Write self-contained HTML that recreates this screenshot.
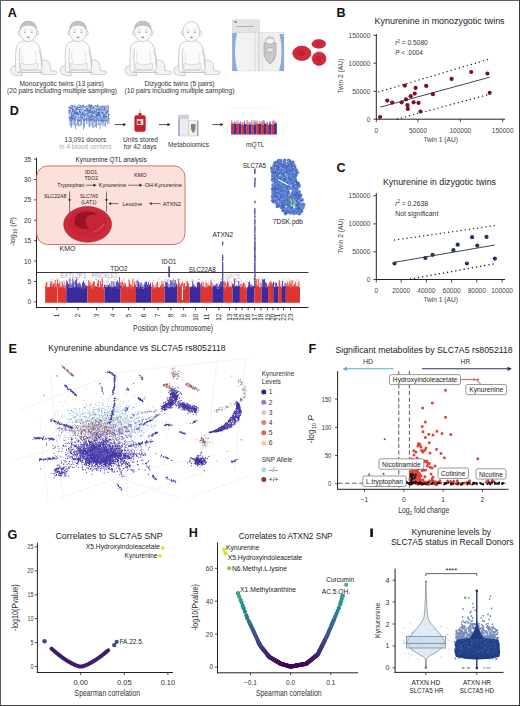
<!DOCTYPE html>
<html><head><meta charset="utf-8"><style>
html,body{margin:0;padding:0;background:#fff;}
svg{display:block;font-family:"Liberation Sans", sans-serif;}
</style></head><body>
<svg width="520" height="706" viewBox="0 0 520 706">
<rect x="0" y="0" width="520" height="706" fill="#fff"/>
<path d="M0 0.5H520" stroke="#5c5c5c" stroke-width="1"/><path d="M0.5 0V706" stroke="#5c5c5c" stroke-width="1"/><path d="M519.5 0V706" stroke="#3a3a3a" stroke-width="1"/><path d="M0 705.5H520" stroke="#444" stroke-width="1"/>
<text x="7.8" y="16.8" font-size="12.6" font-weight="bold" fill="#111">A</text>
<text x="336.6" y="17.3" font-size="12.6" font-weight="bold" fill="#111">B</text>
<text x="336.4" y="171.5" font-size="12.6" font-weight="bold" fill="#111">C</text>
<text x="9.8" y="114.8" font-size="12.6" font-weight="bold" fill="#111">D</text>
<text x="8.6" y="352.9" font-size="12.6" font-weight="bold" fill="#111">E</text>
<text x="308.5" y="353.3" font-size="12.6" font-weight="bold" fill="#111">F</text>
<text x="7.4" y="538.6" font-size="12.6" font-weight="bold" fill="#111">G</text>
<text x="188.8" y="537.0" font-size="12.6" font-weight="bold" fill="#111">H</text>
<rect x="370.3" y="528.5" width="2.6" height="8.5" fill="#111"/>
<g transform="translate(28.3,21.4)" fill="#fafafa" stroke="#b2b2b2" stroke-width="0.6" stroke-linejoin="round"><path d="M-8 44 q-6 -1 -9 2 q-2 4 1 7 q4 2 10 1 z" fill="#f2f2f2"/><path d="M13 39 q5 -2 8 2 q2 5 1 8 l6 1 q2 2 -1 3 l-14 0 q-3 -4 0 -14z" fill="#f4f4f4"/><path d="M-4.5 19.5 q-6 1 -7.5 6 q-1.5 10 -0.5 24 q1 2 3 1.5 l1 -2 h19 q1.5 1 3 -0.5 q1 -12 -2 -22 q-2 -6 -8 -7.5 z" fill="#fbfbfb"/><path d="M-8.5 27 q-1 10 0 21 M11 28 q2 9 2.5 17" fill="none"/><path d="M-6 30 q-1 8 1 12 M7 30 q2 7 0 12" fill="none" stroke="#d4d4d4"/><path d="M-7.5 42 q8 3 17 0 l0.5 5.5 q-9 2 -18 0 z" fill="#f3f3f3" stroke="#c4c4c4"/><path d="M-11 51 h26" stroke="#c8c8c8" stroke-width="1.2"/><ellipse cx="-8.7" cy="11.6" rx="1.5" ry="2.3"/><ellipse cx="8.7" cy="11.6" rx="1.5" ry="2.3"/><ellipse cx="0" cy="10.2" rx="8.5" ry="10" fill="#fbfbfb"/><path d="M-8.2 8 q0 -8 8.2 -8.2 q8.2 0.2 8.2 8.2 q-2 -4 -8.2 -4.4 q-6.2 0.4 -8.2 4.4z" fill="#c4c4c4" stroke="#a8a8a8"/><path d="M-4.6 10.8h2.4M2.2 10.8h2.4" stroke="#8a8a8a" stroke-width="0.8"/><path d="M-5 8.6q1.5 -0.8 3 0M2 8.6q1.5 -0.8 3 0" stroke="#b0b0b0" stroke-width="0.5" fill="none"/><ellipse cx="0" cy="16" rx="1.5" ry="0.8" fill="#9a9a9a" stroke="none"/></g>
<g transform="translate(78.0,21.4)" fill="#fafafa" stroke="#b2b2b2" stroke-width="0.6" stroke-linejoin="round"><path d="M-8 44 q-6 -1 -9 2 q-2 4 1 7 q4 2 10 1 z" fill="#f2f2f2"/><path d="M13 39 q5 -2 8 2 q2 5 1 8 l6 1 q2 2 -1 3 l-14 0 q-3 -4 0 -14z" fill="#f4f4f4"/><path d="M-4.5 19.5 q-6 1 -7.5 6 q-1.5 10 -0.5 24 q1 2 3 1.5 l1 -2 h19 q1.5 1 3 -0.5 q1 -12 -2 -22 q-2 -6 -8 -7.5 z" fill="#fbfbfb"/><path d="M-8.5 27 q-1 10 0 21 M11 28 q2 9 2.5 17" fill="none"/><path d="M-6 30 q-1 8 1 12 M7 30 q2 7 0 12" fill="none" stroke="#d4d4d4"/><path d="M-7.5 42 q8 3 17 0 l0.5 5.5 q-9 2 -18 0 z" fill="#f3f3f3" stroke="#c4c4c4"/><path d="M-11 51 h26" stroke="#c8c8c8" stroke-width="1.2"/><ellipse cx="-8.7" cy="11.6" rx="1.5" ry="2.3"/><ellipse cx="8.7" cy="11.6" rx="1.5" ry="2.3"/><ellipse cx="0" cy="10.2" rx="8.5" ry="10" fill="#fbfbfb"/><path d="M-8.2 8 q0 -8 8.2 -8.2 q8.2 0.2 8.2 8.2 q-2 -4 -8.2 -4.4 q-6.2 0.4 -8.2 4.4z" fill="#c4c4c4" stroke="#a8a8a8"/><path d="M-4.6 10.8h2.4M2.2 10.8h2.4" stroke="#8a8a8a" stroke-width="0.8"/><path d="M-5 8.6q1.5 -0.8 3 0M2 8.6q1.5 -0.8 3 0" stroke="#b0b0b0" stroke-width="0.5" fill="none"/><ellipse cx="0" cy="16" rx="1.5" ry="0.8" fill="#9a9a9a" stroke="none"/></g>
<g transform="translate(142.8,21.4)" fill="#fafafa" stroke="#b2b2b2" stroke-width="0.6" stroke-linejoin="round"><path d="M-8 44 q-6 -1 -9 2 q-2 4 1 7 q4 2 10 1 z" fill="#f2f2f2"/><path d="M13 39 q5 -2 8 2 q2 5 1 8 l6 1 q2 2 -1 3 l-14 0 q-3 -4 0 -14z" fill="#f4f4f4"/><path d="M-4.5 19.5 q-6 1 -7.5 6 q-1.5 10 -0.5 24 q1 2 3 1.5 l1 -2 h19 q1.5 1 3 -0.5 q1 -12 -2 -22 q-2 -6 -8 -7.5 z" fill="#fbfbfb"/><path d="M-8.5 27 q-1 10 0 21 M11 28 q2 9 2.5 17" fill="none"/><path d="M-6 30 q-1 8 1 12 M7 30 q2 7 0 12" fill="none" stroke="#d4d4d4"/><path d="M-7.5 42 q8 3 17 0 l0.5 5.5 q-9 2 -18 0 z" fill="#f3f3f3" stroke="#c4c4c4"/><path d="M-11 51 h26" stroke="#c8c8c8" stroke-width="1.2"/><ellipse cx="-8.7" cy="11.6" rx="1.5" ry="2.3"/><ellipse cx="8.7" cy="11.6" rx="1.5" ry="2.3"/><ellipse cx="0" cy="10.2" rx="8.5" ry="10" fill="#fbfbfb"/><path d="M-8.2 8 q0 -8 8.2 -8.2 q8.2 0.2 8.2 8.2 q-2 -4 -8.2 -4.4 q-6.2 0.4 -8.2 4.4z" fill="#c4c4c4" stroke="#a8a8a8"/><path d="M-4.6 10.8h2.4M2.2 10.8h2.4" stroke="#8a8a8a" stroke-width="0.8"/><path d="M-5 8.6q1.5 -0.8 3 0M2 8.6q1.5 -0.8 3 0" stroke="#b0b0b0" stroke-width="0.5" fill="none"/><ellipse cx="0" cy="16" rx="1.5" ry="0.8" fill="#9a9a9a" stroke="none"/></g>
<g transform="translate(191.4,21.4)" fill="#fafafa" stroke="#b2b2b2" stroke-width="0.6" stroke-linejoin="round"><path d="M-8 44 q-6 -1 -9 2 q-2 4 1 7 q4 2 10 1 z" fill="#f2f2f2"/><path d="M13 39 q5 -2 8 2 q2 5 1 8 l6 1 q2 2 -1 3 l-14 0 q-3 -4 0 -14z" fill="#f4f4f4"/><path d="M-4.5 19.5 q-6 1 -7.5 6 q-1.5 10 -0.5 24 q1 2 3 1.5 l1 -2 h19 q1.5 1 3 -0.5 q1 -12 -2 -22 q-2 -6 -8 -7.5 z" fill="#fbfbfb"/><path d="M-8.5 27 q-1 10 0 21 M11 28 q2 9 2.5 17" fill="none"/><path d="M-6 30 q-1 8 1 12 M7 30 q2 7 0 12" fill="none" stroke="#d4d4d4"/><path d="M-7.5 42 q8 3 17 0 l0.5 5.5 q-9 2 -18 0 z" fill="#f3f3f3" stroke="#c4c4c4"/><path d="M-11 51 h26" stroke="#c8c8c8" stroke-width="1.2"/><ellipse cx="-8.7" cy="11.6" rx="1.5" ry="2.3"/><ellipse cx="8.7" cy="11.6" rx="1.5" ry="2.3"/><ellipse cx="0" cy="10.2" rx="8.5" ry="10" fill="#fbfbfb"/><path d="M-4.6 10.8h2.4M2.2 10.8h2.4" stroke="#8a8a8a" stroke-width="0.8"/><path d="M-5 8.6q1.5 -0.8 3 0M2 8.6q1.5 -0.8 3 0" stroke="#b0b0b0" stroke-width="0.5" fill="none"/><ellipse cx="0" cy="16" rx="1.5" ry="0.8" fill="#9a9a9a" stroke="none"/></g>
<text x="19.5" y="85.6" font-size="7.3" textLength="84.2" lengthAdjust="spacingAndGlyphs" fill="#333">Monozygotic twins (13 pairs)</text>
<text x="7.0" y="93.1" font-size="7.3" textLength="110.0" lengthAdjust="spacingAndGlyphs" fill="#333">(20 pairs including multiple sampling)</text>
<text x="144.5" y="85.6" font-size="7.3" textLength="70.0" lengthAdjust="spacingAndGlyphs" fill="#333">Dizygotic twins (5 pairs)</text>
<text x="124.5" y="93.1" font-size="7.3" textLength="110.0" lengthAdjust="spacingAndGlyphs" fill="#333">(10 pairs including multiple sampling)</text>
<g>
<rect x="232.2" y="19.8" width="27.4" height="13" fill="#e4e4e4" stroke="#cfcfcf" stroke-width="0.4"/>
<rect x="234" y="21.2" width="3" height="1.8" fill="#9a9a9a"/>
<rect x="236.5" y="26.2" width="17" height="0.8" fill="#a0a0a0"/>
<rect x="232.2" y="32.8" width="27.4" height="38.2" fill="#f2f2f2" stroke="#cfcfcf" stroke-width="0.4"/>
<path d="M232.2 33 H237 Q234.8 42 235 52 Q235.3 63 237.5 71 H232.2Z" fill="#8fa9da"/>
<path d="M255 33 V71" stroke="#d4d4d4" stroke-width="0.8"/>
<rect x="257.6" y="33" width="2" height="38" fill="#dcdcdc"/>
<rect x="259.6" y="32.3" width="24.4" height="38.7" fill="#f0f0f0" stroke="#cfcfcf" stroke-width="0.4"/>
<path d="M284 34 H279.5 Q281.8 44 281.6 53 Q281.4 63 279 71 H284Z" fill="#8fa9da"/>
<path d="M262.2 33 v38" stroke="#d2d2d2" stroke-width="0.6"/>
<path d="M264 43 q6 -2.5 12 0 v11 q-1 7 -6 10 q-5 -3 -6 -10z" fill="#c9c9c9" stroke="#8a8a8a" stroke-width="0.5"/>
<ellipse cx="270" cy="40.5" rx="4.2" ry="3.6" fill="#f2f2f2" stroke="#8a8a8a" stroke-width="0.5"/>
<path d="M267 39 q3 -2 6 0" stroke="#888" stroke-width="0.5" fill="none"/>
<rect x="266.8" y="48" width="6.4" height="4" rx="0.8" fill="#e8e8e8" stroke="#888" stroke-width="0.4"/>
</g>
<ellipse cx="301.8" cy="53.3" rx="9.1" ry="7.2" fill="#d42a3e" stroke="#a81a2a" stroke-width="0.6"/>
<ellipse cx="301.3" cy="53.3" rx="4.095" ry="2.8800000000000003" fill="#b01c30" opacity="0.6"/>
<ellipse cx="318.8" cy="43.9" rx="6.9" ry="4.3" fill="#d42a3e" stroke="#a81a2a" stroke-width="0.6"/>
<ellipse cx="318.3" cy="43.9" rx="3.1050000000000004" ry="1.72" fill="#b01c30" opacity="0.6"/>
<ellipse cx="319.1" cy="58.7" rx="6.9" ry="6.7" fill="#d42a3e" stroke="#a81a2a" stroke-width="0.6"/>
<ellipse cx="318.6" cy="58.7" rx="3.1050000000000004" ry="2.68" fill="#b01c30" opacity="0.6"/>
<text x="374.6" y="24.0" font-size="9.2" textLength="130.0" lengthAdjust="spacingAndGlyphs" fill="#222">Kynurenine in monozygotic twins</text>
<line x1="376.3" y1="34.0" x2="376.3" y2="119.7" stroke="#222" stroke-width="1"/>
<line x1="375.8" y1="119.2" x2="505.0" y2="119.2" stroke="#222" stroke-width="1"/>
<line x1="373.3" y1="35.3" x2="376.3" y2="35.3" stroke="#222" stroke-width="0.8"/>
<text x="370.3" y="37.8" font-size="7.1" textLength="21.8" lengthAdjust="spacingAndGlyphs" text-anchor="end" fill="#444">150000</text>
<line x1="373.3" y1="63.2" x2="376.3" y2="63.2" stroke="#222" stroke-width="0.8"/>
<text x="370.3" y="65.7" font-size="7.1" textLength="21.8" lengthAdjust="spacingAndGlyphs" text-anchor="end" fill="#444">100000</text>
<line x1="373.3" y1="91.3" x2="376.3" y2="91.3" stroke="#222" stroke-width="0.8"/>
<text x="370.3" y="93.8" font-size="7.1" textLength="18.1" lengthAdjust="spacingAndGlyphs" text-anchor="end" fill="#444">50000</text>
<line x1="373.3" y1="119.2" x2="376.3" y2="119.2" stroke="#222" stroke-width="0.8"/>
<text x="370.3" y="121.7" font-size="7.1" textLength="3.6" lengthAdjust="spacingAndGlyphs" text-anchor="end" fill="#444">0</text>
<line x1="376.3" y1="119.2" x2="376.3" y2="122.2" stroke="#222" stroke-width="0.8"/>
<text x="376.3" y="132.5" font-size="7.1" textLength="3.6" lengthAdjust="spacingAndGlyphs" text-anchor="middle" fill="#444">0</text>
<line x1="418.0" y1="119.2" x2="418.0" y2="122.2" stroke="#222" stroke-width="0.8"/>
<text x="418.0" y="132.5" font-size="7.1" textLength="18.1" lengthAdjust="spacingAndGlyphs" text-anchor="middle" fill="#444">50000</text>
<line x1="460.3" y1="119.2" x2="460.3" y2="122.2" stroke="#222" stroke-width="0.8"/>
<text x="460.3" y="132.5" font-size="7.1" textLength="21.8" lengthAdjust="spacingAndGlyphs" text-anchor="middle" fill="#444">100000</text>
<line x1="502.7" y1="119.2" x2="502.7" y2="122.2" stroke="#222" stroke-width="0.8"/>
<text x="502.7" y="132.5" font-size="7.1" textLength="21.8" lengthAdjust="spacingAndGlyphs" text-anchor="middle" fill="#444">150000</text>
<text x="423.4" y="141.5" font-size="7.8" textLength="34.6" lengthAdjust="spacingAndGlyphs" fill="#444">Twin 1 (AU)</text>
<text transform="translate(343.2,93.6) rotate(-90)" font-size="7.8" textLength="35" lengthAdjust="spacingAndGlyphs" fill="#444">Twin 2 (AU)</text>
<line x1="378.7" y1="91.9" x2="489.7" y2="59.0" stroke="#222" stroke-width="1.35" stroke-dasharray="0.1 4.1" stroke-linecap="round"/>
<line x1="397.4" y1="119.0" x2="489.7" y2="94.2" stroke="#222" stroke-width="1.35" stroke-dasharray="0.1 4.1" stroke-linecap="round"/>
<line x1="380.1" y1="107.2" x2="489.7" y2="77.2" stroke="#333" stroke-width="0.9"/>
<circle cx="380.1" cy="117" r="2.1" fill="#7a1020"/>
<circle cx="387.3" cy="100.6" r="2.1" fill="#7a1020"/>
<circle cx="392.2" cy="102.6" r="2.1" fill="#7a1020"/>
<circle cx="401.7" cy="102.3" r="2.1" fill="#7a1020"/>
<circle cx="404.9" cy="85.6" r="2.1" fill="#7a1020"/>
<circle cx="406" cy="99.4" r="2.1" fill="#7a1020"/>
<circle cx="407.5" cy="105.2" r="2.1" fill="#7a1020"/>
<circle cx="407.8" cy="108.9" r="2.1" fill="#7a1020"/>
<circle cx="410.7" cy="96.2" r="2.1" fill="#7a1020"/>
<circle cx="413.6" cy="102.3" r="2.1" fill="#7a1020"/>
<circle cx="414.7" cy="93.6" r="2.1" fill="#7a1020"/>
<circle cx="415.6" cy="87.9" r="2.1" fill="#7a1020"/>
<circle cx="418.5" cy="102.9" r="2.1" fill="#7a1020"/>
<circle cx="420.5" cy="111.5" r="2.1" fill="#7a1020"/>
<circle cx="426.2" cy="85.9" r="2.1" fill="#7a1020"/>
<circle cx="432.9" cy="94.2" r="2.1" fill="#7a1020"/>
<circle cx="451.6" cy="78.9" r="2.1" fill="#7a1020"/>
<circle cx="471.2" cy="72" r="2.1" fill="#7a1020"/>
<circle cx="487.4" cy="73.5" r="2.1" fill="#7a1020"/>
<circle cx="489.7" cy="92.8" r="2.1" fill="#7a1020"/>
<text x="395.3" y="45.2" font-size="7.1" textLength="32.5" lengthAdjust="spacingAndGlyphs" fill="#333"><tspan font-style="italic">r</tspan><tspan font-size="4.5" dy="-2.5">2</tspan><tspan dy="2.5"> = 0.5080</tspan></text>
<text x="395.3" y="55.3" font-size="7.1" textLength="27.5" lengthAdjust="spacingAndGlyphs" fill="#333"><tspan font-style="italic">P</tspan> &lt; .0004</text>
<text x="383.0" y="184.6" font-size="9.2" textLength="113.0" lengthAdjust="spacingAndGlyphs" fill="#222">Kynurenine in dizygotic twins</text>
<line x1="376.3" y1="193.2" x2="376.3" y2="280.0" stroke="#222" stroke-width="1"/>
<line x1="375.8" y1="279.5" x2="505.0" y2="279.5" stroke="#222" stroke-width="1"/>
<line x1="373.3" y1="195.7" x2="376.3" y2="195.7" stroke="#222" stroke-width="0.8"/>
<text x="370.3" y="198.2" font-size="7.1" textLength="21.8" lengthAdjust="spacingAndGlyphs" text-anchor="end" fill="#444">150000</text>
<line x1="373.3" y1="223.9" x2="376.3" y2="223.9" stroke="#222" stroke-width="0.8"/>
<text x="370.3" y="226.4" font-size="7.1" textLength="21.8" lengthAdjust="spacingAndGlyphs" text-anchor="end" fill="#444">100000</text>
<line x1="373.3" y1="251.9" x2="376.3" y2="251.9" stroke="#222" stroke-width="0.8"/>
<text x="370.3" y="254.4" font-size="7.1" textLength="18.1" lengthAdjust="spacingAndGlyphs" text-anchor="end" fill="#444">50000</text>
<line x1="373.3" y1="279.5" x2="376.3" y2="279.5" stroke="#222" stroke-width="0.8"/>
<text x="370.3" y="282.0" font-size="7.1" textLength="3.6" lengthAdjust="spacingAndGlyphs" text-anchor="end" fill="#444">0</text>
<line x1="376.3" y1="279.5" x2="376.3" y2="282.5" stroke="#222" stroke-width="0.8"/>
<text x="376.3" y="292.8" font-size="7.1" textLength="3.6" lengthAdjust="spacingAndGlyphs" text-anchor="middle" fill="#444">0</text>
<line x1="401.2" y1="279.5" x2="401.2" y2="282.5" stroke="#222" stroke-width="0.8"/>
<text x="401.2" y="292.8" font-size="7.1" textLength="18.1" lengthAdjust="spacingAndGlyphs" text-anchor="middle" fill="#444">20000</text>
<line x1="426.4" y1="279.5" x2="426.4" y2="282.5" stroke="#222" stroke-width="0.8"/>
<text x="426.4" y="292.8" font-size="7.1" textLength="18.1" lengthAdjust="spacingAndGlyphs" text-anchor="middle" fill="#444">40000</text>
<line x1="451.6" y1="279.5" x2="451.6" y2="282.5" stroke="#222" stroke-width="0.8"/>
<text x="451.6" y="292.8" font-size="7.1" textLength="18.1" lengthAdjust="spacingAndGlyphs" text-anchor="middle" fill="#444">60000</text>
<line x1="476.8" y1="279.5" x2="476.8" y2="282.5" stroke="#222" stroke-width="0.8"/>
<text x="476.8" y="292.8" font-size="7.1" textLength="18.1" lengthAdjust="spacingAndGlyphs" text-anchor="middle" fill="#444">80000</text>
<line x1="502.1" y1="279.5" x2="502.1" y2="282.5" stroke="#222" stroke-width="0.8"/>
<text x="502.1" y="292.8" font-size="7.1" textLength="21.8" lengthAdjust="spacingAndGlyphs" text-anchor="middle" fill="#444">100000</text>
<text x="423.4" y="301.8" font-size="7.8" textLength="34.6" lengthAdjust="spacingAndGlyphs" fill="#444">Twin 1 (AU)</text>
<text transform="translate(343.2,253.4) rotate(-90)" font-size="7.8" textLength="35" lengthAdjust="spacingAndGlyphs" fill="#444">Twin 2 (AU)</text>
<line x1="394.5" y1="240.1" x2="496.0" y2="225.4" stroke="#222" stroke-width="1.35" stroke-dasharray="0.1 4.1" stroke-linecap="round"/>
<line x1="410.4" y1="279.0" x2="496.0" y2="263.5" stroke="#222" stroke-width="1.35" stroke-dasharray="0.1 4.1" stroke-linecap="round"/>
<line x1="394.5" y1="262.3" x2="494.9" y2="245.0" stroke="#333" stroke-width="0.9"/>
<circle cx="394.5" cy="263.5" r="2.1" fill="#1d3a5e"/>
<circle cx="425.4" cy="258" r="2.1" fill="#1d3a5e"/>
<circle cx="432.6" cy="254.8" r="2.1" fill="#1d3a5e"/>
<circle cx="453.4" cy="250.2" r="2.1" fill="#1d3a5e"/>
<circle cx="457.7" cy="244.7" r="2.1" fill="#1d3a5e"/>
<circle cx="466.9" cy="263.5" r="2.1" fill="#1d3a5e"/>
<circle cx="472.1" cy="237.2" r="2.1" fill="#1d3a5e"/>
<circle cx="477.3" cy="245.6" r="2.1" fill="#1d3a5e"/>
<circle cx="486.5" cy="236.9" r="2.1" fill="#1d3a5e"/>
<circle cx="494.9" cy="258.6" r="2.1" fill="#1d3a5e"/>
<text x="395.3" y="205.8" font-size="7.1" textLength="32.7" lengthAdjust="spacingAndGlyphs" fill="#333"><tspan font-style="italic">r</tspan><tspan font-size="4.5" dy="-2.5">2</tspan><tspan dy="2.5"> = 0.2638</tspan></text>
<text x="395.3" y="215.9" font-size="7.1" textLength="43.0" lengthAdjust="spacingAndGlyphs" fill="#333">Not significant</text>
<path d="M69.5 106 L108.5 105.5 L108.8 119 L69.2 118.5Z" fill="#8ca6da"/>
<path d="M82.0 107.4h0M95.0 106.2h0M90.4 110.9h0M71.3 113.1h0M70.5 111.9h0M71.8 106.5h0M86.0 118.2h0M74.0 108.6h0M94.1 120.2h0M92.1 111.3h0M108.1 105.7h0M103.3 109.6h0M74.8 106.9h0M81.3 118.1h0M76.2 114.3h0M94.6 111.0h0M90.9 106.0h0M71.4 108.3h0M96.2 111.8h0M81.6 114.4h0M87.1 109.8h0M100.8 116.2h0M78.8 114.2h0M90.0 119.0h0M98.2 109.6h0M108.2 106.9h0M85.7 117.1h0M75.1 112.8h0M70.6 115.7h0M99.6 114.2h0M104.0 110.0h0M96.8 114.5h0M92.2 112.3h0M102.6 120.1h0M88.0 115.6h0M71.4 116.2h0M94.9 120.9h0M101.9 109.6h0M84.4 115.7h0M69.9 112.4h0M75.7 106.9h0M71.4 117.3h0M74.2 109.0h0M84.6 118.9h0M72.2 112.2h0M91.0 119.1h0M101.8 118.8h0M80.1 111.6h0M83.4 119.1h0M107.3 107.4h0M76.0 108.7h0M78.3 112.8h0M92.6 109.2h0M69.2 111.7h0M83.8 114.1h0M107.1 116.0h0M89.6 114.9h0M96.0 105.9h0M105.0 117.5h0M104.0 117.8h0M84.7 111.4h0M73.1 115.1h0M71.5 106.1h0M77.4 107.6h0M82.6 105.8h0M69.0 107.4h0M73.1 110.8h0M70.0 119.0h0M93.6 107.4h0M79.1 110.6h0M83.6 107.0h0M103.0 120.9h0M87.6 112.7h0M72.4 106.6h0M82.7 109.2h0M102.2 107.6h0M69.9 120.2h0M90.1 107.3h0M90.7 105.4h0M90.1 120.7h0M103.5 116.1h0M79.4 110.9h0M75.7 117.4h0M90.3 117.5h0M82.2 108.6h0M101.5 120.8h0M103.1 117.9h0M101.7 116.8h0M78.1 113.3h0M83.2 105.5h0M70.1 109.5h0M79.4 116.1h0M107.3 112.2h0M106.5 120.8h0M107.2 110.8h0M77.8 108.6h0M76.9 108.3h0M94.0 119.4h0M102.6 112.7h0M95.1 117.8h0M72.4 115.6h0M105.4 117.5h0M99.0 112.6h0M76.1 117.6h0M82.3 117.8h0M107.9 111.3h0M85.1 120.1h0M98.0 107.7h0M74.1 107.4h0M105.2 117.9h0M74.8 118.2h0M108.2 115.5h0M83.0 113.8h0M74.2 105.2h0M107.8 115.4h0M90.1 119.9h0M86.4 118.9h0M102.0 108.4h0M79.1 109.7h0M78.6 114.4h0M79.4 111.7h0M74.2 119.6h0M83.2 112.3h0M92.3 119.5h0M85.8 119.7h0M89.1 113.5h0M89.9 105.3h0M86.6 107.9h0M69.2 117.8h0M75.9 112.6h0M98.0 113.9h0M82.0 113.3h0M91.2 117.5h0M73.2 114.0h0M78.9 109.4h0M99.9 113.1h0M91.5 117.2h0M105.5 112.1h0M93.5 113.1h0M89.5 116.1h0M87.1 113.5h0M88.1 120.1h0M97.0 119.0h0M106.7 109.2h0M91.4 120.1h0M102.6 107.2h0M73.9 112.1h0M71.9 108.9h0M71.9 115.7h0M100.4 119.4h0M75.2 116.5h0M95.4 107.3h0M104.3 120.5h0M77.8 120.2h0M84.9 112.8h0M108.6 118.3h0M75.5 111.9h0M89.6 110.4h0M76.8 110.1h0M97.9 105.3h0M91.2 112.0h0M69.7 110.3h0M94.0 113.2h0M71.6 120.8h0M100.5 120.5h0M73.2 109.2h0M70.6 117.5h0M79.8 107.1h0M85.9 119.6h0M101.8 109.1h0M75.0 119.7h0M91.8 116.2h0M72.6 105.9h0M96.5 111.8h0M71.9 120.0h0M94.4 117.8h0M72.3 118.7h0M71.7 118.8h0M87.2 110.4h0M91.1 119.8h0M79.7 107.1h0M90.1 108.8h0M73.4 107.6h0M71.0 108.2h0M81.5 109.9h0M99.4 109.6h0M89.0 107.8h0M82.9 105.3h0M79.0 105.2h0M98.3 113.8h0M76.6 112.6h0M106.4 106.7h0M101.8 111.9h0M88.8 118.4h0M84.7 113.1h0M96.5 120.7h0M82.7 118.3h0M97.3 115.2h0M85.2 110.6h0M71.2 107.1h0M71.8 116.9h0M79.2 107.6h0M72.4 118.5h0M103.8 115.7h0M80.3 108.9h0M80.7 112.4h0M75.3 112.1h0M79.5 120.4h0M107.9 113.8h0M78.8 120.5h0M81.4 110.7h0M69.0 111.1h0M88.0 113.0h0M77.0 113.1h0M69.2 109.2h0M72.6 111.4h0M70.7 105.4h0M81.2 108.7h0M92.4 113.5h0M99.0 115.5h0M97.6 119.1h0M84.6 110.2h0M108.4 107.4h0M98.0 115.3h0M70.8 118.4h0M104.7 115.0h0M98.4 118.0h0M74.6 113.4h0M89.2 118.4h0M101.2 118.2h0M92.4 119.3h0M96.3 116.1h0M78.2 105.5h0M74.3 110.8h0M73.2 118.4h0M91.3 115.0h0M94.0 115.9h0M88.6 105.1h0M100.9 117.0h0M89.1 113.6h0M95.4 106.1h0M98.5 109.0h0M72.0 109.2h0M98.2 108.3h0M98.6 120.6h0M88.8 111.1h0M88.2 115.9h0M99.7 114.9h0M94.7 106.2h0M74.9 109.1h0M98.7 109.9h0M91.7 105.2h0M71.4 109.3h0M95.9 116.1h0M96.0 109.7h0M89.7 112.4h0M87.7 106.9h0M104.7 108.2h0M108.1 120.0h0M69.7 112.3h0M101.8 120.5h0M87.0 109.3h0M77.4 120.1h0M77.4 114.3h0M74.7 113.4h0M107.1 107.1h0M101.8 113.1h0M104.5 116.3h0M78.3 119.4h0M88.4 105.4h0M69.1 112.9h0M87.0 109.8h0M74.6 110.5h0M81.6 118.4h0M69.1 117.0h0M102.6 106.9h0M106.1 116.4h0M105.1 109.6h0M83.9 111.3h0M109.0 114.4h0M83.4 111.8h0M80.0 105.8h0M73.1 118.4h0M80.4 120.0h0M79.0 109.3h0M89.4 108.0h0M83.9 120.3h0M104.4 118.0h0M94.2 119.6h0M106.6 113.8h0M97.8 105.8h0M98.3 112.2h0M99.1 115.3h0M80.4 105.8h0M106.1 107.0h0M87.9 110.5h0M80.9 116.8h0M108.1 109.2h0M95.2 109.8h0M91.3 111.3h0" stroke="#4e6fbf" stroke-width="1.5" stroke-linecap="round"/>
<path d="M75.7 107.3h0M77.3 118.1h0M88.9 108.2h0M105.3 119.4h0M87.0 107.0h0M76.7 106.3h0M82.7 106.3h0M78.6 108.7h0M91.8 117.9h0M99.0 111.0h0M85.6 112.6h0M84.1 109.9h0M71.5 109.0h0M107.7 106.8h0M89.1 114.1h0M103.5 108.1h0M79.8 108.6h0M85.0 111.5h0M107.2 117.3h0M103.9 105.3h0M70.3 115.3h0M104.8 111.9h0M92.5 105.0h0M84.7 118.4h0M102.0 117.4h0M107.9 108.6h0M73.4 107.2h0M89.9 114.9h0M106.7 115.5h0M94.9 116.1h0M87.3 113.0h0M70.6 116.3h0M78.3 118.3h0M94.8 109.4h0M74.1 108.7h0M94.5 115.1h0M73.5 106.0h0M90.0 113.5h0M84.5 108.2h0M93.0 105.2h0M81.1 111.7h0M107.4 114.3h0M104.4 111.9h0M78.4 108.6h0M107.4 115.2h0M81.3 105.3h0M88.9 114.8h0M85.8 108.7h0M95.7 118.4h0M78.1 105.5h0M82.5 111.1h0M96.3 107.9h0M100.9 115.7h0M89.2 108.0h0M107.8 109.5h0M101.8 108.3h0M77.9 116.0h0M80.8 118.8h0M88.8 107.7h0M77.9 111.0h0M95.6 118.8h0M74.9 110.7h0M77.5 119.1h0M74.7 105.8h0M71.4 110.7h0M104.9 117.8h0M98.3 119.5h0M106.3 109.8h0M76.4 118.6h0M98.9 105.5h0M95.6 110.5h0M84.0 109.8h0M75.8 105.0h0M80.2 110.1h0M107.2 106.8h0M107.6 108.0h0M83.3 116.9h0M101.9 111.3h0M71.0 111.9h0M83.9 118.3h0M76.7 110.3h0M104.9 105.4h0M85.4 116.8h0M99.7 105.6h0M70.4 105.9h0M105.8 108.7h0M98.9 118.0h0M82.6 108.9h0M107.3 113.9h0M79.5 115.4h0M81.7 109.0h0M69.2 116.0h0M105.7 114.2h0M106.7 105.4h0M78.4 111.9h0M107.3 118.8h0M84.5 108.6h0M86.2 112.2h0M106.1 107.7h0M101.1 115.7h0M101.9 116.2h0M93.3 109.8h0M81.8 110.2h0M100.3 106.1h0M76.9 115.9h0M78.9 105.9h0M70.4 113.0h0M82.0 119.2h0M104.3 119.3h0M79.6 106.2h0M72.9 112.2h0M97.4 111.5h0M78.4 111.0h0M93.8 114.8h0M98.9 117.3h0M95.6 106.8h0M102.6 109.3h0M91.7 110.4h0M98.5 107.9h0M78.9 108.6h0M75.1 117.8h0M92.1 109.7h0M84.8 119.4h0M89.3 108.4h0M101.3 114.5h0M108.6 106.5h0M88.0 116.9h0M102.6 118.3h0M70.6 109.3h0M73.8 107.7h0M107.9 113.5h0M106.2 110.4h0M103.6 111.5h0M79.4 116.3h0M106.8 106.5h0M92.8 114.0h0M77.7 110.3h0M74.7 108.0h0M79.2 113.7h0M95.1 107.9h0M69.5 109.7h0M96.1 107.7h0M81.5 107.9h0M100.8 112.9h0M71.5 106.5h0M84.8 113.0h0M94.6 106.3h0M75.5 115.1h0M85.4 109.1h0M81.3 118.8h0M81.5 113.2h0M83.3 111.0h0M103.6 119.5h0M83.6 107.9h0M98.1 108.0h0M69.2 118.1h0M86.0 116.9h0M85.2 117.8h0M87.4 107.4h0M69.6 113.0h0M94.6 118.2h0M72.6 114.0h0M83.8 112.3h0M74.8 109.1h0M89.8 118.4h0M73.4 112.1h0M101.2 119.0h0M76.9 106.8h0M106.7 119.1h0M88.3 105.8h0" stroke="#e4ebf8" stroke-width="1.1" stroke-linecap="round"/>
<path d="M70.1 118.5v7.7M71.5 118.5v9.3M73.0 118.5v6.1M74.5 118.5v6.6M75.7 118.5v10.9M77.5 118.5v6.3M78.6 118.5v7.8M80.3 118.5v7.7M81.6 118.5v6.7M83.4 118.5v11.3M84.5 118.5v8.9M86.5 118.5v5.3M88.0 118.5v5.8M89.4 118.5v8.9M90.9 118.5v7.1M92.3 118.5v9.1M93.8 118.5v9.6M95.3 118.5v8.1M96.5 118.5v9.3M98.3 118.5v6.6M100.0 118.5v10.5M101.3 118.5v6.3M102.8 118.5v5.7M104.1 118.5v8.0M105.6 118.5v8.1M107.3 118.5v5.3M108.9 118.5v5.6" stroke="#5a78c0" stroke-width="0.7"/>
<path d="M97.9 124.2h0M89.4 118.4h0M89.1 121.0h0M106.1 119.1h0M102.6 126.0h0M97.8 124.5h0M77.4 125.9h0M88.7 125.7h0M104.8 119.3h0M100.0 125.4h0M72.5 120.8h0M98.7 119.3h0M104.1 120.2h0M101.0 119.1h0M89.1 125.4h0M77.9 120.1h0M89.2 120.6h0M71.4 119.5h0M76.1 125.5h0M95.8 125.2h0M76.4 124.3h0M74.4 122.2h0M94.2 120.9h0M103.2 122.4h0M92.0 125.1h0M74.0 125.9h0M93.9 121.2h0M100.3 120.1h0M107.6 122.6h0M83.7 124.1h0M86.8 119.4h0M98.3 118.4h0M101.2 120.0h0M94.3 125.9h0M92.3 123.3h0M81.9 118.0h0M71.3 119.2h0M93.4 121.5h0M89.5 125.2h0M75.0 119.8h0M94.8 118.2h0M70.1 120.8h0M74.0 120.9h0M78.5 122.7h0M92.4 119.6h0M93.7 121.8h0M75.1 125.5h0M79.3 119.2h0M73.6 123.1h0M103.1 124.3h0M85.3 120.1h0M70.4 123.2h0M91.4 120.8h0M94.5 121.6h0M105.6 123.9h0M79.4 125.2h0M71.7 122.3h0M85.4 119.9h0M72.2 124.2h0M70.5 122.4h0M105.8 119.1h0M77.6 122.9h0M89.3 123.1h0M100.9 119.4h0M81.8 120.4h0M71.8 125.1h0M99.8 123.7h0M70.2 124.8h0M98.3 121.7h0M98.2 121.6h0" stroke="#7d97d0" stroke-width="1.0" stroke-linecap="round"/>
<line x1="114.5" y1="124.6" x2="123.7" y2="124.6" stroke="#222" stroke-width="0.8"/>
<path d="M126.2 124.6 l-3 -1.6 v3.2z" fill="#222"/>
<line x1="159.0" y1="124.6" x2="168.0" y2="124.6" stroke="#222" stroke-width="0.8"/>
<path d="M170.5 124.6 l-3 -1.6 v3.2z" fill="#222"/>
<line x1="212.4" y1="124.6" x2="221.0" y2="124.6" stroke="#222" stroke-width="0.8"/>
<path d="M223.5 124.6 l-3 -1.6 v3.2z" fill="#222"/>
<path d="M140 109 v6" stroke="#888" stroke-width="0.6"/>
<rect x="138.5" y="113" width="3" height="2.5" fill="#c22"/>
<rect x="134.4" y="115.3" width="11.3" height="16.4" rx="2" fill="#c8202a"/>
<rect x="136.8" y="119" width="6.5" height="6" fill="#f3d6d8"/>
<rect x="137.6" y="121" width="3" height="3" fill="#c8202a"/>
<rect x="178.3" y="115" width="10.5" height="21" fill="#ececec" stroke="#bbb" stroke-width="0.4"/>
<rect x="178.3" y="115" width="10.5" height="4" fill="#d0d0d0"/>
<rect x="178.3" y="119" width="1.4" height="17" fill="#8aa6d8"/>
<rect x="188.8" y="120.5" width="9.5" height="15.5" fill="#efefef" stroke="#bbb" stroke-width="0.4"/>
<rect x="197" y="121" width="1.3" height="15" fill="#8aa6d8"/>
<path d="M191 124 h4.5 v5 q-1 3 -2.2 4 q-1.3 -1 -2.3 -4z" fill="#7d8580"/>
<rect x="228" y="108" width="50" height="28" fill="none" stroke="#eee" stroke-width="0.5"/>
<rect x="231.00" y="123.7" width="2.39" height="10.8" fill="#d6302e"/><path d="M231.7 124.2V119.9M231.9 124.2V122.2M232.5 124.2V122.5" stroke="#d6302e" stroke-width="0.6" opacity="0.8"/><rect x="233.34" y="123.9" width="2.68" height="10.6" fill="#3a2f9a"/><path d="M234.8 124.4V121.2M235.2 124.4V121.5M234.2 124.4V121.9" stroke="#3a2f9a" stroke-width="0.6" opacity="0.8"/><rect x="235.96" y="123.8" width="2.83" height="10.7" fill="#d6302e"/><path d="M238.2 124.3V119.8M236.8 124.3V120.6M237.9 124.3V122.8" stroke="#d6302e" stroke-width="0.6" opacity="0.8"/><rect x="238.74" y="124.0" width="2.70" height="10.5" fill="#3a2f9a"/><path d="M240.8 124.5V120.9M239.5 124.5V122.7M240.3 124.5V122.0" stroke="#3a2f9a" stroke-width="0.6" opacity="0.8"/><rect x="241.39" y="125.0" width="2.65" height="9.5" fill="#d6302e"/><path d="M242.6 125.5V122.5M243.1 125.5V122.5M242.6 125.5V122.1" stroke="#d6302e" stroke-width="0.6" opacity="0.8"/><rect x="243.99" y="124.0" width="2.59" height="10.5" fill="#3a2f9a"/><path d="M244.7 124.5V121.8M244.4 124.5V122.7M244.6 124.5V119.9" stroke="#3a2f9a" stroke-width="0.6" opacity="0.8"/><rect x="246.53" y="124.9" width="2.31" height="9.6" fill="#d6302e"/><path d="M247.4 125.4V120.3M246.9 125.4V119.9M248.0 125.4V121.8" stroke="#d6302e" stroke-width="0.6" opacity="0.8"/><rect x="248.79" y="124.6" width="2.67" height="9.9" fill="#3a2f9a"/><path d="M249.2 125.1V121.7M249.8 125.1V122.4M250.7 125.1V122.7" stroke="#3a2f9a" stroke-width="0.6" opacity="0.8"/><rect x="251.41" y="124.8" width="2.29" height="9.7" fill="#d6302e"/><path d="M253.2 125.3V122.8M251.9 125.3V120.5M251.9 125.3V119.9" stroke="#d6302e" stroke-width="0.6" opacity="0.8"/><rect x="253.65" y="124.7" width="2.76" height="9.8" fill="#3a2f9a"/><path d="M255.3 125.2V122.4M255.3 125.2V120.7M254.2 125.2V120.1" stroke="#3a2f9a" stroke-width="0.6" opacity="0.8"/><rect x="256.36" y="123.8" width="2.70" height="10.7" fill="#d6302e"/><path d="M257.3 124.3V121.2M256.7 124.3V120.6M257.2 124.3V122.1" stroke="#d6302e" stroke-width="0.6" opacity="0.8"/><rect x="259.02" y="124.0" width="2.47" height="10.5" fill="#3a2f9a"/><path d="M261.1 124.5V121.4M260.9 124.5V121.8M259.4 124.5V121.1" stroke="#3a2f9a" stroke-width="0.6" opacity="0.8"/><rect x="261.44" y="124.7" width="2.51" height="9.8" fill="#d6302e"/><path d="M262.4 125.2V122.1M262.7 125.2V120.5M263.3 125.2V120.1" stroke="#d6302e" stroke-width="0.6" opacity="0.8"/><rect x="263.90" y="123.8" width="2.74" height="10.7" fill="#3a2f9a"/><path d="M264.2 124.3V120.4M265.8 124.3V122.9M264.2 124.3V121.4" stroke="#3a2f9a" stroke-width="0.6" opacity="0.8"/><rect x="266.59" y="124.7" width="2.54" height="9.8" fill="#d6302e"/><path d="M267.2 125.2V121.4M267.5 125.2V122.5M267.4 125.2V122.8" stroke="#d6302e" stroke-width="0.6" opacity="0.8"/><rect x="269.08" y="123.8" width="2.42" height="10.7" fill="#3a2f9a"/><path d="M270.6 124.3V121.4M269.6 124.3V121.8M269.5 124.3V122.3" stroke="#3a2f9a" stroke-width="0.6" opacity="0.8"/><rect x="271.46" y="124.7" width="2.67" height="9.8" fill="#d6302e"/><path d="M273.0 125.2V120.9M272.6 125.2V121.1M273.6 125.2V120.1" stroke="#d6302e" stroke-width="0.6" opacity="0.8"/><rect x="274.07" y="123.5" width="2.78" height="11.0" fill="#3a2f9a"/><path d="M274.8 124.0V120.6M276.3 124.0V121.4M275.2 124.0V122.6" stroke="#3a2f9a" stroke-width="0.6" opacity="0.8"/>
<text x="64.5" y="142.2" font-size="7.6" textLength="41.9" lengthAdjust="spacingAndGlyphs" fill="#333">13,091 donors</text>
<text x="59.2" y="149.3" font-size="7.6" textLength="52.5" lengthAdjust="spacingAndGlyphs" fill="#aaa">in 4 blood centers</text>
<text x="123.1" y="142.2" font-size="7.6" textLength="34.9" lengthAdjust="spacingAndGlyphs" fill="#333">Units stored</text>
<text x="123.8" y="149.3" font-size="7.6" textLength="32.7" lengthAdjust="spacingAndGlyphs" fill="#333">for 42 days</text>
<text x="168.0" y="147.0" font-size="7.6" textLength="41.0" lengthAdjust="spacingAndGlyphs" fill="#333">Metabolomics</text>
<text x="246.0" y="147.0" font-size="7.6" textLength="18.4" lengthAdjust="spacingAndGlyphs" fill="#333">mQTL</text>
<line x1="36.5" y1="157.7" x2="36.5" y2="307.9" stroke="#222" stroke-width="1"/>
<line x1="36.0" y1="307.5" x2="308.5" y2="307.5" stroke="#222" stroke-width="1"/>
<line x1="34.0" y1="301.9" x2="36.5" y2="301.9" stroke="#222" stroke-width="0.8"/>
<text x="31.2" y="304.3" font-size="6.8" textLength="3.6" lengthAdjust="spacingAndGlyphs" text-anchor="end" fill="#333">0</text>
<line x1="34.0" y1="281.5" x2="36.5" y2="281.5" stroke="#222" stroke-width="0.8"/>
<text x="31.2" y="283.9" font-size="6.8" textLength="3.6" lengthAdjust="spacingAndGlyphs" text-anchor="end" fill="#333">5</text>
<line x1="34.0" y1="261.1" x2="36.5" y2="261.1" stroke="#222" stroke-width="0.8"/>
<text x="31.2" y="263.5" font-size="6.8" textLength="7.2" lengthAdjust="spacingAndGlyphs" text-anchor="end" fill="#333">10</text>
<line x1="34.0" y1="240.7" x2="36.5" y2="240.7" stroke="#222" stroke-width="0.8"/>
<text x="31.2" y="243.1" font-size="6.8" textLength="7.2" lengthAdjust="spacingAndGlyphs" text-anchor="end" fill="#333">15</text>
<line x1="34.0" y1="220.3" x2="36.5" y2="220.3" stroke="#222" stroke-width="0.8"/>
<text x="31.2" y="222.7" font-size="6.8" textLength="7.2" lengthAdjust="spacingAndGlyphs" text-anchor="end" fill="#333">20</text>
<line x1="34.0" y1="199.9" x2="36.5" y2="199.9" stroke="#222" stroke-width="0.8"/>
<text x="31.2" y="202.3" font-size="6.8" textLength="7.2" lengthAdjust="spacingAndGlyphs" text-anchor="end" fill="#333">25</text>
<line x1="34.0" y1="179.5" x2="36.5" y2="179.5" stroke="#222" stroke-width="0.8"/>
<text x="31.2" y="181.9" font-size="6.8" textLength="7.2" lengthAdjust="spacingAndGlyphs" text-anchor="end" fill="#333">30</text>
<line x1="34.0" y1="159.1" x2="36.5" y2="159.1" stroke="#222" stroke-width="0.8"/>
<text x="31.2" y="161.5" font-size="6.8" textLength="7.2" lengthAdjust="spacingAndGlyphs" text-anchor="end" fill="#333">35</text>
<text transform="translate(15.2,246.2) rotate(-90)" font-size="7.8" textLength="29" lengthAdjust="spacingAndGlyphs" fill="#333">-log<tspan font-size="5.4" dy="1.8">10</tspan><tspan dy="-1.8"> (</tspan><tspan font-style="italic">P</tspan>)</text>
<path d="M45.2 302.7 L45.2 286.6 L46.4 287.3 L47.8 287.9 L49.1 286.9 L50.2 286.4 L51.6 287.7 L53.0 286.4 L54.2 287.9 L55.4 286.3 L56.6 288.2 L57.5 286.5 L57.5 302.7Z" fill="#de3530"/><path d="M57.5 302.7 L57.5 288.0 L59.1 287.3 L59.9 287.4 L61.2 287.8 L62.4 287.6 L63.8 287.3 L65.0 288.4 L65.9 287.7 L66.3 287.9 L66.3 302.7Z" fill="#de3530"/><path d="M66.3 302.7 L66.3 287.6 L67.6 286.9 L69.2 288.1 L70.0 288.1 L71.5 288.0 L72.5 288.1 L73.8 286.0 L74.6 288.4 L75.9 286.6 L76.8 286.4 L77.8 287.9 L78.8 286.4 L80.4 288.0 L81.3 288.2 L82.6 288.0 L83.9 288.2 L85.3 288.1 L86.3 287.7 L87.5 287.9 L87.5 302.7Z" fill="#3a2a9e"/><path d="M87.5 302.7 L87.5 287.2 L88.6 286.3 L89.9 286.5 L90.9 286.0 L91.7 287.7 L92.6 288.4 L93.4 288.2 L94.3 286.0 L95.7 286.6 L97.1 286.5 L97.9 287.9 L99.3 288.1 L100.7 286.2 L102.0 287.8 L103.2 288.3 L104.2 288.4 L104.5 286.0 L104.5 302.7Z" fill="#de3530"/><path d="M104.5 302.7 L104.5 286.1 L106.1 286.9 L107.0 287.6 L108.4 286.4 L109.7 286.9 L110.9 286.1 L111.7 288.5 L113.2 287.2 L114.5 286.7 L115.9 287.1 L117.5 287.9 L118.9 288.4 L119.9 286.1 L120.6 286.5 L120.6 302.7Z" fill="#3a2a9e"/><path d="M120.6 302.7 L120.6 286.1 L122.1 287.7 L123.1 287.2 L124.1 286.6 L125.1 286.9 L126.7 288.5 L128.2 286.2 L129.2 288.2 L130.1 287.8 L131.1 288.4 L131.9 288.0 L133.0 286.4 L133.8 288.1 L135.0 286.5 L136.0 288.3 L136.0 302.7Z" fill="#de3530"/><path d="M136.0 302.7 L136.0 287.1 L137.5 287.3 L138.6 288.4 L140.0 286.8 L141.0 286.8 L142.2 288.5 L143.6 288.3 L145.0 288.1 L145.9 287.3 L147.5 288.3 L148.5 287.1 L149.8 286.9 L151.0 286.2 L151.2 287.3 L151.2 302.7Z" fill="#3a2a9e"/><path d="M151.2 302.7 L151.2 287.9 L152.4 288.0 L153.7 288.3 L154.6 288.2 L155.5 287.9 L156.7 287.2 L158.3 287.4 L159.4 288.0 L160.9 287.5 L162.0 287.1 L163.2 287.8 L164.2 287.0 L164.6 287.0 L164.6 302.7Z" fill="#de3530"/><path d="M164.6 302.7 L164.6 287.0 L166.0 286.8 L167.4 286.0 L168.4 288.1 L169.7 287.7 L170.7 287.2 L171.9 286.7 L173.2 287.3 L174.8 287.4 L175.9 286.3 L176.9 287.9 L177.4 286.3 L177.4 302.7Z" fill="#3a2a9e"/><path d="M177.4 302.7 L177.4 286.7 L178.9 286.3 L180.0 288.1 L181.5 286.4 L182.5 287.8 L183.7 288.4 L184.6 288.4 L185.8 286.6 L187.0 286.3 L188.3 286.7 L189.7 287.5 L189.7 302.7Z" fill="#de3530"/><path d="M189.7 302.7 L189.7 286.0 L191.2 287.9 L192.2 286.1 L193.7 287.5 L194.5 286.6 L195.4 288.0 L196.4 288.3 L197.8 286.2 L199.1 287.0 L200.5 288.1 L200.8 286.2 L200.8 302.7Z" fill="#3a2a9e"/><path d="M200.8 302.7 L200.8 287.2 L201.9 286.4 L202.7 286.0 L204.3 287.9 L205.2 287.8 L206.8 287.4 L207.7 287.2 L208.8 286.5 L210.1 286.0 L211.6 287.6 L212.3 288.3 L212.3 302.7Z" fill="#de3530"/><path d="M212.3 302.7 L212.3 287.1 L213.6 286.9 L214.5 286.2 L215.6 287.2 L217.1 288.3 L218.6 288.4 L220.2 287.5 L221.7 286.2 L223.0 287.5 L223.8 287.4 L223.8 302.7Z" fill="#3a2a9e"/><path d="M223.8 302.7 L223.8 288.2 L225.1 288.3 L226.5 286.4 L227.9 286.9 L229.4 287.7 L230.8 286.3 L231.9 287.8 L232.5 287.8 L232.5 302.7Z" fill="#de3530"/><path d="M232.5 302.7 L232.5 286.4 L233.6 287.2 L234.9 287.0 L235.9 286.0 L237.2 286.8 L238.0 287.1 L239.6 286.1 L239.9 287.7 L239.9 302.7Z" fill="#3a2a9e"/><path d="M239.9 302.7 L239.9 287.1 L241.1 287.4 L242.1 286.4 L243.0 286.8 L244.0 287.8 L245.2 288.3 L246.3 288.3 L246.8 286.2 L246.8 302.7Z" fill="#de3530"/><path d="M246.8 302.7 L246.8 287.9 L248.1 287.0 L249.5 286.8 L250.3 287.0 L251.1 287.6 L252.2 287.2 L253.5 286.6 L254.3 286.0 L254.3 302.7Z" fill="#3a2a9e"/><path d="M254.3 302.7 L254.3 286.3 L255.1 287.3 L256.4 286.5 L257.9 286.9 L258.9 286.4 L260.3 288.3 L261.2 286.1 L261.5 286.6 L261.5 302.7Z" fill="#de3530"/><path d="M261.5 302.7 L261.5 286.7 L262.6 287.2 L264.1 286.4 L265.4 287.5 L266.6 287.4 L268.1 286.5 L268.1 286.9 L268.1 302.7Z" fill="#3a2a9e"/><path d="M268.1 302.7 L268.1 286.8 L269.6 286.3 L270.8 286.3 L271.9 286.4 L273.3 286.4 L273.3 287.3 L273.3 302.7Z" fill="#de3530"/><path d="M273.3 302.7 L273.3 287.0 L274.4 287.0 L275.3 288.5 L276.1 287.5 L277.7 286.6 L278.5 286.9 L278.5 302.7Z" fill="#3a2a9e"/><path d="M278.5 302.7 L278.5 286.8 L279.8 287.4 L280.8 287.5 L281.8 288.3 L282.0 287.8 L282.0 302.7Z" fill="#de3530"/><path d="M282.0 302.7 L282.0 286.3 L282.9 286.6 L283.8 286.9 L285.2 287.3 L285.8 286.2 L285.8 302.7Z" fill="#3a2a9e"/><path d="M285.8 302.7 L285.8 286.7 L286.9 286.6 L288.3 286.2 L289.6 288.1 L290.6 287.1 L292.0 287.5 L293.1 286.1 L294.3 286.9 L295.7 286.7 L296.8 287.6 L298.2 286.9 L299.3 287.4 L300.0 286.5 L300.0 302.7Z" fill="#de3530"/>
<path d="M53.8 284.9h0M53.6 283.3h0M50.8 280.8h0M52.9 279.2h0M50.4 284.4h0M54.0 283.2h0M48.3 281.7h0M50.8 283.2h0M50.2 283.6h0M56.6 279.9h0M53.3 284.3h0M50.0 282.2h0M57.2 278.8h0M51.9 279.7h0M64.7 282.0h0M60.1 282.6h0M58.6 284.8h0M60.6 284.9h0M59.9 281.3h0M59.7 281.7h0M59.1 278.5h0M63.9 280.6h0M59.7 280.8h0M61.7 281.7h0M92.2 284.9h0M101.2 283.6h0M103.0 281.1h0M88.9 282.7h0M101.1 280.0h0M100.3 285.5h0M91.5 283.1h0M99.0 282.0h0M91.0 280.4h0M100.3 284.4h0M95.3 279.2h0M101.2 284.3h0M91.5 282.8h0M102.7 285.1h0M96.4 282.1h0M97.5 279.9h0M90.8 279.9h0M99.4 281.2h0M97.1 281.5h0M96.3 279.6h0M120.9 285.8h0M124.0 279.9h0M122.2 280.4h0M133.2 278.7h0M122.1 283.7h0M123.6 278.6h0M129.8 282.8h0M128.7 283.8h0M122.2 285.0h0M131.6 278.8h0M122.5 282.2h0M128.3 280.6h0M122.5 281.5h0M122.7 282.9h0M133.9 279.6h0M129.4 284.1h0M123.1 284.7h0M135.0 281.4h0M164.1 282.2h0M157.1 283.2h0M164.5 281.1h0M158.3 284.6h0M153.5 280.9h0M164.3 284.7h0M158.1 279.3h0M163.2 283.7h0M162.2 285.9h0M163.1 281.7h0M153.3 280.7h0M158.1 282.3h0M153.7 279.9h0M159.6 283.0h0M155.9 286.0h0M159.7 278.8h0M185.5 283.7h0M180.5 284.9h0M181.7 283.2h0M179.6 279.4h0M188.6 284.0h0M186.2 278.8h0M177.9 279.7h0M179.8 280.8h0M182.1 278.8h0M181.2 283.3h0M179.6 284.8h0M184.4 283.9h0M180.5 281.8h0M185.8 281.1h0M201.7 283.7h0M202.7 281.8h0M212.0 279.2h0M201.3 281.8h0M203.0 283.9h0M200.8 284.8h0M210.6 284.4h0M205.7 280.6h0M208.4 282.4h0M205.6 281.0h0M205.8 283.5h0M210.3 285.3h0M202.7 280.7h0M228.2 285.0h0M230.8 278.8h0M225.4 284.6h0M229.7 281.4h0M227.9 279.7h0M231.2 281.5h0M231.4 283.1h0M224.5 281.0h0M225.7 285.2h0M228.9 278.8h0M241.3 284.0h0M246.5 283.0h0M240.4 284.6h0M245.9 281.1h0M240.8 279.9h0M243.6 285.1h0M244.3 285.4h0M241.4 281.0h0M256.2 281.8h0M256.0 280.0h0M259.8 283.3h0M256.4 286.0h0M255.9 282.8h0M255.4 285.0h0M260.6 280.5h0M259.7 284.7h0M271.7 283.4h0M270.9 282.6h0M271.7 285.9h0M272.6 283.9h0M270.2 280.9h0M270.3 285.8h0M280.7 284.7h0M281.6 285.0h0M278.7 281.4h0M281.4 284.6h0M291.7 282.9h0M300.0 284.6h0M298.2 279.6h0M290.5 282.4h0M285.9 285.9h0M289.7 280.5h0M290.2 280.4h0M298.0 282.7h0M293.1 281.7h0M286.5 280.8h0M298.1 284.5h0M298.0 280.4h0M288.7 278.9h0M293.4 281.3h0M292.4 282.2h0M294.1 281.2h0M297.2 280.0h0" stroke="#eea0a0" stroke-width="1.1" stroke-linecap="round" stroke-opacity="0.9"/>
<path d="M77.9 278.9h0M72.7 278.5h0M70.3 285.4h0M79.2 283.4h0M83.0 285.3h0M79.3 283.1h0M79.6 283.7h0M78.9 283.6h0M70.8 283.5h0M76.0 284.2h0M68.4 279.9h0M67.1 284.3h0M85.7 283.4h0M74.1 284.7h0M83.0 282.7h0M71.8 280.8h0M75.2 280.9h0M75.4 283.3h0M86.1 278.9h0M78.3 278.8h0M68.8 284.6h0M78.5 285.4h0M75.8 278.6h0M74.5 282.9h0M86.2 285.9h0M116.0 280.0h0M105.1 285.5h0M108.1 285.5h0M118.5 285.2h0M106.8 281.9h0M106.1 285.5h0M118.1 283.2h0M111.8 281.0h0M117.8 282.1h0M114.6 279.6h0M108.1 278.9h0M116.0 282.7h0M106.8 285.0h0M108.8 281.6h0M107.0 280.5h0M118.0 281.0h0M107.2 282.2h0M109.6 285.3h0M106.3 285.8h0M139.4 282.3h0M141.8 282.9h0M136.2 281.1h0M149.1 280.3h0M144.5 282.2h0M140.3 285.9h0M140.5 284.3h0M138.4 279.0h0M149.2 281.8h0M136.9 281.4h0M142.7 284.0h0M137.7 280.2h0M150.6 284.0h0M138.3 281.0h0M141.4 283.6h0M145.4 284.9h0M148.5 282.4h0M147.2 284.1h0M167.4 280.8h0M175.8 282.1h0M174.7 280.3h0M166.8 281.2h0M167.0 285.8h0M168.3 282.7h0M166.1 282.5h0M169.5 281.5h0M165.4 279.4h0M175.2 281.1h0M167.7 279.9h0M168.2 280.3h0M165.0 283.5h0M169.0 279.7h0M173.6 279.2h0M193.6 280.7h0M199.5 279.6h0M196.0 281.0h0M198.8 282.6h0M198.1 279.8h0M197.1 283.0h0M194.8 284.2h0M198.9 279.4h0M192.9 281.2h0M192.0 279.0h0M192.8 280.0h0M197.5 281.9h0M191.0 280.9h0M218.6 283.9h0M221.0 279.4h0M223.7 283.9h0M213.5 284.7h0M216.8 279.8h0M223.3 282.7h0M221.2 279.5h0M221.2 278.9h0M215.0 281.3h0M212.5 283.0h0M214.8 280.7h0M220.4 281.7h0M222.5 283.2h0M237.2 281.1h0M236.6 281.5h0M232.9 281.0h0M234.9 285.9h0M236.1 281.3h0M234.3 280.3h0M235.1 279.5h0M232.6 285.0h0M249.1 284.3h0M254.1 281.9h0M248.9 282.4h0M253.9 279.5h0M246.9 282.1h0M251.7 284.3h0M249.5 285.9h0M248.5 284.2h0M247.5 278.7h0M266.2 285.1h0M268.0 278.7h0M263.0 284.4h0M266.1 278.8h0M264.8 280.2h0M264.3 279.3h0M261.6 285.9h0M276.0 282.9h0M278.5 280.3h0M276.6 284.1h0M275.3 283.8h0M275.3 282.4h0M276.5 283.6h0M283.3 281.4h0M282.1 280.0h0M284.2 278.9h0M282.7 283.9h0" stroke="#a8a0dc" stroke-width="1.1" stroke-linecap="round" stroke-opacity="0.9"/>
<path d="M45.5 288V286.5M46.1 288V282.6M46.9 288V282.0M47.6 288V287.3M48.7 288V287.3M49.3 288V287.4M50.4 288V283.8M51.1 288V281.7M51.8 288V281.2M52.6 288V285.5M53.5 288V284.0M54.1 288V283.6M55.2 288V280.0M56.2 288V283.7M56.8 288V286.7M57.6 288V279.7M58.2 288V283.6M58.7 288V283.7M59.7 288V282.7M60.4 288V287.1M61.3 288V286.2M62.2 288V281.8M63.3 288V285.1M64.1 288V282.5M65.4 288V285.2M87.5 288V286.3M88.1 288V285.7M88.7 288V280.2M89.3 288V284.7M90.1 288V281.9M91.2 288V285.2M92.3 288V283.5M93.4 288V281.2M94.3 288V281.4M95.6 288V286.4M96.4 288V287.4M97.5 288V283.0M98.4 288V279.8M99.4 288V286.8M100.6 288V281.0M101.3 288V284.8M102.4 288V278.6M103.6 288V286.6M120.8 288V281.9M121.5 288V285.6M122.1 288V281.6M123.1 288V282.8M123.8 288V285.6M124.9 288V282.3M125.5 288V283.7M126.6 288V286.3M127.3 288V286.6M128.2 288V286.9M129.1 288V279.4M129.7 288V283.4M130.4 288V284.9M130.9 288V283.9M131.8 288V285.6M132.9 288V279.6M134.0 288V285.9M134.6 288V281.8M135.5 288V284.4M151.5 288V286.5M152.4 288V282.2M153.2 288V284.7M154.1 288V287.0M154.9 288V286.4M156.2 288V283.8M157.4 288V281.3M158.3 288V287.0M159.5 288V287.5M160.4 288V285.5M161.2 288V284.9M162.0 288V280.9M162.9 288V283.4M163.7 288V284.7M177.8 288V285.0M178.4 288V278.9M179.3 288V282.8M180.5 288V285.3M181.4 288V283.5M182.0 288V286.5M182.7 288V281.7M183.7 288V284.3M184.4 288V283.0M185.1 288V285.7M185.8 288V286.9M187.0 288V281.5M187.6 288V281.2M188.6 288V283.3M201.5 288V282.6M202.1 288V286.0M203.2 288V282.2M204.2 288V287.0M204.9 288V286.4M206.0 288V282.2M207.1 288V283.4M208.1 288V286.4M208.8 288V284.7M209.8 288V285.6M211.0 288V280.2M211.9 288V282.9M223.8 288V281.6M224.8 288V281.7M226.0 288V282.7M226.7 288V286.4M227.6 288V281.1M228.2 288V282.2M229.2 288V285.5M230.0 288V286.7M230.9 288V286.3M232.2 288V283.2M240.1 288V287.4M240.9 288V283.8M242.1 288V284.1M243.3 288V282.7M243.8 288V282.7M244.9 288V283.6M245.5 288V286.6M255.3 288V285.1M256.1 288V284.0M256.8 288V278.9M257.9 288V285.2M258.7 288V278.7M259.7 288V287.0M260.9 288V282.5M268.2 288V284.2M269.4 288V282.4M270.7 288V281.1M271.4 288V282.7M272.0 288V284.3M272.8 288V283.4M279.0 288V282.4M279.6 288V280.4M280.6 288V286.3M281.2 288V286.3M286.8 288V283.4M287.8 288V281.5M288.9 288V284.4M289.8 288V281.1M290.3 288V284.0M291.2 288V283.7M292.1 288V280.0M293.0 288V286.4M294.0 288V283.6M294.5 288V284.6M295.7 288V281.8M296.3 288V286.3M296.9 288V285.9M297.9 288V285.4M298.9 288V281.4" stroke="#de3530" stroke-width="0.9"/>
<path d="M66.7 288V280.4M67.5 288V281.9M68.3 288V284.0M69.0 288V284.2M69.9 288V278.5M71.1 288V284.7M72.1 288V283.4M72.9 288V278.8M73.9 288V281.2M74.9 288V287.1M75.7 288V280.3M76.6 288V278.6M77.7 288V283.2M78.8 288V284.1M79.8 288V282.4M80.6 288V284.6M81.8 288V286.4M82.6 288V282.8M83.5 288V280.8M84.6 288V283.1M85.4 288V285.1M86.5 288V285.7M104.6 288V284.6M105.8 288V287.2M107.0 288V284.9M107.8 288V287.2M108.5 288V285.2M109.8 288V283.6M110.7 288V287.3M111.9 288V281.3M112.7 288V286.9M113.9 288V281.3M115.0 288V285.2M116.3 288V281.9M117.4 288V280.9M118.1 288V285.9M118.7 288V282.7M119.3 288V282.1M120.0 288V285.4M136.0 288V287.3M137.1 288V280.7M138.3 288V281.6M138.8 288V282.7M139.9 288V284.5M141.1 288V282.6M142.0 288V287.2M142.7 288V285.2M143.3 288V287.2M144.3 288V284.0M145.2 288V281.8M145.8 288V283.6M146.5 288V281.6M147.5 288V285.0M148.4 288V282.3M149.5 288V284.6M150.5 288V283.0M164.8 288V286.4M165.8 288V281.4M166.3 288V283.1M167.3 288V282.1M168.1 288V286.9M169.0 288V283.9M169.8 288V286.8M170.8 288V280.0M171.8 288V281.3M173.0 288V279.6M174.3 288V283.0M175.2 288V280.2M176.5 288V283.5M190.6 288V287.0M191.7 288V286.4M192.7 288V281.4M193.8 288V284.3M195.0 288V286.0M195.5 288V286.2M196.2 288V287.3M197.3 288V282.6M197.8 288V283.7M198.5 288V281.9M199.5 288V282.5M200.2 288V283.9M213.3 288V285.2M214.0 288V286.8M214.5 288V285.4M215.4 288V285.3M216.2 288V283.7M217.1 288V283.6M217.7 288V286.8M218.6 288V286.6M219.3 288V284.5M220.0 288V284.6M220.7 288V281.7M221.6 288V281.5M222.4 288V283.9M232.8 288V284.3M233.5 288V284.4M234.7 288V278.6M235.7 288V286.7M236.8 288V285.1M237.6 288V286.2M238.8 288V280.9M239.5 288V285.8M247.7 288V287.4M248.3 288V285.7M249.0 288V282.0M249.6 288V281.6M250.8 288V284.5M251.8 288V285.3M252.8 288V285.8M253.5 288V286.0M262.3 288V279.1M263.5 288V279.5M264.0 288V287.3M264.5 288V279.0M265.6 288V282.1M266.6 288V283.2M273.5 288V281.8M274.7 288V286.9M275.3 288V283.1M276.3 288V283.1M277.5 288V285.9M282.4 288V280.9M283.3 288V286.2M284.4 288V285.4M285.2 288V282.5" stroke="#3a2a9e" stroke-width="0.9"/>
<rect x="181.9" y="286" width="1" height="14" fill="#fff"/><rect x="57.3" y="287" width="0.5" height="15.7" fill="#f4c0c0"/>
<line x1="36.5" y1="272.5" x2="308.5" y2="272.5" stroke="#222" stroke-width="0.9"/>
<path d="M255.1 169.2h0M254.8 170.4h0M254.7 171.5h0M254.9 170.5h0M254.9 170.3h0M255.2 172.2h0M255.0 171.0h0M254.7 173.2h0M254.6 169.3h0M255.0 171.0h0M254.9 172.9h0M254.9 178.6h0M254.8 186.3h0M254.8 183.0h0M255.0 184.1h0M254.7 184.1h0M254.9 185.5h0M255.0 179.3h0M255.0 178.9h0M254.8 178.9h0M255.0 181.7h0M254.5 183.9h0M254.9 184.2h0M255.2 179.4h0M255.1 178.4h0M255.0 185.5h0M254.9 183.2h0M255.0 180.9h0M254.8 186.2h0M254.9 180.9h0M254.9 185.2h0M254.8 186.8h0M254.9 181.4h0M254.9 183.8h0M254.9 178.8h0M255.1 182.2h0M254.9 184.1h0M254.7 179.0h0M254.9 202.4h0M254.8 202.6h0M255.1 201.2h0M254.8 211.8h0M254.9 217.3h0M254.7 209.4h0M254.6 214.2h0M254.9 213.6h0M255.0 211.1h0M254.9 217.0h0M255.0 217.3h0M254.8 208.8h0M254.6 211.8h0M254.7 217.5h0M254.9 211.7h0M254.9 212.8h0M254.9 210.2h0M255.1 216.0h0M254.9 230.7h0M255.0 221.0h0M254.6 231.5h0M254.8 228.7h0M255.1 221.0h0M254.9 232.6h0M255.0 226.4h0M255.0 226.9h0M254.9 222.6h0M254.8 238.8h0M254.8 237.3h0M255.2 229.1h0M254.9 237.5h0M255.0 221.5h0M254.7 221.5h0M254.9 228.8h0M255.0 229.6h0M255.1 226.7h0M254.9 223.3h0M255.0 221.7h0M254.9 229.5h0M255.2 237.7h0M255.3 229.3h0M254.9 235.6h0M254.7 223.8h0M254.8 234.8h0M255.0 219.6h0M255.0 227.3h0M254.8 237.7h0M254.9 220.8h0M254.8 231.5h0M254.8 235.5h0M254.9 224.2h0M254.8 231.6h0M254.9 232.0h0M254.9 233.5h0M255.0 236.0h0M254.8 228.7h0M254.9 238.7h0M254.9 227.7h0M254.8 224.1h0M254.9 234.4h0M254.9 226.2h0M254.8 221.9h0M254.9 226.0h0M255.0 239.5h0M255.2 250.6h0M254.9 250.9h0M255.0 256.5h0M254.6 254.0h0M255.0 258.6h0M255.1 257.3h0M255.1 247.7h0M255.0 243.6h0M255.1 256.4h0M254.9 243.0h0M255.1 259.9h0M254.6 256.4h0M255.0 253.0h0M254.7 249.6h0M255.0 259.2h0M254.7 246.6h0M255.1 260.8h0M254.9 242.5h0M255.2 245.5h0M254.8 258.4h0M254.9 250.1h0M255.0 245.2h0M254.6 255.1h0M254.9 255.6h0M254.7 257.5h0M255.1 255.0h0M255.2 248.9h0M254.8 241.9h0M254.7 247.5h0M254.7 253.1h0M255.0 240.1h0M254.7 250.8h0M255.0 257.9h0M254.9 249.2h0M254.8 247.4h0M254.8 244.7h0M254.7 253.6h0M255.1 246.4h0M255.0 255.4h0M255.0 249.7h0M254.8 242.7h0M254.7 255.0h0M255.2 244.1h0M255.0 246.0h0M255.0 244.9h0M254.9 259.6h0M254.7 248.7h0M254.7 251.0h0M255.1 261.7h0M254.9 244.2h0M254.9 251.6h0M254.8 240.0h0M255.1 250.0h0M255.2 257.8h0M254.9 242.2h0M255.0 252.2h0M255.0 248.3h0M254.8 260.4h0M255.1 241.7h0M254.8 253.7h0M254.5 248.0h0M255.0 254.5h0M254.8 251.5h0M254.8 254.9h0M255.0 248.0h0M254.8 261.5h0M255.2 279.8h0M255.0 276.5h0M254.7 285.2h0M255.0 281.0h0M254.9 270.5h0M254.9 265.6h0M255.2 265.8h0M254.8 277.3h0M254.9 272.2h0M254.9 281.4h0M254.8 281.8h0M254.8 269.6h0M254.7 287.4h0M254.9 278.9h0M255.0 271.9h0M254.7 287.0h0M254.8 269.2h0M254.7 266.2h0M254.7 282.6h0M254.8 271.0h0M255.0 284.8h0M255.0 266.2h0M254.9 270.1h0M254.8 263.4h0M254.9 287.1h0M255.0 287.0h0M254.9 286.5h0M255.0 267.1h0M254.8 264.8h0M255.0 268.8h0M254.8 287.1h0M255.0 268.9h0M255.0 273.7h0M255.2 283.8h0M254.7 270.2h0M254.7 266.0h0M254.9 276.5h0M254.7 279.4h0M254.9 271.4h0M254.8 285.9h0M254.8 278.4h0M254.9 268.8h0M254.9 283.5h0M254.9 276.7h0M254.7 268.9h0M255.2 268.3h0M255.1 281.6h0M255.0 279.6h0M254.7 264.9h0M255.0 270.0h0M254.7 278.5h0M254.6 280.0h0M254.9 286.4h0M254.8 281.3h0M254.8 282.9h0M255.0 271.1h0M255.0 275.8h0M255.2 275.6h0M254.7 265.5h0M254.6 270.8h0M255.0 275.1h0M255.0 284.2h0M254.8 272.5h0M254.7 276.9h0M254.9 282.5h0M255.2 283.8h0M255.0 281.6h0M255.1 275.0h0M255.2 281.3h0M254.7 283.3h0M254.7 265.4h0M254.7 280.3h0M254.8 269.2h0M254.7 263.8h0M254.7 269.1h0M254.7 267.5h0M254.9 279.6h0M255.0 287.3h0M254.9 280.2h0M254.8 263.9h0M255.0 262.1h0M254.8 278.4h0M255.0 263.5h0M255.0 273.6h0M254.6 263.0h0M254.8 283.5h0M255.0 278.4h0M255.0 270.8h0M254.8 267.7h0M255.1 282.6h0M255.0 283.0h0" stroke="#4a46a8" stroke-width="1.6" stroke-linecap="round" stroke-opacity="0.9"/>
<path d="M222.7 241.4V245.2M222.7 254.7V261M222.7 262V272M222.7 272V288" stroke="#3f3ca6" stroke-width="1.2"/>
<path d="M169.1 266.2V277.2" stroke="#2c2a80" stroke-width="1.4"/>
<path d="M119.5 277V283" stroke="#6a68c0" stroke-width="1"/>
<line x1="57.0" y1="307.4" x2="57.0" y2="310.3" stroke="#222" stroke-width="0.8"/>
<text transform="translate(59.2,313.6) rotate(-90)" font-size="6.4" text-anchor="end" fill="#333">1</text>
<line x1="78.0" y1="307.4" x2="78.0" y2="310.3" stroke="#222" stroke-width="0.8"/>
<text transform="translate(80.2,313.6) rotate(-90)" font-size="6.4" text-anchor="end" fill="#333">2</text>
<line x1="96.5" y1="307.4" x2="96.5" y2="310.3" stroke="#222" stroke-width="0.8"/>
<text transform="translate(98.7,313.6) rotate(-90)" font-size="6.4" text-anchor="end" fill="#333">3</text>
<line x1="112.8" y1="307.4" x2="112.8" y2="310.3" stroke="#222" stroke-width="0.8"/>
<text transform="translate(115.0,313.6) rotate(-90)" font-size="6.4" text-anchor="end" fill="#333">4</text>
<line x1="128.6" y1="307.4" x2="128.6" y2="310.3" stroke="#222" stroke-width="0.8"/>
<text transform="translate(130.8,313.6) rotate(-90)" font-size="6.4" text-anchor="end" fill="#333">5</text>
<line x1="144.1" y1="307.4" x2="144.1" y2="310.3" stroke="#222" stroke-width="0.8"/>
<text transform="translate(146.3,313.6) rotate(-90)" font-size="6.4" text-anchor="end" fill="#333">6</text>
<line x1="158.1" y1="307.4" x2="158.1" y2="310.3" stroke="#222" stroke-width="0.8"/>
<text transform="translate(160.3,313.6) rotate(-90)" font-size="6.4" text-anchor="end" fill="#333">7</text>
<line x1="170.9" y1="307.4" x2="170.9" y2="310.3" stroke="#222" stroke-width="0.8"/>
<text transform="translate(173.1,313.6) rotate(-90)" font-size="6.4" text-anchor="end" fill="#333">8</text>
<line x1="183.6" y1="307.4" x2="183.6" y2="310.3" stroke="#222" stroke-width="0.8"/>
<text transform="translate(185.8,313.6) rotate(-90)" font-size="6.4" text-anchor="end" fill="#333">9</text>
<line x1="195.3" y1="307.4" x2="195.3" y2="310.3" stroke="#222" stroke-width="0.8"/>
<text transform="translate(197.5,313.6) rotate(-90)" font-size="6.4" text-anchor="end" fill="#333">10</text>
<line x1="206.6" y1="307.4" x2="206.6" y2="310.3" stroke="#222" stroke-width="0.8"/>
<text transform="translate(208.8,313.6) rotate(-90)" font-size="6.4" text-anchor="end" fill="#333">11</text>
<line x1="218.8" y1="307.4" x2="218.8" y2="310.3" stroke="#222" stroke-width="0.8"/>
<text transform="translate(221.0,313.6) rotate(-90)" font-size="6.4" text-anchor="end" fill="#333">12</text>
<line x1="229.5" y1="307.4" x2="229.5" y2="310.3" stroke="#222" stroke-width="0.8"/>
<text transform="translate(231.7,313.6) rotate(-90)" font-size="6.4" text-anchor="end" fill="#333">13</text>
<line x1="235.9" y1="307.4" x2="235.9" y2="310.3" stroke="#222" stroke-width="0.8"/>
<text transform="translate(238.1,313.6) rotate(-90)" font-size="6.4" text-anchor="end" fill="#333">14</text>
<line x1="242.0" y1="307.4" x2="242.0" y2="310.3" stroke="#222" stroke-width="0.8"/>
<text transform="translate(244.2,313.6) rotate(-90)" font-size="6.4" text-anchor="end" fill="#333">15</text>
<line x1="248.2" y1="307.4" x2="248.2" y2="310.3" stroke="#222" stroke-width="0.8"/>
<text transform="translate(250.4,313.6) rotate(-90)" font-size="6.4" text-anchor="end" fill="#333">16</text>
<line x1="254.7" y1="307.4" x2="254.7" y2="310.3" stroke="#222" stroke-width="0.8"/>
<text transform="translate(256.9,313.6) rotate(-90)" font-size="6.4" text-anchor="end" fill="#333">17</text>
<line x1="260.9" y1="307.4" x2="260.9" y2="310.3" stroke="#222" stroke-width="0.8"/>
<text transform="translate(263.1,313.6) rotate(-90)" font-size="6.4" text-anchor="end" fill="#333">18</text>
<line x1="267.3" y1="307.4" x2="267.3" y2="310.3" stroke="#222" stroke-width="0.8"/>
<text transform="translate(269.5,313.6) rotate(-90)" font-size="6.4" text-anchor="end" fill="#333">19</text>
<line x1="272.9" y1="307.4" x2="272.9" y2="310.3" stroke="#222" stroke-width="0.8"/>
<text transform="translate(275.1,313.6) rotate(-90)" font-size="6.4" text-anchor="end" fill="#333">20</text>
<line x1="278.0" y1="307.4" x2="278.0" y2="310.3" stroke="#222" stroke-width="0.8"/>
<text transform="translate(280.2,313.6) rotate(-90)" font-size="6.4" text-anchor="end" fill="#333">21</text>
<line x1="283.4" y1="307.4" x2="283.4" y2="310.3" stroke="#222" stroke-width="0.8"/>
<text transform="translate(285.6,313.6) rotate(-90)" font-size="6.4" text-anchor="end" fill="#333">22</text>
<line x1="290.6" y1="307.4" x2="290.6" y2="310.3" stroke="#222" stroke-width="0.8"/>
<text transform="translate(292.8,313.6) rotate(-90)" font-size="6.4" text-anchor="end" fill="#333">23</text>
<text x="133.1" y="331.4" font-size="8.3" textLength="80.0" lengthAdjust="spacingAndGlyphs" fill="#333">Position (by chromosome)</text>
<text x="59.6" y="251.2" font-size="6.4" textLength="15.9" lengthAdjust="spacingAndGlyphs" fill="#222">KMO</text>
<path d="M67 253v1.5" stroke="#aaa" stroke-width="0.6"/>
<text x="110.2" y="271.0" font-size="6.4" textLength="17.3" lengthAdjust="spacingAndGlyphs" fill="#222">TDO2</text>
<text x="161.6" y="263.7" font-size="6.4" textLength="14.7" lengthAdjust="spacingAndGlyphs" fill="#222">IDO1</text>
<text x="188.8" y="271.5" font-size="6.4" textLength="27.0" lengthAdjust="spacingAndGlyphs" fill="#222">SLC22A8</text>
<text x="212.6" y="237.4" font-size="6.4" textLength="20.5" lengthAdjust="spacingAndGlyphs" fill="#222">ATXN2</text>
<text x="243.0" y="167.6" font-size="6.4" textLength="23.0" lengthAdjust="spacingAndGlyphs" fill="#222">SLC7A5</text>
<text x="60.3" y="278.3" font-size="6.4" textLength="26.0" lengthAdjust="spacingAndGlyphs" fill="#a9abb9">EXTL2P1</text>
<text x="91.4" y="278.3" font-size="6.4" textLength="26.0" lengthAdjust="spacingAndGlyphs" fill="#a9abb9">PRICKLE2</text>
<text x="224.6" y="278.6" font-size="6.4" textLength="15.4" lengthAdjust="spacingAndGlyphs" fill="#cbbccc">GPC5</text>
<rect x="36.6" y="165.9" width="148.4" height="78.6" rx="11" fill="#fbe1da" stroke="#c9534f" stroke-width="0.8"/>
<text x="75.5" y="162.2" font-size="6.6" textLength="71.1" lengthAdjust="spacingAndGlyphs" fill="#222">Kynurenine QTL analysis</text>
<text x="85.0" y="174.0" font-size="5.4" textLength="12.3" lengthAdjust="spacingAndGlyphs" fill="#222">IDO1</text>
<text x="84.5" y="180.2" font-size="5.4" textLength="13.5" lengthAdjust="spacingAndGlyphs" fill="#222">TDO2</text>
<text x="134.0" y="177.4" font-size="5.4" textLength="12.6" lengthAdjust="spacingAndGlyphs" fill="#222">KMO</text>
<text x="57.3" y="187.0" font-size="5.4" textLength="27.2" lengthAdjust="spacingAndGlyphs" fill="#222">Tryptophan</text>
<text x="98.8" y="187.0" font-size="5.4" textLength="27.5" lengthAdjust="spacingAndGlyphs" fill="#222">Kynurenine</text>
<text x="144.7" y="187.0" font-size="5.4" textLength="37.2" lengthAdjust="spacingAndGlyphs" fill="#222">OH-Kynurenine</text>
<text x="43.9" y="197.7" font-size="5.4" textLength="22.6" lengthAdjust="spacingAndGlyphs" fill="#222">SLC22A8</text>
<text x="80.0" y="197.7" font-size="5.4" textLength="18.0" lengthAdjust="spacingAndGlyphs" fill="#222">SLC7A5</text>
<text x="81.2" y="203.6" font-size="5.4" textLength="15.3" lengthAdjust="spacingAndGlyphs" fill="#222">(LAT1)</text>
<text x="122.5" y="205.8" font-size="5.4" textLength="19.5" lengthAdjust="spacingAndGlyphs" fill="#222">Leucine</text>
<text x="162.8" y="205.8" font-size="5.4" textLength="18.2" lengthAdjust="spacingAndGlyphs" fill="#222">ATXN2</text>
<line x1="86.0" y1="185.2" x2="94.0" y2="185.2" stroke="#222" stroke-width="0.6"/>
<path d="M96.5 185.2 l-3 -1.6 v3.2z" fill="#222"/>
<line x1="128.0" y1="185.2" x2="140.0" y2="185.2" stroke="#222" stroke-width="0.6"/>
<path d="M142.5 185.2 l-3 -1.6 v3.2z" fill="#222"/>
<path d="M69.6 191.5 V200 M106.5 191.5 V200" stroke="#222" stroke-width="0.6"/><path d="M69.6 202 l-1.4 -2.8 h2.8z M106.5 202 l-1.4 -2.8 h2.8z" fill="#222"/>
<path d="M118.5 203.6 H109.5 M160.5 203.6 H151" stroke="#222" stroke-width="0.6"/><path d="M108.3 203.6 l2.8 -1.4 v2.8z M149 203.6 l2.8 -1.4 v2.8z" fill="#222"/>
<path d="M69.6 202 V213 M106.5 202 V212" stroke="#222" stroke-width="0.6"/>
<ellipse cx="87.6" cy="224.4" rx="23.9" ry="17.8" fill="#cf2a3c" stroke="#a8182a" stroke-width="0.6"/>
<ellipse cx="87.6" cy="223.6" rx="19" ry="13.5" fill="#c42234" opacity="0.7"/>
<path d="M74.5 220 Q76 211 88 211.5 Q97 212 95.5 215 Q89 214 86 218 Q84 224 89 229 Q80 229 76 226 Q74 223.5 74.5 220Z" fill="#9a1226"/>
<path d="M93 232 Q101 230 104 224" stroke="#e8606e" stroke-width="1.2" fill="none" opacity="0.7"/>
<path d="M289.4 160.7h0M288.2 183.2h0M296.5 192.3h0M284.2 188.2h0M291.4 171.9h0M299.6 213.8h0M274.1 184.9h0M294.9 199.4h0M286.3 178.5h0M276.2 182.0h0M279.7 170.1h0M297.0 188.4h0M285.7 170.3h0M295.7 170.2h0M279.1 190.9h0M297.4 213.1h0M301.8 200.2h0M292.9 174.0h0M282.5 168.3h0M280.6 161.5h0M275.7 179.2h0M303.2 204.9h0M286.3 164.8h0M273.1 167.8h0M298.5 185.9h0M299.2 186.1h0M273.1 191.1h0M288.3 170.9h0M285.6 200.7h0M283.6 205.3h0M291.2 180.6h0M298.9 185.4h0M289.3 163.0h0M281.3 194.6h0M293.3 170.7h0M283.5 164.9h0M291.5 166.2h0M276.6 185.0h0M291.3 195.3h0M295.9 184.1h0M284.2 197.4h0M296.1 172.7h0M293.7 198.4h0M286.9 167.1h0M283.9 203.9h0M300.3 195.1h0M294.5 212.0h0M293.3 211.4h0M279.0 167.7h0M296.0 169.7h0M288.5 165.0h0M298.9 209.7h0M292.6 192.9h0M280.1 181.6h0M273.6 196.1h0M276.9 183.5h0M289.8 179.1h0M272.6 200.6h0M301.3 207.4h0M272.9 180.0h0M280.5 202.5h0M274.6 193.6h0M273.3 198.5h0M291.8 188.6h0M286.3 182.2h0M292.2 196.0h0M299.3 211.0h0M300.8 199.9h0M295.8 173.4h0M280.4 178.9h0M281.3 164.4h0M293.9 212.1h0M298.0 206.7h0M279.4 173.2h0M284.7 160.2h0M298.3 203.2h0M302.8 204.3h0M289.2 165.0h0M292.8 179.9h0M275.1 189.3h0M293.7 189.7h0M277.1 175.4h0M278.9 199.8h0M285.6 198.2h0M295.2 201.5h0M278.8 160.6h0M295.3 170.9h0M293.4 192.7h0M293.9 193.1h0M295.4 176.3h0M274.4 165.4h0M295.1 174.6h0M272.8 176.3h0M284.5 198.3h0M285.9 200.5h0M282.0 206.4h0M299.5 197.2h0M275.0 196.6h0M291.3 196.7h0M275.9 167.2h0M283.6 196.2h0M290.6 171.7h0M282.9 188.8h0M273.2 173.2h0M283.5 202.6h0M277.5 170.1h0M277.3 180.9h0M282.9 195.6h0M286.9 208.6h0M273.4 185.2h0M273.5 186.3h0M275.6 172.2h0M285.7 165.7h0M286.8 212.4h0M290.1 163.1h0M277.5 201.4h0M290.4 208.6h0M288.9 172.7h0M277.1 163.7h0M286.5 200.7h0M281.1 170.7h0M294.2 179.6h0M287.3 169.3h0M288.6 160.4h0M286.9 201.2h0M289.4 172.3h0M288.0 193.5h0M293.7 167.3h0M299.5 212.9h0M297.1 207.9h0M283.0 210.5h0M275.9 171.9h0M291.7 210.4h0M272.1 171.4h0M274.3 169.9h0M297.5 192.2h0M287.1 188.2h0M277.2 206.5h0M286.3 171.9h0M284.5 178.6h0M283.2 168.2h0M292.1 173.7h0M286.3 191.0h0M278.1 165.9h0M274.2 188.8h0M291.1 209.5h0M275.4 192.4h0M286.2 182.3h0M284.5 161.9h0M289.1 207.4h0M299.7 196.2h0M288.5 165.6h0M278.3 196.5h0M291.3 204.7h0M276.3 163.3h0M275.9 198.4h0M278.7 172.5h0M282.9 188.9h0M297.2 194.6h0M286.9 197.3h0M287.1 197.6h0M295.9 195.9h0M285.4 213.6h0M276.9 182.3h0M277.8 200.9h0M282.7 196.8h0M277.5 171.3h0M279.1 161.0h0M274.2 182.1h0M285.0 163.4h0M291.1 212.7h0M290.9 179.3h0M295.8 183.9h0M275.7 186.5h0M275.1 180.1h0M300.8 195.6h0M293.1 199.2h0M278.7 205.8h0M291.8 207.4h0M289.3 200.4h0M279.4 163.0h0M277.7 174.1h0M274.6 178.1h0M288.8 177.2h0M284.9 186.3h0M278.8 162.1h0M272.2 168.3h0M295.5 174.0h0M299.1 200.5h0M282.0 187.0h0M290.3 161.9h0M274.8 198.5h0M283.6 199.9h0M277.7 204.4h0M291.3 169.9h0M295.9 204.8h0M272.5 196.8h0M290.5 166.9h0M276.3 192.2h0M273.1 195.1h0M278.2 173.7h0M285.1 189.4h0M296.5 171.6h0M280.1 195.5h0M295.3 194.0h0M280.8 196.8h0M278.9 168.0h0M277.6 203.0h0M300.4 199.8h0M280.8 177.0h0M292.2 164.1h0M276.5 165.8h0M288.3 188.7h0M282.8 199.8h0M289.1 203.2h0M283.7 186.6h0M278.6 197.1h0M277.4 177.1h0M287.1 199.6h0M286.0 211.9h0M273.0 185.0h0M293.2 174.9h0M286.7 194.3h0M280.4 162.9h0M297.5 202.9h0M285.6 163.9h0M284.0 164.4h0M279.9 202.8h0M274.1 165.1h0M271.7 168.3h0M289.2 206.5h0M275.4 168.9h0M298.1 183.3h0M281.8 166.0h0M273.4 173.8h0M297.1 209.8h0M280.0 185.5h0M296.2 200.8h0M273.9 170.0h0M278.4 173.5h0M281.2 168.9h0M276.1 182.8h0M300.2 208.2h0M298.0 193.6h0M281.4 207.4h0M282.9 180.4h0M282.4 180.6h0M273.2 171.9h0M293.2 209.6h0M303.9 204.8h0M297.7 205.3h0M278.6 196.4h0M283.5 206.9h0M274.1 189.7h0M281.8 205.8h0M282.1 207.1h0M301.2 209.1h0M297.3 197.6h0M286.3 178.3h0M298.8 203.6h0M281.9 173.2h0M272.8 177.6h0M277.6 163.0h0M276.5 185.3h0M284.3 204.7h0M293.0 210.0h0M286.9 210.3h0M273.0 192.5h0M287.4 182.7h0M276.9 179.7h0M291.5 183.6h0M296.3 183.5h0M272.5 188.8h0M300.2 204.0h0M282.6 171.7h0M297.3 204.7h0M283.5 199.5h0M280.5 177.8h0M289.8 187.5h0M294.4 167.2h0M290.3 204.3h0M290.0 202.3h0M274.5 195.0h0M291.9 173.8h0M279.5 183.0h0M288.5 185.7h0M281.9 199.9h0M297.4 172.5h0M278.7 188.5h0M275.7 193.4h0M291.2 200.1h0M297.5 199.6h0M296.0 174.5h0M300.9 211.7h0M285.8 163.9h0M294.8 167.1h0M286.5 195.4h0M276.6 168.2h0M284.6 194.2h0M280.5 168.2h0M277.3 163.8h0M276.3 177.0h0M288.2 169.5h0M287.2 184.1h0M276.5 192.7h0M274.5 168.6h0M282.5 183.2h0M282.4 198.4h0M283.9 167.7h0M292.9 211.5h0M284.3 183.7h0M280.3 190.6h0M294.2 200.9h0M282.9 207.5h0M299.1 192.6h0M294.7 178.4h0M284.3 169.4h0M281.3 186.3h0M287.8 179.7h0M289.2 212.0h0M293.3 186.2h0M281.6 181.1h0M292.1 203.8h0M278.9 180.1h0M283.7 179.7h0M279.5 177.9h0M276.3 162.4h0M277.7 162.3h0M279.0 200.8h0M296.4 210.9h0M276.3 201.6h0M297.6 193.0h0M292.9 165.4h0M275.2 169.3h0M292.2 197.3h0M283.9 173.4h0M275.7 169.3h0M274.8 179.0h0M289.1 197.8h0M299.1 191.8h0M286.2 209.2h0M291.8 178.2h0M301.7 211.1h0M290.3 167.1h0M275.7 180.8h0M299.5 203.8h0M294.4 191.5h0M296.7 182.3h0M281.0 180.5h0M299.1 203.9h0M295.1 177.1h0M292.2 168.0h0M297.9 191.7h0M285.2 212.2h0M272.9 174.8h0M285.8 200.4h0M278.8 200.6h0M293.7 164.6h0M287.8 200.1h0M277.2 196.3h0M279.6 180.1h0M290.7 205.1h0M297.8 185.0h0M273.5 201.7h0M274.5 197.7h0M289.6 201.2h0M274.0 195.3h0M283.3 173.2h0M287.2 164.0h0M301.4 209.9h0M286.8 200.0h0M273.6 169.6h0M288.0 178.2h0M287.0 203.8h0M298.3 195.0h0M289.3 207.7h0M285.9 164.6h0M303.7 204.9h0M294.9 201.4h0M277.8 185.4h0M295.0 190.6h0M284.4 168.6h0M274.2 185.8h0M287.7 174.3h0M283.0 190.6h0M298.0 192.6h0M283.6 190.2h0M280.9 160.6h0M276.8 166.1h0M279.8 194.9h0M290.4 213.0h0M295.0 179.7h0M289.6 208.2h0M294.5 179.5h0M292.0 176.1h0M276.8 187.9h0M294.4 198.0h0M294.8 199.7h0M280.9 191.4h0M276.7 169.2h0M284.4 198.8h0M274.6 179.8h0M294.1 213.4h0M292.7 196.2h0M275.1 200.4h0M289.9 179.5h0M274.4 168.0h0M274.7 192.5h0M288.1 191.7h0M290.3 182.5h0M278.0 202.1h0M278.2 206.0h0M278.2 164.3h0M287.1 181.1h0M281.7 202.6h0M277.4 197.2h0M288.1 211.6h0M292.0 169.3h0M281.6 164.1h0M293.7 183.1h0M280.7 188.2h0M274.9 176.4h0M295.8 183.4h0M293.6 167.9h0M292.8 162.3h0M288.3 178.1h0M272.9 201.3h0M296.2 188.1h0M275.4 197.2h0M285.5 196.7h0M284.1 170.3h0M279.1 197.2h0M277.5 181.8h0M295.2 183.6h0M274.9 163.0h0M288.1 186.8h0M276.4 197.2h0M287.8 205.1h0M274.4 186.6h0M273.8 198.1h0M295.5 192.0h0M296.2 204.6h0M273.3 177.4h0M295.4 179.9h0M296.1 174.8h0M296.6 208.3h0M293.2 167.9h0M302.1 199.9h0M273.4 180.7h0M298.9 208.3h0M293.5 213.0h0M290.5 170.2h0M288.7 186.5h0M281.8 180.3h0M288.4 192.5h0M277.5 174.8h0M288.1 187.7h0M284.9 196.9h0M276.0 189.3h0M279.5 202.9h0M295.7 203.5h0M288.7 173.2h0M283.3 175.6h0M284.3 199.4h0M286.2 179.4h0M280.6 179.5h0M297.7 200.8h0M276.9 172.3h0M298.8 196.3h0M294.7 195.2h0M295.4 174.5h0M288.9 197.2h0M277.7 178.2h0M297.0 186.8h0M283.0 174.4h0M287.5 199.6h0M303.0 207.4h0M285.0 176.9h0M275.0 175.0h0M281.6 207.5h0M276.3 203.0h0M283.2 165.8h0M284.1 192.9h0M283.8 180.6h0M294.8 194.6h0M294.6 193.8h0M280.2 170.4h0M301.5 210.8h0M277.9 192.4h0M290.8 177.4h0M293.5 193.3h0M288.4 166.0h0M277.1 176.7h0M284.8 179.7h0M291.3 180.5h0M298.5 186.3h0M283.5 172.0h0M292.7 203.3h0M283.7 204.6h0M273.0 173.8h0M297.6 184.1h0M286.6 171.1h0M272.5 180.0h0M285.4 187.9h0M280.0 199.0h0M275.4 188.1h0M287.8 180.2h0M281.7 194.0h0M290.4 175.2h0M283.0 165.5h0M293.9 189.3h0M281.4 177.7h0M282.7 181.9h0M275.2 196.8h0M294.3 184.4h0M284.4 172.3h0M299.0 185.1h0M294.9 197.5h0M287.9 185.9h0M276.5 168.9h0" stroke="#5a7fd0" stroke-width="3.6" stroke-linecap="round"/>
<path d="M291.8 207.4h0M290.3 161.9h0M284.3 204.7h0M275.2 196.8h0M284.5 178.6h0M300.8 195.6h0M281.6 181.1h0M276.6 168.2h0M277.2 206.5h0M274.0 195.3h0M273.2 171.9h0M289.3 207.7h0M294.7 178.4h0M289.8 179.1h0M295.8 173.4h0M283.2 168.2h0M297.2 194.6h0M276.3 163.3h0M296.7 182.3h0M282.9 188.8h0M294.4 167.2h0M283.7 204.6h0M281.7 194.0h0M292.7 196.2h0M276.7 169.2h0M283.2 165.8h0M296.0 174.5h0M272.9 201.3h0M286.8 212.4h0M290.3 167.1h0M284.0 164.4h0M295.0 190.6h0M288.3 178.1h0M276.9 182.3h0M291.2 200.1h0M286.3 182.2h0M298.0 192.6h0M276.4 197.2h0M272.2 168.3h0M283.5 206.9h0M271.7 168.3h0M290.0 202.3h0M295.2 201.5h0M280.7 188.2h0M291.2 180.6h0M292.2 197.3h0M273.6 196.1h0M296.1 172.7h0M282.9 207.5h0M289.2 212.0h0M301.8 200.2h0M287.2 184.1h0M297.9 191.7h0M277.6 163.0h0M288.0 178.2h0M298.3 203.2h0M287.1 188.2h0M278.2 164.3h0M295.2 183.6h0M283.5 164.9h0M274.4 165.4h0M293.6 167.9h0M286.9 210.3h0M297.0 188.4h0M286.3 178.5h0M284.3 169.4h0M288.9 172.7h0M285.6 163.9h0M283.9 203.9h0M301.5 210.8h0M295.8 183.4h0M276.9 172.3h0M298.1 183.3h0M272.5 188.8h0M287.3 169.3h0M296.2 204.6h0M284.5 198.3h0M273.2 173.2h0M287.1 197.6h0M283.7 179.7h0M275.7 186.5h0M283.9 167.7h0M295.7 170.2h0M300.8 199.9h0M295.8 183.9h0M287.9 185.9h0M281.3 194.6h0M291.5 166.2h0M288.1 187.7h0M295.4 174.5h0M287.2 164.0h0M274.6 193.6h0M299.2 186.1h0M277.1 175.4h0M277.2 196.3h0M289.1 207.4h0M293.5 193.3h0M286.3 191.0h0M291.3 204.7h0M285.9 164.6h0M290.5 170.2h0M283.5 202.6h0M288.7 186.5h0M274.4 186.6h0M274.7 192.5h0M278.1 165.9h0M291.9 173.8h0M296.5 192.3h0M287.5 199.6h0M298.3 195.0h0M275.4 192.4h0M290.4 208.6h0M282.9 188.9h0M294.5 212.0h0M289.1 197.8h0M274.5 195.0h0M283.0 165.5h0M288.9 197.2h0M282.4 198.4h0M279.4 173.2h0M295.9 204.8h0M287.8 200.1h0M280.5 177.8h0M296.2 200.8h0M283.6 199.9h0M281.8 166.0h0M283.6 196.2h0M285.7 165.7h0M281.7 202.6h0M286.3 171.9h0M284.4 168.6h0M272.8 177.6h0M288.0 193.5h0M275.4 188.1h0M285.8 200.4h0M278.7 172.5h0M296.5 171.6h0M273.1 167.8h0M290.1 163.1h0M279.0 167.7h0M275.6 172.2h0M292.0 169.3h0M299.1 200.5h0M280.0 185.5h0M276.8 166.1h0M276.5 168.9h0M301.2 209.1h0M293.2 209.6h0M287.8 205.1h0M284.1 170.3h0M297.8 185.0h0M274.6 178.1h0M280.8 196.8h0M282.9 195.6h0M277.1 176.7h0M278.7 205.8h0M281.8 205.8h0M275.7 169.3h0M277.6 203.0h0M293.7 189.7h0M287.4 182.7h0M292.8 179.9h0M277.4 177.1h0M285.9 200.5h0M276.1 182.8h0M298.8 203.6h0M293.9 189.3h0M290.6 171.7h0M283.0 174.4h0M293.7 167.3h0M279.4 163.0h0M284.8 179.7h0M277.9 192.4h0M297.5 192.2h0M292.1 173.7h0M278.0 202.1h0M279.5 177.9h0M273.3 198.5h0M282.4 180.6h0M274.2 188.8h0M276.8 187.9h0M298.8 196.3h0M286.5 195.4h0M277.8 185.4h0M295.9 195.9h0M280.4 162.9h0M289.4 160.7h0M272.5 180.0h0M283.0 210.5h0M281.3 164.4h0M275.1 200.4h0M296.4 210.9h0M274.6 179.8h0M278.7 188.5h0M293.3 186.2h0M294.8 194.6h0M293.4 192.7h0M292.8 162.3h0M286.6 171.1h0M286.7 194.3h0M278.4 173.5h0M292.2 168.0h0M287.8 179.7h0M299.5 197.2h0M298.9 209.7h0M275.1 189.3h0M292.2 164.1h0M293.9 193.1h0M281.9 173.2h0M302.8 204.3h0M285.4 213.6h0M288.4 166.0h0M276.0 189.3h0M276.3 192.2h0M298.9 208.3h0M284.3 183.7h0M292.7 203.3h0M295.4 179.9h0M294.8 167.1h0M275.0 196.6h0M278.9 199.8h0M298.0 193.6h0M297.3 204.7h0M291.3 196.7h0M294.9 201.4h0M297.3 197.6h0M280.6 179.5h0M288.5 165.0h0M277.5 174.8h0M297.6 184.1h0M279.9 202.8h0M280.6 161.5h0M292.6 192.9h0M282.7 181.9h0M277.7 162.3h0M301.4 209.9h0M283.0 190.6h0M288.1 191.7h0M294.2 200.9h0M274.5 197.7h0M274.9 163.0h0M280.1 181.6h0M282.9 180.4h0M288.7 173.2h0M279.6 180.1h0M277.4 197.2h0M280.9 191.4h0M297.1 207.9h0M289.9 179.5h0M278.2 206.0h0M296.2 188.1h0M273.4 180.7h0M295.1 177.1h0M277.5 170.1h0M286.9 167.1h0M297.6 193.0h0M293.2 167.9h0M293.7 183.1h0M274.3 169.9h0M297.7 205.3h0" stroke="#3f62b6" stroke-width="1.8" stroke-linecap="round"/>
<path d="M272.8 168.0h0M301.8 208.3h0M288.5 160.7h0M282.7 199.0h0M277.8 178.4h0M273.3 164.7h0M295.9 190.5h0M293.3 209.2h0M294.6 168.1h0M302.2 207.4h0M283.9 189.8h0M289.2 162.3h0M273.1 177.5h0M290.8 172.6h0M294.7 189.7h0M273.7 182.3h0M286.8 174.2h0M276.5 183.6h0M275.7 168.9h0M277.9 200.7h0M278.3 196.1h0M276.3 169.9h0M296.6 188.0h0M276.9 202.2h0M282.9 195.8h0M289.5 199.8h0M282.4 168.3h0M288.0 198.4h0M281.5 159.9h0M276.4 191.5h0M292.8 163.1h0M274.7 169.7h0M302.7 207.8h0M301.0 203.8h0M277.5 174.0h0M290.0 175.8h0M286.3 197.6h0M282.8 199.7h0M277.4 185.9h0M284.1 169.8h0M286.5 181.4h0M277.8 164.0h0M285.0 188.3h0M285.4 163.7h0M294.2 190.8h0M280.4 162.6h0M280.6 167.3h0M293.6 179.9h0M295.4 183.6h0M287.6 177.8h0M288.9 166.8h0M297.9 193.2h0M283.4 169.2h0M295.9 174.0h0M281.5 177.1h0M299.6 200.6h0M284.3 199.4h0M288.8 187.8h0M280.0 188.3h0M287.1 180.0h0M287.9 208.1h0M288.3 197.2h0M300.0 187.0h0M281.4 199.8h0M273.4 186.6h0M280.5 184.7h0M286.7 163.7h0M288.9 172.5h0M288.4 185.5h0M282.3 172.4h0M281.6 193.5h0M279.6 202.6h0M283.3 198.0h0M295.7 177.3h0M299.3 200.7h0M273.8 184.9h0M287.1 180.0h0M274.9 184.8h0M291.4 209.7h0M280.8 182.0h0M304.5 205.2h0M278.6 180.0h0M293.1 189.3h0M279.5 196.3h0M291.3 196.7h0M280.3 168.4h0M282.1 165.0h0M300.3 199.4h0M291.1 204.7h0M286.6 194.2h0M274.6 198.6h0M279.9 177.3h0M287.2 178.7h0M283.8 203.0h0M278.8 172.7h0M296.7 210.3h0M284.8 189.8h0M275.6 168.3h0M288.9 183.8h0M295.0 183.3h0M287.6 164.7h0M293.5 203.8h0M295.9 204.0h0M283.4 163.6h0M286.3 163.8h0M277.1 171.5h0M286.7 209.4h0M275.3 167.7h0M276.1 164.3h0M295.6 183.4h0M294.3 169.8h0M292.9 196.7h0M299.3 185.8h0M290.3 166.9h0M301.3 199.6h0M275.0 193.3h0M286.5 164.6h0M294.6 183.1h0M278.8 171.7h0M293.6 167.5h0M297.9 191.5h0M285.7 197.2h0M273.3 179.9h0M295.1 212.7h0M297.9 195.2h0M278.9 201.0h0M290.6 181.5h0M276.3 198.0h0M285.4 170.2h0M286.0 200.2h0M296.8 207.4h0M279.2 179.6h0M298.3 200.6h0M295.5 179.0h0M296.8 171.5h0M276.2 197.4h0M288.0 185.2h0M295.4 201.1h0M289.1 187.8h0M272.9 198.8h0M272.7 181.1h0M273.4 193.0h0M295.7 201.7h0M289.0 207.7h0M274.3 198.8h0M280.4 203.2h0M273.5 197.4h0M273.9 195.3h0M284.7 170.9h0M289.6 208.5h0M292.0 170.8h0M282.2 188.7h0M278.5 201.8h0M282.5 180.1h0M276.4 202.2h0M284.6 195.9h0M278.4 203.4h0M281.3 179.9h0M293.5 209.7h0M278.6 182.7h0M287.1 191.1h0M288.8 179.9h0M278.0 163.8h0M303.7 204.8h0M278.5 191.6h0M272.5 167.7h0M274.0 170.7h0M272.3 174.0h0M292.3 180.7h0M300.9 210.7h0M273.1 195.7h0M295.1 201.9h0M291.3 173.1h0M279.2 161.9h0M291.5 168.4h0M283.8 168.3h0M290.9 204.5h0M293.7 192.4h0M276.7 177.5h0M301.9 205.0h0M283.9 178.2h0M293.2 179.2h0M275.6 197.6h0M297.8 173.1h0M286.4 178.4h0M283.3 192.7h0M295.5 172.1h0M293.8 173.0h0M299.9 192.4h0M276.1 187.8h0M275.0 199.3h0M293.9 163.8h0M293.0 167.3h0M289.5 162.9h0M292.2 192.8h0M272.2 180.7h0M278.4 202.1h0M276.2 162.9h0M298.0 203.5h0M276.1 181.3h0" stroke="#a4bcec" stroke-width="0.9" stroke-linecap="round"/>
<path d="M278.5 179.8 L288 184.8" stroke="#fff" stroke-width="1.1" fill="none"/>
<path d="M290.5 198 q1.5 4 1 9 M293.5 199 q1.8 4 1 8" stroke="#8ed860" stroke-width="1.3" fill="none"/>
<text x="272.7" y="224.2" font-size="6.4" textLength="30.3" lengthAdjust="spacingAndGlyphs" fill="#222">7DSK.pdb</text>
<text x="48.3" y="350.9" font-size="9.2" textLength="177.2" lengthAdjust="spacingAndGlyphs" fill="#222">Kynurenine abundance vs SLC7A5 rs8052118</text>
<g stroke="#e4e4e4" stroke-width="0.5" fill="none"><path d="M50 372 L63 497 M116 368 L128 497 M217.7 357 L204 470 M245 360 L235 470"/><path d="M20 410 L120 372 L250 358 M15 460 L50 450 M60 498 L140 470 L215 455 M130 498 L210 470 M190 498 L250 475 M40 420 L48 500 M95 470 L180 498"/></g>
<path d="M135.1 436.6h0M76.2 419.4h0M125.0 428.3h0M105.1 434.0h0M107.9 413.5h0M109.8 418.3h0M108.4 419.7h0M74.1 417.5h0M99.1 444.6h0M101.5 437.3h0M57.9 416.1h0M122.7 409.0h0M89.3 432.6h0M109.6 429.7h0M116.2 430.1h0M112.1 428.0h0M86.3 435.9h0M76.2 412.4h0M86.1 419.5h0M91.9 423.7h0M122.4 439.6h0M103.0 426.4h0M85.5 412.6h0M95.0 438.5h0M72.9 422.2h0M101.7 440.1h0M99.2 419.1h0M72.8 435.9h0M114.9 432.6h0M99.2 426.8h0M117.5 416.0h0M75.4 413.8h0M105.7 418.5h0M108.7 422.2h0M108.8 423.9h0M67.9 437.5h0M89.1 411.2h0M88.5 424.9h0M126.6 393.5h0M97.4 419.3h0M116.5 440.2h0M99.9 435.4h0M105.2 409.3h0M98.1 425.3h0M94.0 422.8h0M107.3 426.5h0M121.8 417.5h0M138.9 420.6h0M104.1 423.3h0M88.4 425.2h0M108.1 431.0h0M119.1 423.8h0M82.0 429.6h0M113.1 419.4h0M104.3 431.8h0M108.0 430.5h0M85.2 422.6h0M81.9 431.8h0M98.5 418.2h0M102.3 425.9h0M54.3 437.7h0M81.3 434.5h0M122.5 430.4h0M70.2 431.8h0M106.4 418.8h0M111.5 425.6h0M134.4 414.7h0M93.7 417.6h0M88.6 439.3h0M101.7 411.2h0M111.3 415.9h0M116.1 417.7h0M94.1 427.7h0M126.0 413.4h0M91.9 414.4h0M123.1 427.7h0M96.2 432.7h0M81.4 424.2h0M74.7 419.0h0M74.9 416.9h0M82.2 410.7h0M110.9 418.4h0M92.5 435.2h0M97.7 430.8h0M89.1 426.6h0M71.1 420.0h0M128.0 435.0h0M124.3 428.5h0M74.8 428.6h0M87.2 417.6h0M100.6 448.9h0M69.1 422.3h0M102.4 417.6h0M140.4 426.0h0M110.0 417.0h0M108.0 414.7h0M118.1 432.3h0M96.3 424.7h0M80.4 417.1h0M83.7 437.3h0M79.7 414.2h0M61.5 415.9h0M123.2 439.9h0M94.5 425.3h0M113.5 427.3h0M66.6 423.3h0M117.3 422.2h0M72.8 421.6h0M122.3 429.2h0M97.0 414.6h0M120.3 417.5h0M118.9 420.2h0M103.6 434.5h0M89.8 416.0h0M117.1 425.3h0M94.9 411.7h0M112.7 423.5h0M112.0 401.9h0M100.3 424.3h0M114.7 421.3h0M87.1 424.1h0M114.3 428.0h0M121.9 434.3h0M121.0 404.2h0M101.4 421.6h0M104.7 420.3h0M88.2 412.7h0M97.6 432.8h0M104.9 432.0h0M109.0 412.1h0M102.1 442.9h0M69.5 415.8h0M83.2 429.8h0M114.8 419.6h0M123.7 421.9h0M106.7 406.6h0M104.5 428.6h0M131.6 435.5h0M102.8 417.4h0M100.9 397.4h0M99.2 419.9h0M80.4 431.0h0M97.1 424.8h0M82.8 427.8h0M110.0 410.6h0M90.2 421.4h0M105.9 433.9h0M114.4 419.9h0M125.5 427.8h0M80.1 422.8h0M117.3 431.5h0M67.1 426.4h0M111.0 426.6h0M116.7 418.4h0M94.0 423.5h0M93.2 418.0h0M79.6 425.7h0M95.3 432.6h0M116.6 400.3h0M103.3 419.9h0M87.7 432.9h0M90.2 412.8h0M90.7 422.5h0M121.0 429.3h0M136.5 424.1h0M104.5 414.2h0M78.5 422.6h0M121.8 410.2h0M131.0 409.8h0M111.7 394.7h0M97.9 410.7h0M100.3 435.8h0M68.5 419.5h0M105.8 424.8h0M88.3 425.8h0M81.0 432.4h0M84.2 431.3h0M93.6 428.3h0M104.8 432.5h0M92.0 439.9h0M121.4 417.8h0M97.4 418.6h0M98.8 430.1h0M107.6 424.4h0M105.8 425.8h0M107.6 404.0h0M105.4 412.7h0M67.7 426.5h0M118.9 424.1h0M73.1 433.4h0M122.5 413.0h0M104.8 436.3h0M106.4 426.3h0M116.6 437.4h0M82.6 419.3h0M103.4 423.9h0M82.9 400.2h0M94.3 419.0h0M94.9 422.7h0M94.6 423.9h0M102.3 414.8h0M90.7 432.4h0M105.6 421.4h0M94.9 424.7h0M123.0 418.4h0M98.8 423.4h0M115.9 415.7h0M87.0 421.8h0M108.4 417.8h0M100.3 426.0h0M103.6 418.7h0M95.7 438.9h0M109.5 434.3h0M79.3 442.5h0M77.7 425.4h0M128.1 406.3h0M111.3 439.3h0M70.9 419.3h0M103.2 431.1h0M131.8 426.3h0M82.4 413.2h0M128.4 419.1h0M68.0 446.6h0M74.6 417.8h0M106.0 422.3h0M79.6 408.6h0M83.9 439.7h0M87.5 434.5h0M121.4 434.2h0M101.0 408.1h0M99.4 437.3h0M99.9 417.5h0M104.9 427.4h0M94.9 409.3h0M76.3 422.3h0M77.3 439.8h0M93.7 442.6h0M115.4 431.5h0M101.7 429.7h0M95.4 404.8h0M99.9 415.7h0M105.4 429.5h0M136.4 418.5h0M97.6 431.8h0M98.2 436.9h0M84.9 408.8h0M110.1 419.8h0M128.5 427.2h0M125.3 414.8h0M89.2 435.5h0M78.6 432.6h0M131.1 417.4h0M135.0 429.8h0M98.7 421.9h0M104.5 430.6h0M75.8 433.9h0M137.9 420.6h0M111.2 442.6h0M95.8 439.3h0M130.4 442.5h0M99.7 410.6h0M97.9 433.3h0M120.8 441.1h0M96.9 422.6h0M128.3 423.9h0M87.8 428.3h0M98.0 430.5h0M110.1 410.5h0M100.1 442.6h0M96.8 427.5h0M72.2 422.9h0M94.0 423.6h0M75.5 416.9h0M79.2 436.8h0M103.5 426.7h0M94.3 410.2h0M72.4 428.1h0M120.6 406.6h0M90.5 405.4h0M110.4 413.5h0M154.9 425.1h0M81.0 427.2h0M67.4 409.1h0M90.2 423.4h0M53.2 432.2h0M79.3 421.8h0M83.7 421.9h0M125.8 425.7h0M132.8 432.4h0M109.5 411.0h0M87.5 419.8h0M112.7 409.9h0M73.0 435.7h0M94.4 420.3h0M123.9 434.1h0M85.3 433.4h0M103.5 418.6h0M99.1 433.9h0M94.0 418.7h0M94.5 421.0h0M105.8 412.8h0M70.7 427.5h0M101.1 427.5h0M114.8 432.5h0M65.4 435.6h0M95.1 435.5h0M133.6 416.6h0M80.9 422.3h0M111.3 413.7h0M106.5 427.6h0M114.6 429.8h0M112.7 424.6h0M118.2 427.0h0M77.4 415.3h0M87.0 423.9h0M91.5 424.1h0M75.9 410.0h0M72.5 411.5h0M89.3 429.2h0M113.8 425.3h0M97.2 429.1h0M106.9 433.7h0M92.3 431.3h0M95.2 439.6h0M110.8 423.2h0M109.7 415.7h0M122.6 433.8h0M90.3 422.3h0M95.4 418.8h0M128.1 431.0h0M109.8 438.8h0M110.3 409.1h0M94.5 416.1h0M119.0 414.8h0M88.8 426.5h0M105.5 433.5h0M80.3 418.9h0M73.9 421.4h0M102.3 431.3h0M93.1 429.5h0M94.0 434.6h0M87.8 429.1h0M110.7 413.4h0M57.4 410.9h0M109.4 424.2h0M99.2 424.5h0M113.5 421.2h0M68.6 432.8h0M92.0 428.1h0M92.6 435.8h0M69.9 424.8h0M75.1 441.8h0M93.2 443.0h0M101.1 425.0h0M116.5 407.7h0M88.0 426.4h0M97.7 419.2h0M103.9 420.2h0M93.0 412.1h0M83.6 416.9h0M124.1 417.7h0M51.1 420.5h0M76.9 422.7h0M99.2 405.4h0M104.9 413.6h0M114.7 435.5h0M103.8 433.7h0M89.2 432.6h0M110.1 425.6h0M127.6 417.5h0M83.5 405.3h0M91.1 436.0h0M89.6 411.8h0M95.5 404.6h0M103.1 431.0h0M98.8 414.6h0M108.3 408.2h0M98.2 402.3h0M88.8 420.6h0M88.8 424.5h0M114.0 418.5h0M116.2 423.6h0M103.2 404.4h0M120.9 426.3h0M81.7 421.6h0M68.2 411.4h0M88.0 429.3h0M118.3 430.3h0M84.9 443.8h0M126.5 417.7h0M124.3 421.6h0M99.8 420.0h0M56.5 428.9h0M89.8 414.6h0M119.1 416.9h0M89.8 404.7h0M79.2 411.3h0M120.6 443.6h0M86.8 416.3h0M126.5 426.2h0M90.4 424.5h0M96.0 435.4h0M69.2 396.3h0M112.9 421.3h0M112.3 423.3h0M100.0 426.2h0M119.0 423.6h0M117.0 420.1h0M98.4 408.9h0M93.9 421.5h0M94.3 409.2h0M89.7 414.3h0M116.7 438.2h0M82.9 422.7h0M103.5 423.5h0M103.3 427.3h0M102.0 412.4h0M92.5 411.0h0M106.6 417.5h0M119.9 423.9h0M108.6 439.9h0M91.9 428.1h0M63.9 417.0h0M104.4 430.9h0M127.1 432.5h0M58.5 414.1h0M129.7 406.8h0M105.3 423.9h0M126.4 407.5h0M84.2 448.0h0M126.9 405.0h0M90.1 440.7h0M112.0 428.3h0M84.6 407.8h0M120.0 422.1h0M111.9 416.3h0M67.7 419.0h0M97.2 411.5h0M108.9 417.2h0M72.8 417.6h0M46.5 443.1h0M106.3 422.5h0M106.1 423.4h0M114.1 432.6h0M112.8 437.0h0M88.8 424.9h0M113.6 434.8h0M114.7 432.1h0M113.2 447.3h0M98.6 427.2h0M79.4 429.4h0M115.5 412.3h0M107.6 422.1h0M92.3 413.2h0M91.7 430.6h0M106.3 429.6h0M64.3 437.0h0M114.4 400.6h0M127.3 420.1h0M107.2 431.7h0M83.3 431.4h0M93.3 435.2h0M114.5 428.7h0M93.3 414.6h0M118.4 426.9h0M87.2 406.6h0M111.7 431.5h0M82.5 411.6h0M100.8 425.3h0M89.7 426.6h0M135.7 422.1h0M106.4 428.7h0M108.1 398.5h0M111.7 432.2h0M85.3 413.2h0M114.3 417.6h0M98.4 447.6h0M95.5 435.8h0M122.7 419.1h0M114.0 427.6h0M126.6 432.2h0M141.2 430.4h0M139.1 447.3h0M82.9 423.3h0M63.3 437.8h0M110.0 439.6h0M102.6 426.1h0M98.7 450.2h0M87.7 432.5h0M73.0 412.2h0M128.5 438.1h0M102.8 416.1h0M85.5 419.0h0M94.2 431.9h0M74.0 411.3h0M105.5 426.0h0M62.2 415.9h0M103.1 425.5h0M97.7 424.5h0M92.7 407.6h0M111.9 404.5h0M94.3 426.8h0M78.9 426.3h0M92.9 429.9h0M90.0 408.3h0M124.9 410.2h0M94.8 433.7h0M94.8 426.7h0M128.5 412.1h0M81.8 408.7h0M96.5 436.7h0M94.9 430.2h0M120.1 414.6h0M79.9 430.2h0M100.6 424.7h0M111.7 434.0h0M99.7 429.9h0M86.5 418.0h0M80.7 427.0h0M88.7 423.6h0M102.1 432.3h0M151.1 427.0h0M120.0 430.7h0M94.6 432.8h0M104.4 418.5h0M108.9 433.0h0M92.2 428.0h0M104.9 412.8h0M94.4 426.8h0M93.9 423.1h0M95.4 429.0h0M102.2 433.2h0M84.6 416.4h0M86.3 424.6h0M117.5 418.3h0M86.5 388.9h0M118.4 399.7h0M115.4 404.7h0M107.8 425.4h0M113.4 417.1h0M139.1 417.3h0M78.5 427.2h0M76.7 414.4h0M75.0 408.4h0M91.9 452.0h0M126.5 422.6h0M73.0 427.3h0M90.7 430.7h0M120.1 411.7h0M126.3 405.7h0M103.6 416.2h0M65.6 429.2h0M111.1 421.4h0M109.5 415.4h0M99.5 411.8h0M84.3 421.6h0M93.7 409.6h0M104.9 429.7h0M81.0 439.7h0M134.3 395.4h0M116.3 430.4h0M100.4 417.7h0M96.8 409.4h0M79.3 409.6h0M94.7 428.4h0M123.4 428.7h0M86.8 427.7h0M93.8 419.3h0M103.2 399.7h0M80.5 449.2h0M78.6 422.8h0M112.4 419.9h0M105.3 417.4h0M107.3 415.1h0M110.6 418.1h0M97.9 427.7h0M91.8 421.1h0M91.1 426.9h0M71.2 435.7h0M98.9 430.5h0M96.2 428.0h0M117.4 408.9h0M105.7 417.8h0M125.4 427.6h0M99.0 425.7h0M98.4 418.0h0M77.9 440.2h0M91.8 431.6h0M111.2 433.6h0M92.1 433.4h0M95.8 422.4h0M75.7 391.9h0M75.7 421.9h0M89.4 414.9h0M62.1 431.2h0M58.8 432.1h0M104.5 425.7h0M110.9 406.4h0M124.8 413.8h0M109.0 423.7h0M92.7 426.3h0M80.9 423.0h0M116.0 434.5h0M96.0 422.8h0M70.2 434.1h0M77.8 435.3h0M106.0 409.4h0M99.9 433.8h0M130.9 420.5h0M121.0 442.4h0M117.8 399.4h0M118.7 416.0h0M102.1 416.7h0M122.4 410.4h0M106.8 432.2h0M109.3 434.2h0M126.7 419.6h0M117.7 409.3h0M78.4 439.4h0M139.8 429.9h0M92.4 421.4h0M108.8 411.8h0M90.1 421.1h0M99.3 408.1h0M80.1 425.4h0M129.0 423.0h0M89.6 436.9h0M100.0 430.9h0M90.4 414.0h0M111.0 415.6h0M115.8 427.6h0M121.9 425.3h0M121.7 431.2h0M128.2 400.8h0M86.4 404.3h0M107.3 435.8h0M98.7 421.2h0M86.4 439.4h0M113.9 433.4h0M113.1 424.6h0M107.6 430.9h0M87.3 437.2h0M66.4 437.2h0M125.5 421.9h0M87.9 410.4h0M100.4 425.3h0M114.8 434.1h0M100.7 421.2h0M69.9 425.9h0M136.7 423.0h0M108.8 419.0h0M135.9 424.0h0M127.0 436.2h0M85.7 407.5h0M71.9 429.1h0M97.1 430.8h0M100.8 426.1h0M83.0 418.9h0M142.8 432.3h0M105.3 416.9h0M103.1 423.8h0M111.1 427.8h0M62.0 429.7h0M109.4 430.9h0M97.8 428.1h0M91.6 420.5h0M115.5 419.4h0M108.3 438.2h0M138.8 409.9h0M118.7 420.3h0M100.7 452.5h0M131.1 432.8h0M126.4 429.8h0M108.5 417.5h0M124.7 427.6h0M51.3 419.5h0M98.9 418.0h0M66.7 432.4h0M116.0 407.7h0M105.2 426.3h0M92.8 422.0h0M107.1 416.6h0M110.1 425.2h0M125.4 421.1h0M98.0 419.4h0M115.4 411.4h0M75.6 435.2h0M57.4 424.5h0M122.0 427.4h0M128.4 429.4h0M100.3 425.8h0M71.1 427.9h0M98.0 429.9h0M122.1 429.6h0M141.0 431.5h0M109.6 425.9h0M153.5 427.0h0M89.4 427.5h0M118.7 421.3h0M99.8 429.1h0M107.1 439.6h0M109.6 420.1h0M129.9 416.7h0M113.2 421.5h0M100.7 427.2h0M96.1 420.7h0M102.0 419.1h0M80.9 414.0h0M117.6 421.1h0M102.9 431.1h0M78.9 429.7h0M100.9 429.3h0M89.2 412.5h0M95.3 438.6h0M68.7 428.1h0M105.2 425.7h0M103.4 430.6h0M86.1 426.9h0M87.0 421.4h0M109.0 419.2h0M127.2 418.1h0M111.8 412.1h0M86.3 444.5h0M106.4 419.7h0M125.0 423.3h0M115.9 418.8h0M109.5 433.4h0M111.2 425.1h0M90.8 404.3h0M96.2 419.3h0M125.9 412.5h0M101.5 420.9h0M81.1 433.3h0M102.0 427.3h0M101.2 433.4h0M93.7 412.9h0M143.4 425.7h0M101.9 415.0h0M94.8 424.0h0M111.2 416.5h0M111.6 420.6h0M106.0 421.8h0M96.1 415.0h0M115.4 429.6h0M101.2 415.5h0M123.7 438.6h0M117.4 430.8h0M134.0 446.1h0M99.8 450.2h0M88.0 421.0h0M147.9 411.2h0M114.9 429.4h0M122.8 420.8h0M107.4 441.8h0M85.6 425.8h0M79.8 436.7h0M90.5 416.1h0M128.1 442.3h0M79.0 418.8h0M60.8 428.1h0M89.3 427.0h0M107.0 427.0h0M75.6 417.2h0M112.4 432.8h0M98.8 438.6h0M81.4 432.2h0M73.4 431.8h0M118.5 423.7h0M116.0 426.3h0M124.1 431.5h0M92.0 418.3h0M97.3 421.3h0M117.3 411.7h0M122.2 420.5h0M100.9 434.1h0M80.9 427.5h0M105.3 444.8h0M153.6 407.5h0M165.9 434.1h0M93.8 426.2h0M87.7 420.6h0M96.3 409.5h0M105.1 422.7h0M109.0 431.9h0M67.2 418.9h0M102.2 437.8h0M91.1 419.6h0M83.3 423.5h0M122.6 432.6h0M108.0 416.6h0M101.0 419.4h0M103.5 439.7h0M145.9 419.3h0M86.9 431.3h0M66.7 428.0h0M88.9 433.6h0M101.3 408.0h0M89.1 416.9h0M93.5 413.0h0M109.0 420.9h0M102.0 429.1h0M104.7 437.8h0M110.7 433.7h0M71.2 426.0h0M101.5 413.0h0M79.3 416.7h0M121.9 425.3h0M108.3 420.9h0M122.9 432.0h0M114.7 425.1h0M147.1 436.3h0M69.9 421.5h0M74.7 424.5h0M128.7 421.6h0M87.7 432.6h0M98.6 412.0h0M124.4 415.7h0M117.9 428.2h0M132.4 408.9h0M89.3 413.8h0M89.2 430.0h0M128.1 389.9h0M99.8 437.1h0M102.2 426.3h0M116.1 412.0h0M98.0 437.7h0M127.9 408.3h0M131.8 430.2h0M113.3 428.3h0M119.7 442.3h0M64.0 427.2h0M76.5 426.5h0M94.7 407.6h0M103.7 427.5h0M120.7 420.8h0M98.5 408.3h0M107.1 418.5h0M94.4 433.5h0M99.1 430.2h0M105.5 433.6h0M84.5 429.3h0M78.1 415.3h0M76.1 430.8h0M100.0 419.8h0M98.5 421.5h0M103.1 405.8h0M122.6 433.7h0M76.8 436.5h0M96.6 431.2h0M82.2 432.7h0M113.4 421.9h0M83.6 430.2h0M64.7 435.1h0M108.6 419.0h0M68.3 429.8h0M94.2 418.7h0M114.4 427.0h0M89.4 444.7h0M83.9 426.7h0M123.0 439.5h0M127.7 409.8h0M101.4 420.6h0M111.8 415.9h0M91.1 403.8h0M65.8 416.6h0M107.5 414.8h0M102.0 408.2h0M74.2 424.2h0M86.1 433.8h0M71.4 429.6h0M81.7 418.9h0M70.0 424.2h0M92.1 434.4h0M109.8 435.4h0M75.9 408.2h0M91.5 430.6h0M82.4 428.6h0M96.1 433.0h0M108.6 444.0h0M115.8 412.2h0M155.5 426.0h0M99.8 426.4h0M94.7 429.5h0M90.7 405.5h0M135.3 418.2h0M103.1 406.0h0M115.3 427.5h0M117.2 422.2h0M114.6 421.9h0M109.5 411.0h0M86.2 417.3h0M100.5 421.9h0M119.7 409.1h0M84.0 430.8h0M75.6 427.8h0M101.9 426.9h0M90.4 424.4h0M93.6 437.0h0M136.8 424.8h0M72.4 415.4h0M116.0 425.1h0M105.6 425.1h0M110.1 396.0h0M96.3 414.9h0M95.3 415.3h0M98.5 439.5h0M96.4 438.9h0M106.8 414.6h0M94.1 418.8h0M62.4 446.8h0M112.5 426.1h0M72.5 425.7h0M56.3 438.0h0M109.4 418.8h0M97.5 442.7h0M55.3 414.1h0M99.4 427.5h0M88.3 428.8h0M98.1 414.1h0M92.4 428.6h0M117.5 429.0h0M62.8 430.9h0M98.5 427.9h0M97.4 436.8h0M123.4 414.4h0M89.0 434.6h0M105.5 415.2h0M113.8 433.2h0M110.0 414.0h0M90.3 433.2h0M104.9 410.7h0M99.9 417.1h0M95.2 420.4h0M100.3 428.2h0M107.2 422.3h0M99.4 410.1h0M102.4 404.0h0M77.9 421.3h0M119.5 431.4h0M77.5 429.8h0M151.2 424.8h0M125.9 418.9h0M98.1 437.0h0M105.8 432.1h0M110.1 425.7h0M56.8 424.6h0M95.8 413.6h0M123.8 432.0h0M112.6 426.5h0M111.2 419.9h0M67.9 410.8h0M109.4 433.6h0M112.1 414.4h0M118.7 407.5h0M94.6 419.3h0M75.9 416.7h0M116.2 425.7h0M110.1 417.3h0M102.5 402.6h0M66.1 424.5h0M119.6 429.6h0M80.4 434.1h0M101.6 431.7h0M85.8 404.6h0M106.9 423.9h0M67.4 426.1h0M117.1 425.9h0M84.7 435.6h0M137.9 431.9h0M109.7 427.9h0M96.3 433.2h0M122.1 431.7h0M91.7 420.7h0M89.5 436.8h0M99.8 426.5h0M92.1 423.2h0M97.7 409.3h0M80.0 412.1h0M108.1 428.9h0M92.4 426.1h0M77.1 420.4h0M104.2 423.8h0M89.1 421.3h0M99.0 440.9h0M95.7 402.8h0M97.2 436.1h0M103.1 440.5h0M114.4 423.7h0M107.5 422.5h0M89.5 406.2h0M104.8 440.1h0M102.2 421.6h0M73.4 434.9h0M87.3 425.8h0M90.6 437.8h0M113.1 430.1h0M104.3 422.7h0M129.2 426.0h0M116.0 418.7h0M99.7 419.4h0M103.2 426.2h0M77.7 434.5h0M109.8 430.7h0M105.5 421.1h0M90.4 425.1h0M109.5 422.4h0M83.2 427.7h0M101.1 408.1h0M132.7 417.9h0M113.7 421.9h0M117.2 446.6h0M96.1 436.5h0M90.7 431.5h0M95.9 426.9h0M134.5 426.7h0M90.5 427.1h0M86.3 425.0h0M101.1 411.3h0M97.8 428.8h0M38.9 436.3h0M134.6 420.4h0M79.1 429.9h0M118.1 411.8h0M78.6 450.1h0M101.1 422.3h0M131.6 439.9h0M94.4 432.1h0M74.8 434.9h0M94.8 424.9h0M77.4 413.8h0M92.9 429.6h0M119.6 429.3h0M110.9 431.7h0M112.3 441.9h0M104.6 423.9h0M104.8 417.6h0M96.9 405.0h0M128.2 446.2h0M76.0 421.3h0M110.3 398.1h0M91.8 415.1h0M84.5 400.0h0M88.8 418.1h0M100.3 419.7h0M112.9 436.6h0M112.7 429.1h0M120.8 431.3h0M92.1 415.4h0M106.8 431.6h0M105.8 418.5h0M103.0 420.0h0M124.4 419.6h0M105.3 413.4h0M98.1 409.5h0M94.7 433.2h0M98.0 428.3h0M100.5 422.4h0M80.6 440.0h0M116.3 410.7h0M90.1 427.9h0M69.1 419.4h0M65.0 437.2h0M82.4 428.1h0M102.1 424.7h0M137.4 426.8h0M137.6 427.6h0M80.8 425.9h0M107.5 427.5h0M96.1 419.3h0M96.7 420.1h0M87.0 424.0h0M82.6 423.0h0M62.7 424.2h0M75.1 435.7h0M107.6 410.5h0M98.1 414.0h0M169.4 413.2h0M69.0 444.7h0M93.0 424.3h0M90.4 415.2h0M60.0 402.4h0M74.3 429.0h0M87.6 413.1h0M122.4 413.4h0M125.6 440.2h0M124.2 401.4h0M79.0 421.6h0M109.0 429.7h0M73.3 416.3h0M105.3 435.5h0M84.0 421.7h0M98.9 424.9h0M129.6 443.4h0M103.8 415.4h0M96.3 421.2h0M121.7 427.9h0M89.0 437.5h0M98.0 430.9h0M79.4 425.5h0M64.8 401.4h0M97.7 434.1h0M122.4 438.5h0M71.2 412.9h0M85.5 416.7h0M100.7 420.3h0M94.1 414.8h0M112.5 430.9h0M112.5 436.8h0M124.7 420.1h0M75.9 408.2h0M115.5 424.0h0M84.1 413.9h0M101.9 433.7h0M95.9 438.5h0M98.4 426.6h0M89.4 416.8h0M122.7 430.7h0M97.9 410.4h0M82.2 416.6h0M95.2 427.7h0M133.6 414.4h0M105.0 414.5h0M69.9 431.2h0M118.9 419.5h0M71.4 444.1h0M115.5 434.6h0M94.3 425.3h0M100.1 434.2h0M105.4 423.6h0M80.5 422.4h0M112.9 434.8h0M94.8 424.3h0M116.4 412.5h0M95.1 417.0h0M129.8 419.0h0M134.6 419.2h0M98.7 432.9h0M76.2 410.6h0M104.2 415.2h0M106.8 424.7h0M80.4 414.8h0M114.2 410.3h0M131.4 426.2h0M105.0 415.0h0M138.5 418.1h0M80.9 420.6h0M72.9 425.3h0M116.4 432.0h0M100.7 427.4h0M88.7 420.5h0M68.9 430.1h0M91.5 423.5h0M100.6 425.5h0M97.5 424.5h0M107.8 433.4h0M79.9 422.8h0M73.7 413.4h0M74.3 426.4h0M133.1 429.8h0M99.0 424.0h0M107.5 433.4h0M75.3 428.6h0M136.1 453.9h0M113.9 428.9h0M105.7 437.5h0M111.5 435.9h0M113.7 417.8h0M134.8 432.2h0M100.2 436.7h0M79.7 436.3h0M105.6 435.5h0M122.1 433.6h0M96.5 417.3h0M68.3 422.6h0M91.0 436.2h0M123.3 410.4h0M83.3 430.7h0M119.8 426.0h0M98.2 423.7h0M121.5 416.9h0M115.9 433.2h0M129.1 405.1h0M84.4 431.2h0M114.3 440.4h0M96.2 393.8h0M115.6 430.3h0M97.2 417.2h0M100.3 424.9h0M95.7 435.2h0M73.6 427.2h0M128.0 425.9h0M122.5 430.0h0M106.8 441.5h0M123.6 402.7h0M112.5 420.7h0M78.6 440.1h0M120.1 430.2h0M102.3 428.8h0M86.7 431.7h0M119.1 412.3h0M87.4 426.1h0M90.1 419.2h0M95.6 431.2h0M93.8 426.9h0M67.9 405.1h0M74.3 432.5h0M99.9 403.0h0M128.6 423.0h0M106.1 432.4h0M95.7 430.7h0M91.2 423.3h0M92.2 432.8h0M63.0 405.7h0M77.4 413.0h0M76.0 412.3h0M93.5 426.1h0M88.8 427.9h0M92.5 407.7h0M142.3 428.1h0M116.9 422.4h0M66.9 427.1h0M103.2 441.4h0M129.4 436.0h0M154.2 416.1h0M92.4 424.8h0M123.0 426.4h0M111.6 436.7h0M106.4 420.0h0M66.9 427.7h0M75.2 435.8h0M112.0 421.8h0M98.6 418.2h0M108.8 400.8h0M95.7 424.0h0M104.2 408.7h0M105.9 420.1h0M122.9 433.4h0M106.5 426.4h0M91.1 438.6h0M121.6 416.8h0M93.0 422.8h0M101.8 439.1h0M111.1 424.3h0M113.8 400.7h0M80.1 415.6h0M140.7 439.1h0M126.5 428.5h0M98.7 409.4h0M137.9 427.7h0M98.7 408.8h0M77.6 430.4h0M102.2 418.8h0M86.3 423.4h0M102.4 434.0h0M101.4 413.7h0M97.0 433.2h0M98.2 425.3h0M111.9 415.6h0M127.5 443.7h0M73.1 437.3h0M91.7 425.3h0M124.6 428.5h0M57.4 411.5h0M103.3 408.4h0M103.0 434.6h0M63.3 431.8h0M83.5 445.2h0M101.3 429.4h0M136.0 404.0h0M127.2 422.8h0M130.9 436.2h0M130.9 413.7h0M96.6 418.5h0M98.1 429.0h0M84.8 440.7h0M90.0 415.5h0M127.5 416.2h0M109.0 430.7h0M103.0 411.4h0M85.2 443.3h0M123.5 438.3h0M87.2 429.7h0M85.7 427.3h0M86.7 417.9h0M92.5 416.0h0M130.1 406.8h0M90.5 437.3h0M119.6 416.3h0M125.5 414.3h0M112.2 431.3h0M136.5 421.7h0M88.8 425.1h0M116.6 406.3h0M139.7 432.2h0M87.8 430.5h0M74.1 434.6h0M118.0 410.4h0M81.8 420.4h0M97.5 420.9h0M83.1 413.3h0M117.8 433.8h0M124.0 423.8h0M143.3 432.1h0M152.2 426.5h0M118.0 418.5h0M122.7 428.8h0M129.4 421.5h0M118.8 428.9h0M147.2 425.8h0M119.5 429.9h0M107.6 420.0h0M134.2 416.2h0M135.1 431.9h0M114.9 429.0h0M134.2 421.1h0M95.7 425.7h0M127.1 430.7h0M142.5 416.7h0M93.6 421.7h0M144.8 441.5h0M120.8 425.9h0M134.3 445.1h0M116.8 443.7h0M130.9 434.8h0M142.0 425.9h0M132.8 431.4h0M133.9 432.1h0M160.8 392.2h0M132.1 432.3h0M124.0 423.7h0M142.6 411.3h0M124.9 438.1h0M138.1 418.4h0M129.2 432.9h0M134.9 431.7h0M144.7 422.5h0M145.3 429.4h0M130.4 417.2h0M133.9 416.6h0M146.3 425.3h0M112.3 424.6h0M152.0 426.0h0M142.6 433.2h0M135.2 426.5h0M109.3 426.7h0M138.3 424.2h0M138.0 421.9h0M131.2 421.6h0M110.4 421.1h0M95.7 420.3h0M130.5 437.9h0M127.3 422.2h0M123.3 420.9h0M129.2 425.7h0M112.1 428.4h0M126.8 432.4h0M120.0 438.7h0M156.0 425.0h0M141.1 436.5h0M162.2 414.7h0M132.6 412.7h0M131.7 427.1h0M116.2 417.3h0M125.8 426.9h0M154.9 426.1h0M122.4 427.3h0M115.5 427.6h0M135.8 423.9h0M144.4 438.9h0M128.0 424.5h0M125.4 427.2h0M149.5 418.7h0M150.4 442.5h0M135.7 412.3h0M120.4 421.9h0M140.8 424.4h0M127.7 431.6h0M147.1 413.6h0M146.3 425.1h0M116.0 417.5h0M119.4 421.4h0M138.4 429.3h0M134.5 431.6h0M126.0 414.1h0M110.4 423.4h0M139.2 430.7h0M121.5 437.5h0M139.0 429.8h0M127.2 425.7h0M137.5 431.9h0M123.9 422.9h0M137.0 422.8h0M150.5 412.8h0M140.9 417.5h0M127.2 415.3h0M143.2 435.4h0M132.1 417.0h0M119.2 431.1h0M146.0 420.0h0M86.7 432.7h0M140.0 426.8h0M142.2 422.6h0M143.4 417.6h0M119.1 427.5h0M131.8 420.5h0M125.6 418.2h0M138.2 417.3h0M141.5 431.4h0M114.3 396.0h0M121.9 424.2h0M127.5 415.5h0M136.3 429.1h0M137.9 411.3h0M135.0 423.6h0M125.1 418.4h0M98.8 419.9h0M131.4 432.3h0M131.5 429.5h0M126.0 427.6h0M130.0 434.6h0M112.6 423.8h0M136.4 417.4h0M166.2 421.9h0M140.6 436.6h0M142.1 421.6h0M147.9 427.8h0M155.1 412.5h0M145.4 429.5h0M151.1 416.5h0M121.4 426.8h0M122.5 428.4h0M121.6 430.8h0M136.2 421.8h0M103.8 419.4h0M140.4 427.4h0M123.2 439.2h0M124.9 430.5h0M127.7 420.7h0M140.1 425.9h0M122.0 434.7h0M133.6 421.5h0M151.2 425.3h0M128.2 427.2h0M117.7 426.7h0M122.3 412.5h0M121.2 425.1h0M121.7 418.1h0M135.6 412.7h0M121.0 433.1h0M120.2 419.7h0M125.1 417.9h0M106.3 438.9h0M130.8 424.8h0M123.3 442.0h0M121.6 434.2h0M118.7 425.3h0M118.6 404.6h0M126.4 426.7h0M120.7 419.1h0M140.9 434.4h0M134.2 420.6h0M123.7 420.0h0M127.7 433.2h0M115.7 401.3h0M138.9 428.8h0M105.4 415.6h0M137.0 426.1h0M152.3 429.5h0M122.4 437.0h0M135.0 426.1h0M109.8 419.4h0M146.8 430.8h0M155.1 431.8h0M114.7 424.8h0M123.4 426.0h0M142.0 428.5h0M130.7 427.6h0M153.6 419.6h0M116.1 417.5h0M139.7 431.3h0M126.1 427.6h0M119.2 429.6h0M126.2 428.8h0M149.9 426.5h0M135.2 427.9h0M113.9 404.9h0M118.6 435.8h0M149.1 438.0h0M115.9 425.4h0M122.8 414.6h0M126.9 423.5h0M109.7 440.0h0M126.7 422.9h0M119.1 427.8h0M131.4 422.8h0M111.3 446.4h0M127.3 429.8h0M148.7 429.0h0M147.5 437.3h0M140.0 411.8h0M142.2 420.7h0M116.9 415.7h0M127.5 417.5h0M124.2 425.8h0M144.3 432.6h0M153.3 440.9h0M168.5 429.1h0M103.8 418.8h0M131.2 426.4h0M136.3 427.1h0M118.6 417.6h0M155.6 421.2h0M115.8 428.3h0M132.2 418.6h0M152.5 417.7h0M127.5 415.6h0M137.5 438.8h0M146.6 421.5h0M141.4 424.2h0M138.1 432.4h0M138.2 420.2h0M98.4 437.6h0M109.1 445.6h0M137.1 434.7h0M127.2 420.7h0M145.2 450.3h0M113.4 439.4h0M119.2 434.0h0M118.7 416.9h0M127.2 415.6h0M154.2 428.1h0M126.6 437.5h0M118.6 421.2h0M122.0 434.4h0M142.0 425.5h0M149.5 420.9h0M121.9 413.4h0M109.9 413.5h0M131.9 445.3h0M115.0 437.3h0M102.4 421.2h0M161.8 422.4h0M107.8 417.6h0M118.5 427.1h0M113.2 426.3h0M108.5 413.3h0M127.2 429.8h0M148.4 405.0h0M153.1 406.0h0M130.2 417.6h0M153.3 411.2h0M138.9 415.9h0M138.2 413.1h0M156.5 411.0h0M148.1 411.2h0M132.9 414.4h0M155.3 410.0h0M142.7 413.5h0M142.8 412.7h0M155.3 409.8h0M145.5 412.7h0M133.5 414.7h0M138.0 413.9h0M154.1 412.3h0M147.8 411.9h0M144.2 412.5h0M142.4 411.9h0M153.6 411.3h0M156.8 410.4h0M144.2 411.8h0M139.5 412.8h0M133.1 415.3h0M157.1 409.2h0M149.1 410.9h0M130.9 416.2h0M134.8 414.9h0M143.9 413.5h0M136.6 415.0h0M150.9 411.5h0M141.2 412.8h0M177.3 376.0h0M178.6 376.1h0M175.6 373.6h0M177.9 373.2h0M174.0 374.9h0M172.9 376.3h0M182.6 379.9h0M172.7 378.1h0M171.2 368.3h0M177.6 375.6h0M173.1 375.7h0M173.5 375.0h0M175.7 375.6h0M174.3 375.4h0M176.5 372.6h0M176.3 374.3h0M175.5 374.3h0M170.2 373.7h0M176.2 378.1h0M174.0 373.7h0M172.5 375.4h0M173.1 372.6h0M173.0 368.6h0M175.4 376.2h0M177.8 378.3h0M170.0 388.9h0M167.2 385.0h0M166.2 386.7h0M171.0 387.9h0M170.3 386.5h0M166.5 385.5h0M172.5 389.8h0M164.3 384.6h0M170.6 388.7h0M165.1 384.7h0M168.5 386.9h0M172.1 387.8h0M169.4 387.6h0M170.7 387.6h0M171.8 389.3h0M168.8 387.6h0M170.1 386.6h0M164.9 385.7h0M193.4 386.8h0M191.5 385.6h0M194.3 387.5h0M188.7 386.2h0M191.6 386.6h0M192.9 389.1h0M187.1 386.1h0M186.6 384.0h0M188.4 384.9h0M190.2 384.9h0M188.3 385.2h0M194.6 389.6h0M186.7 383.8h0M195.0 388.3h0M194.5 387.5h0M189.5 386.2h0M191.8 387.5h0M197.3 388.3h0M193.1 385.8h0M193.7 387.8h0M194.0 386.9h0M187.3 385.0h0M239.4 379.6h0M228.1 407.3h0M245.0 389.6h0M225.9 406.7h0M220.1 409.7h0M228.5 406.6h0M215.2 411.3h0M242.0 383.6h0M226.3 407.4h0M243.5 396.5h0M237.7 403.6h0M217.8 411.2h0M240.4 400.8h0M242.2 382.7h0M214.8 411.5h0M245.6 397.0h0M245.0 394.9h0M229.4 407.0h0M239.2 401.1h0M243.3 390.5h0M217.0 409.3h0M244.3 392.9h0M245.4 393.8h0M242.2 401.1h0M245.8 392.6h0M241.6 400.6h0M223.5 406.9h0M243.1 400.1h0M238.4 381.4h0M244.5 388.4h0M241.6 384.5h0M241.2 382.1h0M240.9 383.2h0M217.8 412.3h0M245.2 396.9h0M245.2 396.5h0M231.5 404.2h0M240.9 384.4h0M241.0 398.2h0M237.1 403.4h0M245.7 389.6h0M246.0 389.8h0M222.3 409.7h0M219.4 407.4h0M225.2 409.5h0M242.1 388.3h0M211.8 412.2h0M221.7 409.7h0M233.4 403.3h0M246.8 390.6h0M234.9 404.9h0M214.9 411.4h0M217.4 409.6h0M217.9 410.1h0M230.1 406.7h0M225.0 408.3h0M218.1 409.9h0M242.6 399.2h0M214.3 410.0h0M245.9 395.0h0M242.2 384.2h0M244.8 388.5h0M243.8 387.7h0M219.6 409.0h0M239.6 379.8h0M243.8 397.4h0M231.8 405.2h0M223.6 406.8h0M238.2 381.9h0M241.1 399.8h0M204.8 442.2h0M205.1 442.0h0M201.6 437.0h0M204.4 441.7h0M201.3 447.3h0M207.6 437.9h0M204.5 443.9h0M203.0 441.0h0M203.0 442.1h0M206.9 447.0h0M203.0 438.7h0M205.1 443.9h0M201.3 432.7h0M203.0 437.6h0M207.6 444.5h0M203.7 439.4h0M203.3 439.0h0M211.0 438.7h0M200.3 442.4h0M204.0 440.0h0M201.9 440.9h0M213.0 442.4h0M203.1 442.4h0M204.4 444.2h0M206.7 439.8h0M206.7 443.0h0M213.4 443.2h0M200.6 439.6h0M203.4 438.1h0M205.9 434.9h0M201.6 438.5h0M207.9 441.7h0M205.1 441.6h0M200.4 442.5h0M202.7 438.2h0M205.5 438.5h0M203.3 438.6h0M202.5 439.1h0M201.0 440.4h0M206.8 446.6h0M201.9 441.2h0M202.6 442.0h0M206.0 437.6h0M204.6 445.2h0M206.6 437.8h0" stroke="#aacde2" stroke-width="1.1" stroke-linecap="round"/>
<path d="M86.1 427.8h0M94.9 434.0h0M92.1 442.4h0M59.9 435.0h0M119.7 441.3h0M93.5 427.2h0M113.2 430.4h0M139.6 429.5h0M100.2 443.9h0M98.2 434.1h0M84.9 434.7h0M119.6 432.2h0M81.9 450.6h0M89.2 431.1h0M98.7 445.1h0M88.0 438.2h0M142.0 430.7h0M109.7 459.8h0M75.0 417.3h0M110.0 447.9h0M98.9 436.5h0M111.4 427.3h0M100.3 437.3h0M91.5 459.0h0M89.6 444.6h0M114.6 450.0h0M107.4 442.0h0M113.6 430.6h0M125.8 427.4h0M121.0 422.8h0M84.2 439.5h0M115.7 425.1h0M110.2 428.4h0M106.1 442.1h0M97.9 447.1h0M104.0 428.0h0M91.9 436.0h0M81.5 430.7h0M107.8 440.2h0M118.4 429.5h0M97.8 439.3h0M125.7 435.3h0M100.6 432.1h0M113.8 418.1h0M90.9 438.0h0M120.7 451.3h0M90.8 431.6h0M82.8 435.2h0M74.3 447.0h0M80.5 438.2h0M127.2 441.5h0M90.6 423.8h0M95.5 442.9h0M102.9 431.4h0M92.0 439.3h0M90.7 428.8h0M100.2 443.9h0M131.8 435.0h0M107.3 433.3h0M129.9 435.1h0M90.4 431.8h0M106.8 432.7h0M130.3 437.1h0M104.0 432.6h0M97.5 427.8h0M100.8 437.7h0M113.3 439.4h0M94.6 444.0h0M84.3 430.2h0M76.9 438.7h0M85.6 441.5h0M109.1 427.8h0M98.0 432.0h0M98.8 430.8h0M106.3 449.2h0M106.0 432.0h0M106.2 445.1h0M99.5 429.6h0M113.1 439.3h0M107.5 430.9h0M128.4 445.2h0M96.8 432.4h0M108.5 450.0h0M114.9 434.7h0M87.5 420.8h0M122.0 439.0h0M113.1 426.3h0M118.5 431.4h0M98.5 446.8h0M104.8 434.4h0M102.9 433.8h0M92.6 434.3h0M91.8 419.6h0M89.7 447.1h0M109.7 433.2h0M119.0 439.3h0M102.0 441.9h0M86.1 443.1h0M113.8 435.8h0M97.4 440.8h0M86.8 437.4h0M135.7 432.9h0M102.9 442.0h0M127.3 428.8h0M95.2 436.6h0M84.8 442.5h0M123.5 438.4h0M115.2 447.6h0M110.4 429.9h0M68.6 442.8h0M128.4 436.0h0M122.1 424.1h0M98.3 443.6h0M112.4 438.9h0M87.9 445.5h0M108.0 429.9h0M128.4 424.6h0M102.9 435.8h0M94.0 433.0h0M85.3 425.8h0M107.3 434.2h0M104.6 428.0h0M84.3 456.2h0M89.5 448.7h0M107.8 447.5h0M116.9 444.8h0M99.4 444.4h0M77.8 419.5h0M102.0 435.2h0M116.3 439.4h0M83.3 444.8h0M116.9 430.6h0M90.1 436.5h0M116.3 439.1h0M77.0 451.1h0M127.2 427.7h0M112.6 444.3h0M98.2 433.3h0M79.3 430.9h0M88.5 440.5h0M81.1 427.0h0M111.3 434.9h0M90.6 433.7h0M114.9 410.7h0M86.0 443.1h0M88.6 431.8h0M107.6 437.2h0M83.4 443.0h0M129.6 435.5h0M84.8 439.6h0M75.8 420.9h0M78.0 430.4h0M119.5 430.6h0M92.0 445.0h0M90.3 435.0h0M101.8 420.6h0M115.0 448.4h0M103.5 445.2h0M113.1 436.7h0M95.1 436.8h0M92.2 433.7h0M113.4 424.4h0M100.1 431.0h0M85.7 451.2h0M115.8 420.0h0M108.7 454.6h0M102.6 433.1h0M83.4 429.4h0M98.2 437.0h0M125.2 440.2h0M107.4 422.4h0M71.5 445.9h0M99.8 438.9h0M85.1 444.3h0M100.3 436.0h0M118.2 431.6h0M93.0 444.0h0M131.8 444.7h0M109.4 432.8h0M121.3 429.9h0M89.6 436.6h0M104.5 422.7h0M82.9 425.1h0M97.5 433.5h0M130.2 433.3h0M128.0 435.0h0M108.1 431.4h0M58.1 421.9h0M125.1 450.3h0M82.4 423.1h0M92.4 424.4h0M76.4 440.4h0M118.1 439.5h0M116.0 446.0h0M102.9 428.2h0M102.1 438.2h0M105.5 446.0h0M99.7 441.9h0M107.3 437.1h0M93.5 434.1h0M86.6 441.6h0M95.6 441.7h0M88.8 451.0h0M95.1 432.7h0M71.5 441.4h0M141.6 435.9h0M123.1 433.8h0M108.0 444.8h0M94.8 439.2h0M86.1 431.6h0M115.7 438.1h0M107.4 430.2h0M109.1 433.9h0M100.3 443.9h0M105.0 436.5h0M107.4 423.5h0M94.7 414.5h0M101.3 435.9h0M99.9 425.3h0M104.1 430.7h0M81.0 447.2h0M116.7 439.0h0M106.0 446.8h0M105.6 452.5h0M122.1 437.5h0M122.2 436.6h0M104.7 443.5h0M96.2 425.0h0M75.2 437.7h0M91.3 423.9h0M126.2 429.2h0M121.0 424.3h0M110.7 433.0h0M85.6 441.0h0M88.6 431.9h0M126.3 437.0h0M121.7 437.0h0M88.1 432.4h0M120.5 433.8h0M94.0 440.3h0M112.5 428.9h0M127.9 428.3h0M112.9 443.5h0M125.9 441.1h0M78.8 440.8h0M78.5 431.9h0M91.7 447.5h0M104.7 429.5h0M126.7 431.4h0M102.1 442.1h0M108.4 430.4h0M83.7 445.3h0M109.8 419.4h0M146.9 445.6h0M75.4 438.6h0M138.1 429.7h0M121.2 439.5h0M89.3 443.3h0M95.7 425.8h0M68.4 439.0h0M109.3 439.6h0M78.6 459.3h0M131.9 440.2h0M71.2 437.3h0M94.8 438.1h0M105.4 435.3h0M100.9 454.3h0M119.8 446.4h0M125.8 430.2h0M94.3 425.8h0M89.0 431.8h0M119.7 433.1h0M78.4 433.4h0M114.9 438.4h0M119.6 442.9h0M101.4 436.6h0M111.8 444.0h0M109.5 431.3h0M98.4 424.9h0M120.0 442.7h0M90.6 441.6h0M103.9 433.4h0M109.1 438.9h0M126.7 444.7h0M75.8 427.7h0M96.2 434.4h0M91.3 438.2h0M128.9 431.5h0M89.5 440.9h0M114.7 433.3h0M90.0 429.5h0M56.9 441.1h0M101.6 434.5h0M70.5 442.3h0M111.2 440.3h0M91.6 422.2h0M129.3 421.3h0M115.6 426.8h0M99.5 427.6h0M100.1 438.0h0M131.3 453.4h0M132.8 453.1h0M141.7 454.0h0M136.8 454.3h0M142.0 454.7h0M141.8 453.7h0M137.7 453.6h0M134.4 452.9h0M140.0 454.5h0M129.4 452.3h0M133.1 453.7h0M141.7 453.6h0M142.9 454.7h0M143.7 455.1h0M136.8 453.2h0M134.5 453.0h0M139.4 454.3h0M144.7 454.3h0M143.4 455.2h0M145.6 454.7h0M135.1 453.9h0M130.5 453.3h0M138.3 453.9h0M142.3 453.0h0M142.2 454.5h0M132.9 454.2h0M145.1 454.9h0M140.7 454.8h0M142.6 453.6h0M139.9 454.6h0M129.5 467.0h0M133.4 470.1h0M125.8 467.1h0M127.7 466.3h0M127.5 467.9h0M131.7 470.4h0M125.0 465.2h0M128.2 465.3h0M128.3 469.3h0M127.1 466.9h0M132.0 469.1h0M133.4 471.1h0M134.2 471.6h0M121.7 463.5h0M132.7 470.6h0M120.8 463.0h0M130.9 470.1h0M132.6 471.0h0M123.4 463.0h0M126.4 467.0h0M123.2 463.4h0M134.0 470.0h0M126.7 465.6h0M132.1 469.8h0M122.2 463.7h0M120.9 461.6h0M133.7 472.3h0M127.1 466.3h0M120.6 462.7h0M129.5 467.7h0M119.0 467.9h0M117.3 466.3h0M120.5 472.0h0M122.1 477.1h0M122.3 476.2h0M121.3 472.8h0M121.1 472.0h0M119.9 471.0h0M121.7 473.2h0M120.8 472.9h0M121.5 474.1h0M118.4 465.9h0M121.5 476.2h0M118.7 468.0h0M123.3 475.5h0M119.7 468.8h0M120.4 471.1h0M118.6 467.4h0M120.3 469.3h0M124.2 476.5h0M121.4 472.2h0M124.8 476.5h0M120.9 474.3h0M121.6 472.4h0M122.0 474.3h0M64.7 475.2h0M64.5 474.7h0M66.1 472.5h0M69.2 466.8h0M69.6 468.0h0M70.3 466.8h0M67.0 471.3h0M68.0 468.3h0M64.0 477.5h0M66.7 473.0h0M64.5 473.0h0M66.5 472.3h0M68.1 470.4h0M66.1 471.7h0M64.7 475.8h0M66.4 468.6h0M65.7 474.2h0M70.8 466.7h0M67.5 469.0h0M65.1 476.0h0M69.7 468.0h0M67.3 470.2h0M68.8 467.6h0M65.2 474.1h0M68.5 467.4h0M119.7 433.6h0M136.4 429.8h0M121.3 433.4h0M113.0 435.0h0M139.5 427.6h0M138.6 428.0h0M120.6 432.3h0M137.6 428.8h0M134.3 429.7h0M121.5 434.1h0M127.4 431.5h0M138.8 428.2h0M137.2 429.0h0M129.2 430.5h0M134.5 429.7h0M112.3 434.5h0M138.7 428.4h0M131.7 429.6h0M125.5 431.8h0M128.5 431.1h0M114.9 434.4h0M110.6 435.9h0M134.7 428.1h0M128.3 431.2h0M113.2 435.1h0M126.5 431.3h0M131.8 431.2h0M119.0 432.6h0M136.7 428.6h0M121.6 432.9h0M138.7 428.9h0M137.5 429.1h0M136.8 429.3h0M122.8 432.4h0M119.7 434.1h0M120.9 433.1h0M119.0 434.8h0M125.9 431.9h0M118.0 434.2h0M125.7 431.1h0M131.8 425.0h0M135.2 422.6h0M149.1 418.1h0M141.9 419.4h0M148.0 419.0h0M119.0 428.0h0M130.4 426.3h0M146.1 419.2h0M130.1 426.2h0M124.6 427.1h0M121.0 430.0h0M131.5 424.9h0M130.1 425.8h0M139.5 421.4h0M143.5 419.5h0M129.9 424.3h0M142.5 421.6h0M149.9 417.5h0M120.8 428.0h0M130.7 424.8h0M129.0 426.8h0M128.8 425.3h0M129.9 425.0h0M142.2 420.6h0M135.8 422.7h0M142.2 420.8h0M135.0 423.6h0M125.4 426.8h0M138.9 422.4h0M140.2 421.2h0M124.4 426.9h0M123.7 426.4h0M124.7 426.9h0M146.6 419.3h0M120.7 428.4h0M64.6 429.6h0M58.7 428.8h0M69.6 430.4h0M61.9 429.2h0M65.6 429.8h0M65.0 429.0h0M59.9 427.7h0M63.0 430.1h0M66.9 430.4h0M59.2 428.1h0M69.1 430.1h0M72.2 432.2h0M73.8 431.0h0M71.3 430.9h0M62.0 428.5h0M59.0 428.8h0M61.3 428.3h0M69.1 430.1h0M62.9 428.0h0M66.5 430.1h0M59.6 428.6h0M61.4 429.4h0M75.0 431.4h0M59.7 427.4h0M70.3 430.9h0M65.7 430.3h0M72.3 430.9h0M74.4 431.8h0M73.2 430.6h0M71.4 430.4h0M68.0 372.0h0M61.6 365.4h0M68.0 370.9h0M65.2 369.1h0M63.4 367.4h0M63.0 367.1h0M64.3 367.5h0M69.9 372.8h0M64.5 368.6h0M66.5 370.6h0M63.1 367.4h0M72.6 375.0h0M70.5 374.2h0M64.3 367.5h0M72.8 375.4h0M71.1 374.4h0M71.5 374.2h0M69.1 372.5h0M66.8 370.8h0M72.0 375.1h0M71.0 374.2h0M71.3 374.1h0M67.7 370.4h0M62.0 366.2h0M72.7 374.5h0M64.3 367.7h0M71.8 374.7h0M63.8 366.7h0M63.6 367.3h0M71.7 374.9h0M67.7 370.1h0M67.7 371.7h0M64.8 368.9h0M73.3 375.0h0M64.0 368.2h0M69.8 388.4h0M74.4 393.2h0M64.6 385.0h0M76.4 395.9h0M65.6 386.9h0M74.8 395.0h0M72.1 391.4h0M66.2 385.1h0M67.7 387.9h0M73.5 393.2h0M74.7 394.7h0M65.8 386.9h0M65.1 386.9h0M74.8 394.5h0M64.8 385.6h0M139.2 375.2h0M142.8 379.0h0M142.3 378.7h0M141.8 377.6h0M139.4 375.6h0M139.7 375.7h0M141.9 379.3h0M141.6 377.0h0M141.3 377.5h0M142.5 379.2h0M142.4 378.9h0M142.7 379.0h0M145.4 411.7h0M154.9 410.9h0M132.9 414.7h0M147.2 412.1h0M155.0 410.6h0M151.7 411.4h0M151.0 411.3h0M145.2 412.5h0M137.7 414.0h0M137.7 414.1h0M134.3 414.7h0M134.2 414.4h0M148.1 411.9h0M133.4 415.6h0M133.2 415.2h0M141.5 413.0h0M132.7 414.7h0M149.3 411.3h0M153.6 411.6h0M149.3 411.5h0M101.5 388.4h0M100.6 383.4h0M102.0 390.0h0M101.0 386.3h0M102.4 388.7h0M102.6 389.5h0M102.4 388.8h0M103.6 393.5h0M99.6 383.5h0M103.3 394.2h0M101.8 391.5h0M102.4 391.5h0M101.8 388.3h0M103.0 392.6h0M102.6 390.7h0M101.4 387.4h0M101.8 388.5h0M99.3 384.2h0M102.1 387.4h0M102.7 390.8h0M154.1 416.4h0M158.6 414.9h0M156.0 415.1h0M158.2 415.9h0M156.5 416.5h0M154.2 418.2h0M154.8 417.0h0M157.3 415.3h0M153.0 418.4h0M156.3 414.9h0M159.9 414.5h0M156.1 416.1h0M154.5 417.2h0M156.7 415.8h0M159.3 414.0h0M155.8 416.3h0M158.5 414.6h0M157.0 415.0h0M153.7 418.1h0M155.9 414.6h0M155.7 417.5h0M155.7 416.7h0M156.4 415.7h0M156.1 416.1h0M157.9 415.4h0M149.1 466.3h0M65.3 442.9h0M125.1 458.5h0M180.9 377.3h0M227.3 451.5h0M216.8 461.0h0M238.3 386.2h0M231.8 376.1h0M114.8 456.2h0M145.1 396.8h0" stroke="#7e6cc6" stroke-width="1.0" stroke-linecap="round"/>
<path d="M98.3 428.3h0M58.4 435.4h0M94.5 441.4h0M73.8 444.6h0M88.2 439.1h0M107.0 448.2h0M89.2 430.1h0M81.4 433.5h0M97.3 426.1h0M91.5 432.1h0M93.0 442.0h0M73.1 438.8h0M111.1 427.7h0M99.6 423.0h0M72.3 430.6h0M107.6 431.3h0M92.0 437.2h0M112.3 433.9h0M104.9 427.9h0M78.4 444.9h0M113.5 427.1h0M84.4 430.1h0M91.1 442.7h0M65.8 427.3h0M110.5 415.1h0M96.8 430.2h0M83.7 430.3h0M96.7 440.5h0M67.6 443.6h0M97.8 436.8h0M110.0 440.5h0M97.1 446.6h0M81.0 439.1h0M120.0 421.6h0M63.9 440.1h0M95.9 426.5h0M95.5 422.8h0M123.8 438.5h0M101.6 431.6h0M101.6 434.7h0M104.7 412.3h0M94.9 432.5h0M107.0 427.0h0M88.9 437.8h0M107.2 429.8h0M85.8 430.2h0M89.7 437.8h0M89.6 421.3h0M86.0 426.7h0M119.9 431.7h0M101.7 421.6h0M117.4 434.9h0M106.9 429.3h0M105.0 439.2h0M93.1 436.1h0M108.9 442.3h0M82.5 426.3h0M103.6 432.4h0M83.7 425.1h0M125.0 427.1h0M111.5 433.1h0M123.1 431.0h0M95.7 444.6h0M80.4 423.5h0M93.2 428.2h0M95.2 436.2h0M95.7 440.6h0M103.3 434.1h0M95.1 435.4h0M92.4 418.5h0M93.8 432.3h0M85.8 432.1h0M93.0 438.4h0M85.7 421.6h0M109.0 427.6h0M99.4 434.5h0M69.4 413.7h0M102.5 428.5h0M107.6 415.6h0M89.7 431.7h0M96.2 426.2h0M101.9 434.3h0M96.4 437.5h0M99.2 431.5h0M92.8 426.3h0M97.7 421.6h0M60.1 437.3h0M85.3 430.9h0M73.6 428.6h0M84.1 430.2h0M81.4 433.1h0M103.3 440.7h0M92.2 427.2h0M69.6 427.4h0M120.2 422.3h0M94.5 424.9h0M83.4 426.7h0M102.3 439.7h0M108.2 439.1h0M92.5 423.5h0M94.3 437.8h0M101.9 429.4h0M89.6 425.1h0M96.3 430.7h0M79.9 420.2h0M114.1 424.5h0M87.7 437.7h0M81.3 432.7h0M84.1 436.4h0M82.6 414.0h0M92.9 447.3h0M95.6 420.5h0M80.2 428.3h0M83.2 422.1h0M98.7 435.9h0M88.5 424.2h0M121.8 433.6h0M107.1 412.4h0M148.1 425.1h0M96.5 424.8h0M119.6 432.7h0M78.7 427.4h0M81.5 420.2h0M113.8 420.2h0M81.9 429.2h0M107.5 423.6h0M97.4 432.9h0M98.5 424.1h0M104.7 428.4h0M103.8 441.7h0M85.0 429.8h0M106.4 446.5h0M91.9 428.1h0M84.2 426.7h0M94.0 449.1h0M77.5 435.5h0M86.6 421.3h0M107.4 415.4h0M104.6 431.3h0M65.2 428.2h0M90.0 428.1h0M95.1 429.6h0M89.5 439.0h0M81.4 431.3h0M75.7 432.0h0M93.0 429.1h0M76.6 427.1h0M87.9 427.2h0M108.3 433.4h0M93.8 433.2h0M112.3 445.5h0M59.5 430.6h0M100.2 434.7h0M71.0 419.3h0M99.9 424.6h0M78.0 435.8h0M85.5 442.1h0M88.6 423.3h0M93.3 433.3h0M103.3 425.2h0M112.3 432.4h0M94.2 425.4h0M94.0 424.8h0M111.9 420.7h0M115.9 439.1h0M94.1 427.9h0M108.7 427.0h0M93.9 441.2h0M99.4 415.7h0M72.2 426.8h0M100.3 434.6h0M80.6 436.5h0M93.8 428.6h0M105.9 432.8h0M100.4 432.2h0M88.2 434.6h0M139.9 435.7h0M113.9 433.6h0M129.3 431.3h0M81.4 434.7h0M115.7 434.6h0M117.7 419.1h0M107.1 430.4h0M86.3 428.8h0M88.8 437.3h0M127.9 443.9h0M106.6 428.0h0M98.8 438.6h0M114.0 433.3h0M107.8 431.3h0M125.1 434.7h0M95.3 431.9h0M88.7 429.6h0M70.9 428.8h0M103.4 441.0h0M97.2 425.1h0M111.6 418.9h0M88.4 430.5h0M110.7 421.0h0M111.2 428.4h0M76.3 421.8h0M97.2 435.6h0M76.3 427.2h0M98.9 422.2h0M98.8 422.5h0M95.6 422.1h0M100.0 427.1h0M85.5 435.0h0M118.0 422.5h0M104.1 441.2h0M70.3 437.6h0M100.3 420.1h0M148.4 436.0h0M84.9 424.0h0M93.3 422.7h0M91.4 434.2h0M100.1 442.4h0M117.1 417.7h0M95.2 434.6h0M84.8 416.8h0M108.2 430.1h0M95.6 414.2h0M114.5 430.7h0M98.1 429.2h0M65.8 428.0h0M103.8 441.5h0M113.2 427.3h0M96.6 421.3h0M115.2 434.8h0M104.9 431.3h0M108.2 427.4h0M122.6 429.6h0M91.1 431.8h0M91.1 428.9h0M87.9 426.7h0M86.4 436.7h0M101.6 426.6h0M84.1 426.3h0M106.1 419.0h0M77.3 425.7h0M101.2 420.9h0M97.6 428.6h0M75.7 425.6h0M84.7 407.4h0M114.2 431.1h0M80.3 433.7h0M110.6 431.0h0M104.1 432.3h0M88.4 431.3h0M112.8 432.2h0M102.9 423.4h0M80.8 437.7h0M102.5 431.2h0M121.4 424.0h0M111.0 433.2h0M93.9 430.4h0M93.3 429.4h0M100.3 420.6h0M110.5 424.9h0M90.7 426.5h0M105.5 423.9h0M115.4 426.4h0M101.7 409.8h0M104.8 420.5h0M106.6 426.8h0M119.5 429.6h0M98.6 435.7h0M109.7 419.6h0M101.1 425.5h0M131.2 428.2h0M81.2 430.4h0M80.6 429.2h0M93.0 417.7h0M95.5 428.4h0M108.6 406.6h0M119.5 429.7h0M82.0 431.5h0M126.2 427.2h0M87.1 438.4h0M97.7 436.2h0M119.9 428.8h0M93.7 412.8h0M106.0 426.5h0M97.2 432.6h0M100.9 424.0h0M120.9 416.7h0M79.3 437.3h0M106.4 434.6h0M99.7 422.9h0M106.8 434.3h0M83.7 433.3h0M83.6 438.7h0M121.5 436.5h0M126.1 436.0h0M101.3 423.9h0M85.0 436.6h0M101.0 444.6h0M92.9 425.6h0M95.6 434.5h0M104.0 436.1h0M74.3 432.7h0M102.8 435.2h0M76.0 422.3h0M116.2 431.0h0M109.6 431.6h0M82.2 431.3h0M104.8 426.4h0M76.0 430.2h0M92.4 430.7h0M105.5 427.2h0M92.0 429.2h0M113.8 436.9h0M103.4 445.9h0M85.1 430.4h0M117.3 417.9h0M105.3 430.1h0M75.2 435.3h0M106.8 432.2h0M97.1 434.4h0M57.3 428.7h0M52.8 420.3h0M64.1 424.7h0M50.6 419.9h0M54.3 420.9h0M58.7 422.1h0M71.3 427.6h0M72.7 428.2h0M61.9 423.5h0M72.2 427.7h0M66.8 425.9h0M71.6 428.8h0M70.7 427.3h0M64.6 425.3h0M55.9 422.9h0M66.8 425.7h0M68.3 425.6h0M54.6 420.4h0M69.8 428.0h0M56.9 422.0h0M71.7 427.8h0M60.1 422.6h0M66.1 425.6h0M69.4 426.4h0M64.3 425.0h0M69.2 426.7h0M36.3 438.7h0M48.7 438.6h0M45.4 438.4h0M53.6 439.1h0M43.1 439.0h0M42.3 439.0h0M42.1 438.5h0M45.9 438.4h0M34.6 438.0h0M37.6 437.7h0M51.4 439.1h0M51.8 438.8h0M36.0 438.0h0M39.7 438.8h0M37.4 438.4h0M72.1 374.6h0M63.2 366.8h0M64.9 368.8h0M68.0 370.3h0M73.1 375.6h0M66.8 370.4h0M67.1 370.5h0M64.4 368.3h0M64.2 368.4h0M72.8 375.8h0M71.6 375.2h0M70.2 372.7h0M73.5 376.1h0M68.6 372.1h0M66.8 369.8h0M71.9 374.8h0M71.5 373.6h0M69.4 372.9h0M110.0 372.5h0M110.3 372.4h0M109.1 372.3h0M109.3 372.5h0M112.9 374.2h0M105.6 372.5h0M110.0 371.6h0M111.0 372.8h0M114.7 375.5h0M114.0 375.0h0M107.2 373.0h0M109.4 372.4h0M141.1 377.5h0M142.8 379.3h0M142.0 378.3h0M142.4 379.4h0M142.2 379.1h0M141.9 379.4h0M142.5 379.6h0M140.4 375.9h0M140.1 375.8h0M141.1 377.6h0M167.1 384.9h0M167.3 384.4h0M163.0 385.3h0M167.0 384.1h0M167.3 384.4h0M163.8 385.0h0M164.6 384.7h0M166.2 384.5h0M164.0 384.6h0M166.6 384.5h0M167.2 383.7h0M169.5 383.9h0M172.5 373.4h0M173.5 376.6h0M172.9 370.0h0M178.1 373.6h0M172.3 374.9h0M174.6 368.0h0M174.3 376.1h0M174.3 372.6h0M175.4 374.2h0M175.2 371.6h0M178.7 371.0h0M176.7 374.6h0M171.7 372.9h0M178.0 373.7h0M177.8 378.6h0M174.8 376.3h0M173.6 376.9h0M177.0 374.7h0M178.1 376.5h0M179.1 371.6h0M173.9 371.0h0M174.8 374.5h0M172.6 368.3h0M176.7 379.1h0M178.8 376.2h0M173.0 373.7h0M173.4 374.3h0M173.2 372.0h0M178.2 376.0h0M174.0 378.3h0M170.2 388.3h0M171.1 388.6h0M168.8 387.8h0M166.8 384.9h0M169.4 387.1h0M169.7 385.4h0M171.8 388.6h0M169.9 386.9h0M172.9 390.0h0M171.5 390.8h0M166.8 387.3h0M165.6 387.0h0M171.0 390.9h0M171.5 388.4h0M164.7 385.3h0M166.6 385.4h0M166.9 385.8h0M170.9 390.4h0M164.3 384.3h0M172.2 390.6h0M167.7 387.3h0M166.7 386.1h0M164.0 386.2h0M163.8 385.8h0M171.8 389.5h0M171.5 389.7h0M165.2 384.2h0M167.2 387.0h0M172.3 388.5h0M169.3 387.5h0M171.0 389.3h0M166.1 384.6h0M169.0 385.6h0M164.7 384.6h0M169.9 388.8h0M186.7 385.2h0M196.7 388.7h0M195.8 387.5h0M194.0 388.4h0M188.3 386.9h0M199.2 389.9h0M189.5 384.6h0M197.5 390.9h0M189.7 386.4h0M194.8 388.7h0M187.2 385.1h0M190.8 387.5h0M193.4 388.9h0M190.1 382.9h0M191.3 385.4h0M195.2 388.1h0M191.3 386.8h0M189.8 385.6h0M187.5 383.6h0M192.1 387.1h0M193.1 387.1h0M186.3 383.4h0M189.6 386.4h0M191.6 387.2h0M191.6 387.4h0M185.6 384.8h0M192.9 387.6h0M195.5 387.0h0M194.6 388.3h0M195.0 389.1h0M191.5 386.3h0M196.8 388.9h0M186.4 384.2h0M189.9 386.0h0M187.3 385.0h0M190.3 384.9h0M194.4 388.5h0M188.2 383.2h0M190.8 385.3h0M198.5 390.3h0M197.3 389.7h0M189.8 385.7h0M186.8 383.9h0M190.3 386.9h0M192.5 388.7h0M216.6 410.2h0M243.9 389.8h0M242.5 389.3h0M222.5 409.2h0M236.4 404.4h0M222.1 410.7h0M244.0 393.2h0M240.3 379.5h0M241.0 399.3h0M244.4 397.7h0M240.9 398.8h0M241.7 399.1h0M243.6 397.7h0M230.0 403.6h0M218.9 409.5h0M236.0 402.6h0M244.9 391.1h0M240.7 381.3h0M244.2 385.9h0M240.9 384.6h0M237.3 404.0h0M216.6 412.1h0M241.9 382.1h0M243.5 390.3h0M216.5 411.0h0M241.0 399.7h0M221.2 407.7h0M238.8 382.3h0M226.2 405.9h0M227.1 406.8h0M234.5 404.3h0M245.2 387.2h0M227.0 407.2h0M236.2 404.2h0M240.5 399.2h0M240.8 400.8h0M219.0 409.6h0M235.7 402.9h0M241.4 382.6h0M219.1 409.7h0M240.5 400.6h0M226.9 407.4h0M244.0 394.0h0M240.8 399.3h0M238.7 380.4h0M203.9 445.8h0M203.1 440.9h0M203.5 441.7h0M203.9 440.7h0M202.8 442.4h0M204.5 442.2h0M201.2 438.5h0M203.3 442.2h0M204.6 443.9h0M202.9 442.6h0M200.7 440.5h0M203.9 441.8h0M205.2 441.4h0M196.7 439.7h0M202.1 443.7h0M201.8 439.0h0M203.2 439.0h0M208.6 438.5h0M200.3 440.6h0M205.2 442.3h0M201.8 440.4h0M206.0 442.4h0M204.5 441.2h0M204.9 435.5h0M201.6 437.6h0M203.0 440.9h0M204.9 443.9h0M201.5 438.4h0M202.8 439.9h0M202.3 445.4h0M202.5 439.9h0M205.6 445.6h0M209.7 442.4h0M199.8 441.0h0M203.5 439.7h0M241.0 439.6h0M241.5 440.0h0" stroke="#a4524c" stroke-width="1.0" stroke-linecap="round"/>
<path d="M90.5 451.5h0M131.2 436.7h0M96.4 459.2h0M98.7 454.5h0M92.6 450.3h0M87.6 447.4h0M97.8 459.1h0M120.3 458.9h0M82.5 446.9h0M97.8 457.9h0M97.2 458.7h0M88.8 458.1h0M114.4 451.5h0M95.7 457.9h0M117.6 457.0h0M131.9 456.1h0M102.9 466.0h0M94.2 461.0h0M86.4 445.3h0M112.6 448.2h0M95.1 460.5h0M133.1 454.4h0M103.6 448.4h0M106.0 450.1h0M98.1 447.5h0M101.3 456.1h0M133.9 458.1h0M128.7 463.0h0M90.2 449.5h0M67.0 464.4h0M83.5 451.3h0M110.1 442.8h0M110.4 451.1h0M84.5 441.8h0M113.1 456.7h0M78.9 458.7h0M108.6 452.4h0M117.3 446.0h0M96.6 468.9h0M96.2 462.1h0M120.3 450.8h0M98.2 451.9h0M119.3 443.4h0M116.6 454.8h0M86.8 460.1h0M99.2 443.1h0M72.5 459.8h0M91.2 458.3h0M100.4 436.8h0M91.8 457.3h0M99.9 448.2h0M130.7 450.8h0M106.1 464.4h0M124.6 441.5h0M90.9 449.0h0M101.3 456.5h0M103.8 459.6h0M111.2 465.4h0M118.4 463.4h0M86.5 464.6h0M98.8 463.0h0M78.5 441.0h0M115.8 448.3h0M80.6 448.0h0M102.1 456.4h0M110.1 445.1h0M83.0 453.9h0M116.1 445.3h0M83.7 447.7h0M105.1 457.8h0M90.7 450.1h0M82.2 455.7h0M118.9 457.6h0M98.5 445.6h0M92.7 453.8h0M106.2 449.0h0M89.0 447.8h0M86.9 460.2h0M92.1 447.1h0M82.4 447.2h0M109.0 444.2h0M110.5 443.3h0M92.2 462.0h0M93.9 448.1h0M87.9 452.9h0M99.9 446.3h0M112.4 463.8h0M111.0 430.8h0M94.3 443.7h0M102.4 457.8h0M55.1 455.8h0M125.8 463.1h0M94.2 448.6h0M113.6 454.1h0M105.3 452.8h0M103.1 447.5h0M109.7 463.3h0M100.1 449.7h0M89.1 450.9h0M114.0 460.2h0M92.4 452.5h0M105.4 457.2h0M78.6 449.1h0M107.9 450.6h0M98.7 452.3h0M110.0 453.5h0M69.1 450.7h0M93.5 456.4h0M104.1 441.4h0M95.2 449.3h0M110.6 459.8h0M92.9 451.0h0M122.1 470.3h0M109.9 439.6h0M71.6 443.6h0M95.9 444.3h0M107.1 460.9h0M121.5 464.7h0M100.0 460.9h0M119.1 455.0h0M93.4 460.4h0M105.2 448.8h0M118.5 457.0h0M92.2 470.1h0M135.2 442.3h0M55.1 446.6h0M105.9 463.3h0M105.9 461.5h0M95.4 453.0h0M86.8 457.9h0M96.3 451.3h0M121.4 449.7h0M83.2 450.9h0M118.9 446.2h0M70.4 452.9h0M81.5 462.8h0M96.7 450.8h0M87.1 456.7h0M110.2 460.3h0M82.2 453.2h0M113.0 456.7h0M85.3 456.1h0M116.2 468.1h0M75.4 458.9h0M66.7 449.6h0M107.8 453.2h0M98.8 458.8h0M93.3 461.0h0M114.5 464.0h0M121.1 445.8h0M107.4 459.8h0M87.3 462.4h0M91.4 451.1h0M104.7 442.8h0M107.7 472.1h0M121.3 454.6h0M123.7 455.9h0M93.3 455.3h0M133.8 456.3h0M96.6 444.1h0M83.7 446.6h0M125.0 447.8h0M87.8 461.7h0M131.2 460.5h0M97.4 451.2h0M77.3 453.0h0M88.8 455.5h0M128.5 457.0h0M101.5 456.9h0M95.0 447.5h0M119.7 465.3h0M124.5 450.2h0M73.4 452.8h0M117.9 457.3h0M96.4 446.1h0M111.2 449.4h0M77.1 451.7h0M90.3 442.1h0M85.6 454.1h0M93.4 452.4h0M80.2 454.9h0M111.9 452.2h0M105.0 458.5h0M111.5 458.1h0M111.4 450.4h0M87.0 459.5h0M112.2 454.1h0M111.3 459.0h0M94.0 444.6h0M109.5 450.2h0M90.9 457.4h0M113.6 456.0h0M119.3 453.4h0M86.7 448.8h0M91.0 458.7h0M124.0 454.4h0M90.5 468.6h0M107.9 445.5h0M87.7 449.7h0M94.1 461.2h0M100.2 461.9h0M82.3 456.9h0M97.1 457.7h0M64.5 470.2h0M94.4 447.1h0M58.8 451.5h0M119.4 469.7h0M92.0 447.6h0M100.2 449.1h0M100.8 439.8h0M106.1 463.0h0M118.2 443.8h0M105.1 458.6h0M80.5 455.8h0M87.2 452.3h0M94.2 455.9h0M79.7 449.8h0M106.3 459.6h0M100.3 434.7h0M118.0 462.8h0M81.7 453.7h0M127.5 464.4h0M98.7 448.8h0M112.8 451.1h0M80.7 451.5h0M109.4 445.4h0M104.3 451.0h0M91.3 447.7h0M102.2 449.0h0M118.1 454.1h0M100.5 448.8h0M110.7 450.2h0M77.6 450.9h0M99.1 459.6h0M91.9 448.0h0M107.4 441.9h0M68.0 455.9h0M110.1 462.5h0M131.1 454.1h0M105.3 459.5h0M108.7 453.9h0M91.7 445.8h0M68.5 448.6h0M124.4 443.3h0M95.6 455.2h0M92.1 471.0h0M114.0 450.6h0M140.1 450.6h0M105.2 456.2h0M89.3 460.7h0M111.8 453.4h0M87.8 445.0h0M61.7 432.7h0M96.7 449.2h0M61.5 463.2h0M99.1 445.4h0M94.0 454.9h0M70.0 457.9h0M97.9 459.4h0M119.3 455.4h0M99.6 447.1h0M137.0 455.9h0M97.5 455.1h0M91.2 456.8h0M95.1 437.4h0M86.6 472.6h0M110.1 454.8h0M115.3 453.7h0M106.0 449.0h0M84.6 439.9h0M109.2 459.1h0M110.0 447.2h0M89.6 445.4h0M110.8 450.5h0M96.1 438.9h0M110.0 443.3h0M86.1 453.8h0M101.6 455.8h0M87.7 449.7h0M97.8 453.6h0M65.9 469.4h0M102.0 444.3h0M82.8 458.2h0M131.3 458.4h0M126.0 445.2h0M101.1 444.6h0M131.7 457.9h0M113.2 450.0h0M96.4 458.6h0M121.0 452.4h0M106.1 469.6h0M112.9 461.3h0M74.0 454.5h0M83.9 453.6h0M114.8 452.2h0M103.5 450.4h0M64.0 446.5h0M101.2 449.9h0M71.7 447.6h0M123.2 458.1h0M90.8 449.1h0M104.3 468.7h0M77.2 462.6h0M89.7 454.8h0M86.7 448.4h0M93.6 461.5h0M80.8 445.9h0M97.2 453.4h0M95.2 454.6h0M98.1 460.3h0M132.0 441.1h0M116.1 449.9h0M141.9 460.4h0M115.3 456.9h0M110.1 447.4h0M119.0 458.5h0M116.0 444.3h0M124.3 444.5h0M94.5 449.3h0M91.6 455.7h0M126.7 463.3h0M104.3 473.0h0M73.7 452.1h0M72.3 449.5h0M115.0 447.6h0M107.8 451.0h0M82.2 450.6h0M99.4 455.8h0M95.3 463.0h0M92.2 443.5h0M141.0 455.8h0M96.4 452.3h0M82.0 437.1h0M100.5 451.8h0M91.6 459.6h0M81.9 454.7h0M93.4 463.5h0M97.6 465.9h0M141.5 449.7h0M100.2 456.2h0M94.8 454.0h0M88.4 458.0h0M100.2 456.1h0M76.3 465.9h0M119.9 449.4h0M63.2 445.1h0M88.5 441.2h0M82.2 467.7h0M119.2 453.5h0M71.6 438.9h0M83.8 450.9h0M85.4 448.1h0M104.3 464.4h0M99.6 442.2h0M84.2 454.8h0M89.8 456.8h0M104.8 454.1h0M92.5 460.1h0M97.8 441.8h0M80.7 460.2h0M93.6 446.4h0M85.9 445.0h0M90.7 462.0h0M97.9 449.1h0M128.4 450.0h0M88.7 454.8h0M97.6 448.1h0M101.7 458.3h0M76.3 444.1h0M99.4 446.1h0M121.2 452.2h0M94.6 459.0h0M101.8 454.2h0M92.1 454.7h0M106.2 460.3h0M102.6 459.6h0M98.1 458.4h0M95.4 449.0h0M88.8 460.4h0M103.5 443.5h0M106.5 452.4h0M88.9 463.4h0M96.5 438.2h0M91.4 453.7h0M93.9 452.1h0M118.8 453.6h0M135.7 444.8h0M97.0 449.9h0M120.1 457.1h0M89.1 445.7h0M98.7 437.5h0M113.6 451.7h0M73.2 449.1h0M108.1 440.4h0M127.3 459.1h0M121.3 460.5h0M113.5 466.1h0M135.7 454.3h0M94.9 458.4h0M79.0 440.3h0M93.7 453.2h0M104.7 458.6h0M94.6 449.6h0M92.2 453.6h0M90.3 458.4h0M96.2 454.2h0M99.3 456.6h0M87.8 460.7h0M100.4 463.5h0M83.1 462.2h0M97.0 462.9h0M127.6 453.6h0M109.1 460.9h0M76.4 453.9h0M111.8 460.6h0M101.1 448.4h0M87.2 455.0h0M100.6 456.2h0M91.2 456.9h0M113.7 452.6h0M110.1 464.9h0M87.9 453.0h0M113.9 453.8h0M122.2 453.2h0M132.9 449.3h0M101.1 468.4h0M78.3 467.5h0M81.5 436.6h0M86.9 468.1h0M105.1 448.6h0M80.9 457.0h0M104.5 470.7h0M97.8 449.9h0M103.3 461.6h0M85.8 453.5h0M99.4 453.8h0M97.6 462.4h0M100.0 466.4h0M104.6 451.4h0M103.8 454.4h0M98.2 443.0h0M72.1 442.4h0M93.8 462.1h0M119.6 438.3h0M80.7 460.4h0M108.0 454.4h0M124.0 468.5h0M106.7 447.5h0M101.5 457.1h0M98.1 454.2h0M127.7 456.2h0M91.0 454.0h0M112.1 445.9h0M110.1 461.0h0M61.0 456.9h0M85.6 459.9h0M111.5 450.5h0M82.5 469.8h0M83.1 444.0h0M101.9 465.3h0M97.5 445.3h0M121.6 452.4h0M117.3 451.6h0M87.2 456.1h0M76.3 459.7h0M120.1 462.5h0M106.0 441.0h0M101.2 461.6h0M74.3 458.5h0M90.2 441.6h0M107.4 457.5h0M103.8 444.5h0M95.0 466.4h0M118.2 461.4h0M64.0 460.5h0M97.2 453.0h0M95.7 447.8h0M120.7 455.0h0M90.8 461.2h0M86.0 455.4h0M88.0 448.4h0M108.9 455.0h0M86.3 457.9h0M91.4 465.2h0M93.2 428.8h0M87.9 463.1h0M93.4 450.3h0M89.6 455.7h0M96.4 449.9h0M102.5 446.1h0M101.4 455.4h0M114.4 450.3h0M116.4 455.4h0M111.7 452.2h0M109.6 454.6h0M71.1 456.7h0M78.7 446.4h0M87.6 451.3h0M107.8 446.3h0M96.5 435.6h0M133.7 455.7h0M105.4 441.6h0M102.4 449.7h0M78.7 453.1h0M113.8 453.4h0M109.0 446.4h0M119.4 453.7h0M110.3 449.4h0M91.5 454.2h0M104.0 449.6h0M102.9 460.3h0M125.3 467.1h0M105.4 459.5h0M93.5 460.6h0M108.4 463.9h0M88.6 451.8h0M124.6 450.1h0M106.6 443.9h0M93.6 462.6h0M122.3 450.5h0M83.6 456.9h0M77.0 454.4h0M127.0 467.8h0M92.5 449.5h0M103.0 444.7h0M101.2 454.4h0M71.0 449.5h0M96.0 442.2h0M106.0 453.2h0M87.2 455.1h0M114.8 449.5h0M109.3 452.6h0M82.6 445.1h0M100.5 445.6h0M80.4 449.9h0M108.0 450.4h0M68.4 463.5h0M84.2 448.4h0M109.7 455.7h0M112.1 448.4h0M95.5 455.6h0M67.8 453.0h0M136.4 455.4h0M115.3 451.6h0M102.8 439.2h0M111.3 450.0h0M125.0 450.8h0M83.4 437.6h0M84.3 447.7h0M147.7 462.2h0M99.9 442.4h0M87.8 452.9h0M108.2 472.2h0M102.8 461.9h0M90.6 432.7h0M76.5 463.5h0M65.1 466.8h0M105.8 465.1h0M97.2 447.4h0M69.8 461.3h0M99.0 457.3h0M96.3 451.1h0M110.3 449.8h0M132.4 456.0h0M125.0 453.8h0M95.2 463.2h0M90.0 455.7h0M85.8 460.1h0M88.6 448.0h0M74.4 445.4h0M90.4 441.7h0M93.4 458.8h0M120.2 455.9h0M87.1 468.0h0M127.8 449.0h0M95.8 453.4h0M102.5 453.8h0M88.4 462.3h0M112.6 459.4h0M135.4 447.7h0M96.9 454.6h0M83.6 469.6h0M85.4 461.9h0M85.4 450.2h0M93.3 453.3h0M106.2 468.9h0M105.5 446.3h0M86.1 458.5h0M94.4 458.4h0M95.8 460.9h0M62.3 448.7h0M94.6 440.1h0M89.1 447.5h0M143.4 455.5h0M109.8 456.4h0M91.1 444.6h0M101.9 447.2h0M87.2 451.8h0M79.2 451.6h0M107.8 449.4h0M108.6 448.5h0M92.0 459.9h0M85.7 461.7h0M118.0 437.5h0M111.7 461.5h0M74.4 442.0h0M89.3 442.6h0M145.2 453.7h0M91.3 453.4h0M94.6 448.0h0M117.4 450.5h0M97.9 457.6h0M86.6 464.7h0M101.2 449.5h0M93.7 452.7h0M106.2 461.6h0M61.8 451.3h0M108.5 468.9h0M65.2 458.1h0M92.8 439.2h0M98.8 452.2h0M66.6 450.5h0M98.7 455.3h0M91.3 454.4h0M113.9 449.1h0M100.5 455.5h0M90.1 453.8h0M132.6 456.2h0M87.2 444.7h0M117.2 451.2h0M124.1 454.4h0M99.5 453.4h0M72.3 439.6h0M87.1 450.7h0M84.1 457.0h0M115.0 455.9h0M96.5 433.4h0M74.4 442.0h0M117.6 446.9h0M115.6 461.8h0M89.9 445.4h0M90.9 444.2h0M74.2 455.1h0M108.8 454.5h0M74.2 467.5h0M106.9 466.9h0M118.0 456.7h0M105.4 456.1h0M111.7 466.2h0M113.9 443.3h0M125.4 442.7h0M117.3 455.3h0M141.0 447.8h0M86.0 453.6h0M130.1 458.9h0M70.1 456.6h0M123.9 460.5h0M82.9 455.7h0M95.4 451.8h0M93.4 446.9h0M89.5 441.3h0M78.1 463.9h0M79.6 452.2h0M118.6 464.3h0M121.9 452.2h0M82.6 460.6h0M78.3 441.6h0M96.1 450.0h0M91.2 451.7h0M100.2 460.6h0M98.1 442.4h0M83.4 454.2h0M115.1 446.4h0M89.1 464.0h0M79.4 448.1h0M107.5 440.8h0M101.0 443.3h0M66.5 461.6h0M46.6 443.9h0M97.8 454.2h0M139.4 453.0h0M83.0 453.0h0M101.7 458.4h0M84.2 464.6h0M123.2 454.6h0M85.9 453.5h0M99.7 446.4h0M98.9 452.6h0M105.7 455.9h0M124.7 460.6h0M95.3 468.7h0M116.8 447.7h0M71.8 453.8h0M114.2 440.9h0M149.2 447.4h0M110.5 464.5h0M90.5 452.2h0M117.8 454.3h0M82.0 456.7h0M63.8 463.8h0M104.0 446.6h0M89.9 456.0h0M75.3 454.8h0M110.9 460.1h0M80.6 457.0h0M85.4 438.9h0M88.2 455.0h0M72.5 454.8h0M85.9 454.5h0M97.9 458.3h0M95.3 456.6h0M90.9 446.2h0M97.5 452.8h0M127.5 455.7h0M104.4 452.7h0M76.7 457.7h0M99.7 456.7h0M92.2 453.3h0M87.7 457.4h0M119.4 474.8h0M71.2 452.7h0M91.2 455.7h0M142.9 463.7h0M95.5 443.2h0M81.6 444.3h0M69.2 447.7h0M104.0 445.7h0M107.9 459.1h0M120.6 447.7h0M109.3 445.3h0M96.2 453.3h0M137.4 464.4h0M108.0 456.5h0M120.5 453.6h0M119.6 456.2h0M103.3 447.0h0M104.4 450.5h0M93.4 449.3h0M112.2 460.5h0M112.8 447.8h0M131.2 451.7h0M101.4 459.6h0M93.3 453.0h0M100.5 450.0h0M102.0 456.3h0M126.7 447.2h0M80.2 459.1h0M94.8 445.3h0M71.5 451.1h0M46.6 445.7h0M108.6 457.8h0M82.9 460.1h0M95.1 450.6h0M84.5 451.3h0M121.1 456.5h0M97.3 461.2h0M111.8 458.2h0M109.2 464.9h0M123.2 468.6h0M114.5 453.5h0M85.8 462.6h0M91.0 462.4h0M103.8 458.2h0M107.5 461.2h0M82.7 454.9h0M117.0 446.5h0M115.5 435.9h0M96.9 455.6h0M83.1 452.8h0M80.3 447.8h0M88.4 459.6h0M97.2 449.8h0M102.5 454.8h0M84.3 464.5h0M102.2 450.9h0M98.9 457.9h0M100.8 470.3h0M98.7 458.5h0M131.4 444.0h0M128.9 452.9h0M96.0 461.5h0M100.5 440.0h0M63.8 445.9h0M102.3 458.5h0M99.5 449.2h0M69.1 451.8h0M98.4 459.6h0M71.1 439.8h0M59.1 448.8h0M105.7 453.8h0M86.8 457.1h0M76.3 454.0h0M74.8 452.2h0M86.2 442.3h0M94.4 468.7h0M102.2 457.3h0M102.7 449.9h0M98.3 451.7h0M77.8 441.6h0M92.0 474.5h0M70.9 452.8h0M98.6 455.6h0M52.8 445.2h0M110.3 465.2h0M115.6 460.6h0M89.3 441.7h0M90.1 469.5h0M103.3 455.0h0M88.1 454.3h0M121.5 450.7h0M87.5 451.0h0M120.9 454.0h0M119.1 456.7h0M134.0 453.5h0M83.8 454.2h0M89.2 459.5h0M92.3 458.0h0M83.6 457.9h0M82.6 456.9h0M82.4 467.2h0M114.7 442.6h0M113.4 462.4h0M117.0 459.4h0M124.6 449.2h0M61.2 468.8h0M89.7 455.7h0M103.0 440.4h0M78.3 450.5h0M140.8 457.2h0M133.7 459.2h0M110.3 445.7h0M118.0 442.7h0M96.0 448.4h0M78.7 457.8h0M106.3 459.2h0M97.5 454.7h0M94.8 445.2h0M96.8 454.0h0M101.3 448.2h0M99.5 437.6h0M97.0 454.1h0M81.5 451.1h0M109.5 461.0h0M87.3 458.9h0M115.3 458.0h0M85.6 453.4h0M80.9 460.2h0M124.2 457.0h0M118.1 460.1h0M100.1 446.0h0M118.8 456.4h0M111.3 454.0h0M80.0 456.2h0M71.9 439.6h0M90.0 455.6h0M148.5 460.9h0M116.3 453.2h0M72.5 457.7h0M111.4 448.4h0M76.5 456.3h0M99.8 459.7h0M75.4 455.0h0M128.5 455.9h0M84.6 449.7h0M82.3 466.8h0M109.7 457.2h0M121.9 463.2h0M133.6 443.1h0M88.6 426.3h0M79.6 451.3h0M79.1 460.2h0M111.9 463.0h0M117.5 445.3h0M104.2 459.8h0M85.8 448.2h0M84.6 444.6h0M110.1 448.5h0M91.2 461.5h0M79.9 459.0h0M100.1 453.6h0M106.7 463.8h0M95.6 464.3h0M89.2 460.5h0M96.1 455.8h0M108.1 451.6h0M100.5 458.2h0M98.4 451.0h0M88.3 447.9h0M71.0 450.8h0M85.6 461.3h0M54.9 447.8h0M93.8 457.1h0M96.7 450.3h0M89.9 457.8h0M94.2 441.4h0M132.9 449.2h0M117.0 461.1h0M85.3 470.1h0M117.4 459.6h0M96.0 457.9h0M72.6 467.4h0M77.9 447.8h0M107.2 455.2h0M75.2 462.2h0M110.4 455.7h0M82.9 445.3h0M97.6 463.6h0M118.3 441.0h0M113.8 442.0h0M87.8 449.3h0M88.6 450.5h0M118.2 455.8h0M97.3 467.9h0M108.9 466.5h0M98.4 456.7h0M126.4 452.0h0M67.7 458.3h0M99.2 456.0h0M124.6 453.1h0M103.3 466.7h0M145.1 470.1h0M113.0 458.5h0M90.4 449.7h0M65.4 454.7h0M79.2 449.9h0M114.5 471.9h0M103.4 449.1h0M82.2 464.9h0M87.5 457.2h0M109.5 464.0h0M106.8 447.9h0M91.7 447.7h0M94.4 447.7h0M128.7 458.6h0M98.2 460.2h0M58.1 446.5h0M67.4 458.8h0M131.5 450.3h0M110.9 442.7h0M115.0 443.8h0M109.6 436.6h0M97.9 457.0h0M82.1 455.4h0M94.4 461.1h0M92.6 435.9h0M97.4 455.0h0M103.3 457.5h0M103.3 444.7h0M110.3 447.9h0M74.8 450.0h0M96.0 450.1h0M100.2 455.2h0M81.4 452.8h0M99.6 446.8h0M99.4 459.5h0M70.6 453.0h0M65.0 440.2h0M99.5 453.0h0M117.8 461.2h0M104.8 452.4h0M72.4 449.2h0M115.5 450.7h0M111.7 455.7h0M106.6 456.5h0M93.6 457.9h0M134.5 450.9h0M97.2 449.7h0M111.1 452.4h0M83.6 450.0h0M108.0 461.4h0M88.9 459.7h0M125.4 450.7h0M93.0 444.5h0M97.4 452.4h0M83.5 442.2h0M115.0 463.3h0M136.3 447.0h0M129.2 464.1h0M77.4 459.1h0M86.6 462.9h0M95.2 465.9h0M101.7 451.0h0M106.0 440.1h0M101.0 455.1h0M108.3 449.0h0M110.6 458.2h0M90.2 451.0h0M118.9 450.4h0M101.0 463.3h0M94.3 445.9h0M93.5 458.1h0M81.6 453.0h0M116.0 459.2h0M95.3 446.0h0M98.6 468.1h0M102.9 457.3h0M95.8 451.2h0M108.9 441.9h0M89.7 442.8h0M65.6 452.8h0M88.7 457.8h0M110.9 447.1h0M102.1 453.7h0M105.9 444.6h0M86.8 454.0h0M104.3 456.8h0M90.1 447.3h0M155.9 453.5h0M125.9 453.4h0M110.1 445.7h0M112.4 448.9h0M92.1 449.0h0M115.0 463.7h0M103.6 445.4h0M80.7 460.3h0M102.2 453.9h0M102.5 449.8h0M88.2 457.7h0M96.4 443.0h0M70.5 447.9h0M103.2 446.8h0M101.9 463.2h0M89.8 449.1h0M95.7 443.1h0M101.5 457.2h0M102.8 450.6h0M101.7 467.1h0M96.8 445.0h0M108.8 466.1h0M105.4 458.8h0M104.8 444.5h0M80.3 448.7h0M113.0 451.0h0M88.1 447.9h0M85.0 464.5h0M112.7 455.5h0M78.7 459.2h0M75.0 433.3h0M66.6 454.6h0M84.1 452.9h0M104.3 455.6h0M133.2 441.7h0M90.2 444.0h0M116.0 448.9h0M115.5 445.9h0M119.3 466.3h0M104.9 456.2h0M125.0 460.0h0M134.0 454.4h0M132.8 462.6h0M105.8 444.7h0M54.2 453.5h0M91.0 447.6h0M80.1 445.9h0M86.2 453.7h0M98.0 451.0h0M99.0 455.1h0M94.1 458.5h0M96.0 452.3h0M95.9 446.3h0M119.3 465.9h0M108.8 451.9h0M78.3 458.2h0M98.7 466.6h0M102.6 448.8h0M71.7 453.6h0M81.0 461.5h0M96.3 459.1h0M90.8 457.9h0M86.5 453.0h0M72.5 463.8h0M102.0 449.5h0M99.4 451.4h0M81.2 432.8h0M106.8 450.9h0M74.2 458.3h0M102.8 459.5h0M104.9 460.8h0M76.4 456.1h0M102.7 455.1h0M78.8 457.4h0M117.5 457.2h0M119.9 468.3h0M79.9 454.6h0M121.5 450.9h0M102.6 442.3h0M117.1 471.1h0M89.5 455.3h0M96.6 449.5h0M66.1 446.0h0M90.0 444.4h0M121.8 457.7h0M136.8 456.7h0M118.0 448.7h0M85.0 458.3h0M94.1 440.4h0M71.5 464.6h0M95.6 452.6h0M106.3 449.0h0M101.1 460.7h0M73.8 464.7h0M105.8 447.3h0M90.1 450.1h0M87.7 456.2h0M122.1 451.6h0M84.6 456.2h0M95.6 460.3h0M122.6 450.4h0M113.5 446.3h0M106.8 458.4h0M90.8 442.2h0M102.6 453.6h0M109.5 455.7h0M89.5 451.4h0M64.8 462.0h0M89.0 448.3h0M108.5 454.6h0M90.1 454.8h0M118.0 458.8h0M84.0 453.4h0M124.5 458.4h0M93.4 466.9h0M112.4 446.9h0M90.8 452.4h0M103.1 468.3h0M103.3 438.2h0M116.1 462.0h0M104.8 452.9h0M119.9 436.3h0M71.0 446.1h0M97.4 455.3h0M86.9 452.0h0M86.4 440.8h0M100.9 448.9h0M101.2 452.6h0M109.7 459.0h0M106.4 443.1h0M100.0 449.4h0M138.8 457.7h0M112.0 448.4h0M133.0 456.0h0M97.1 439.1h0M74.4 458.9h0M91.5 451.8h0M72.3 461.7h0M83.5 437.8h0M95.1 454.3h0M95.3 453.7h0M122.5 464.1h0M61.1 461.1h0M99.8 459.5h0M129.5 456.5h0M116.8 456.4h0M90.7 460.8h0M110.6 458.4h0M116.6 464.9h0M129.3 441.5h0M83.5 450.9h0M94.0 452.3h0M101.2 458.4h0M99.1 457.0h0M148.6 449.2h0M98.2 454.6h0M91.5 453.2h0M102.6 458.4h0M88.5 468.7h0M96.3 457.9h0M92.5 445.2h0M121.7 451.5h0M85.4 449.7h0M106.1 452.3h0M86.5 450.8h0M63.7 464.5h0M113.2 446.1h0M66.1 443.5h0M111.6 452.2h0M77.8 453.5h0M108.1 464.1h0M95.9 466.2h0M91.8 466.5h0M103.6 454.3h0M68.5 448.7h0M83.6 439.3h0M125.1 455.8h0M95.3 455.0h0M97.4 458.6h0M102.9 448.2h0M94.3 446.4h0M116.4 448.7h0M86.5 460.4h0M83.5 458.5h0M127.1 437.4h0M113.3 449.7h0M94.5 461.5h0M105.1 442.0h0M145.9 445.0h0M109.9 460.0h0M86.9 438.5h0M102.6 439.2h0M91.7 444.5h0M104.4 456.3h0M125.6 464.3h0M85.1 452.0h0M104.1 455.0h0M77.5 458.7h0M93.8 455.8h0M89.6 463.3h0M84.9 458.8h0M79.8 454.8h0M115.8 455.9h0M146.0 443.1h0M118.4 451.1h0M112.4 461.7h0M81.4 439.2h0M65.3 460.8h0M87.3 450.6h0M106.9 434.6h0M121.5 466.1h0M113.3 460.9h0M91.9 456.3h0M97.1 449.6h0M102.0 465.8h0M87.4 460.9h0M93.3 453.0h0M96.6 448.5h0M79.9 452.2h0M83.3 449.9h0M99.8 457.6h0M106.2 448.9h0M83.8 458.4h0M89.0 445.7h0M140.7 445.6h0M75.2 442.4h0M104.8 459.1h0M103.5 444.7h0M114.1 443.2h0M75.8 451.3h0M97.7 460.3h0M123.2 457.5h0M111.7 471.0h0M114.2 453.3h0M76.2 455.9h0M98.5 449.5h0M106.3 461.3h0M105.3 449.1h0M81.9 462.5h0M81.1 457.2h0M97.3 452.7h0M95.8 449.8h0M117.8 454.3h0M102.0 463.9h0M119.4 445.6h0M100.5 455.9h0M89.3 448.4h0M107.1 453.8h0M91.5 442.3h0M75.7 454.9h0M69.9 464.0h0M94.6 450.3h0M92.0 464.0h0M118.6 445.0h0M83.6 450.7h0M75.9 458.2h0M80.5 442.2h0M98.9 445.5h0M52.9 457.7h0M101.6 444.3h0M104.8 447.6h0M95.8 453.4h0M91.8 463.7h0M69.1 449.4h0M101.9 453.5h0M78.2 462.1h0M91.7 456.5h0M103.2 458.8h0M83.6 448.7h0M104.9 450.1h0M122.6 445.8h0M85.5 452.9h0M113.6 432.9h0M111.1 453.4h0M101.7 442.1h0M92.7 458.1h0M123.1 455.4h0M125.4 458.4h0M82.1 456.7h0M109.9 452.9h0M104.5 459.2h0M108.1 444.6h0M125.2 447.0h0M87.5 443.8h0M101.4 453.5h0M92.1 443.1h0M93.4 463.1h0M87.7 455.9h0M91.4 458.3h0M91.7 447.8h0M53.2 448.4h0M103.1 460.1h0M94.3 446.7h0M104.6 457.8h0M102.5 449.2h0M127.6 467.2h0M142.9 460.0h0M120.4 452.9h0M93.1 449.3h0M81.4 449.7h0M113.7 456.0h0M89.3 458.2h0M94.7 451.0h0M106.1 444.0h0M86.8 459.0h0M91.8 454.8h0M127.3 470.3h0M91.1 461.4h0M74.1 451.4h0M82.1 455.7h0M81.0 438.4h0M113.2 471.9h0M90.1 449.1h0M87.4 458.1h0M119.9 455.8h0M93.5 462.0h0M76.7 451.2h0M103.7 457.9h0M119.4 446.8h0M87.6 437.5h0M145.7 455.2h0M96.1 459.2h0M114.6 452.8h0M119.1 448.7h0M104.9 451.3h0M105.4 460.2h0M102.7 453.5h0M97.7 460.3h0M102.0 454.5h0M97.6 450.8h0M100.6 446.9h0M84.5 449.6h0M90.0 453.0h0M134.2 462.0h0M65.8 445.7h0M82.1 444.8h0M117.0 452.5h0M97.0 440.3h0M124.1 460.3h0M91.5 459.0h0M114.8 452.1h0M98.0 446.3h0M90.2 460.8h0M125.6 450.6h0M107.5 452.5h0M112.3 454.3h0M68.9 465.8h0M107.9 461.9h0M99.7 457.2h0M85.5 451.9h0M84.3 436.6h0M107.8 450.6h0M82.6 440.4h0M122.6 443.9h0M98.9 454.2h0M96.5 458.4h0M103.2 442.8h0M126.9 458.8h0M122.0 461.6h0M106.5 450.1h0M122.3 446.8h0M81.8 455.8h0M83.2 455.5h0M90.3 446.8h0M98.3 457.6h0M95.1 449.8h0M117.8 461.7h0M113.2 457.7h0M102.0 449.7h0M97.3 453.3h0M103.9 459.4h0M105.3 464.7h0M92.0 455.6h0M124.2 463.3h0M86.3 446.0h0M124.1 455.5h0M84.5 459.2h0M102.6 445.0h0M115.0 454.3h0M87.7 450.2h0M112.2 446.3h0M87.0 465.5h0M113.9 450.0h0M83.6 448.6h0M118.3 441.0h0M100.2 439.9h0M93.0 442.8h0M90.9 448.7h0M111.0 456.4h0M111.8 448.4h0M92.6 458.0h0M110.9 463.8h0M89.5 453.5h0M141.3 452.1h0M103.6 459.8h0M112.8 451.0h0M107.1 457.3h0M118.9 455.6h0M138.7 445.8h0M76.2 451.4h0M101.6 458.2h0M77.5 454.9h0M73.5 454.9h0M80.5 453.0h0M92.3 458.2h0M67.9 456.6h0M97.8 470.0h0M101.4 444.4h0M99.5 454.5h0M137.6 461.4h0M102.1 456.1h0M85.4 448.7h0M86.6 457.7h0M105.9 463.7h0M126.0 456.4h0M100.5 451.9h0M114.6 455.9h0M94.7 451.5h0M109.7 446.1h0M113.7 450.5h0M86.1 445.3h0M107.8 454.7h0M111.9 466.1h0M118.2 448.0h0M93.8 457.5h0M82.7 444.6h0M117.3 452.8h0M100.9 451.7h0M120.4 450.7h0M85.6 453.4h0M86.1 451.6h0M101.9 453.1h0M82.2 460.1h0M87.9 446.5h0M93.1 469.8h0M122.4 461.4h0M111.0 453.7h0M93.3 454.5h0M138.9 469.4h0M118.2 465.4h0M104.3 449.1h0M84.4 446.3h0M84.3 449.9h0M92.0 448.8h0M107.7 445.4h0M109.9 455.7h0M113.1 455.9h0M112.2 454.0h0M88.5 468.1h0M113.0 450.4h0M114.3 445.7h0M117.8 453.8h0M106.3 462.3h0M102.8 461.8h0M95.2 453.2h0M146.5 440.2h0M105.6 466.8h0M114.1 457.0h0M77.3 428.4h0M89.0 452.7h0M103.5 453.5h0M101.3 458.3h0M113.3 463.0h0M95.5 440.3h0M120.7 452.8h0M96.9 459.8h0M106.2 449.8h0M113.1 453.6h0M89.1 452.4h0M90.4 451.6h0M105.0 449.5h0M148.5 474.4h0M77.4 449.3h0M108.7 460.9h0M97.2 434.8h0M81.0 452.9h0M84.6 445.1h0M95.7 458.1h0M126.7 457.0h0M105.5 453.6h0M103.5 454.8h0M110.5 439.4h0M100.2 468.8h0M85.9 442.6h0M74.5 453.4h0M138.4 465.1h0M107.3 459.1h0M127.9 457.7h0M94.8 457.0h0M93.6 458.7h0M108.4 465.1h0M80.3 444.1h0M113.2 446.4h0M109.2 462.0h0M82.9 459.7h0M114.6 449.6h0M113.0 459.6h0M109.5 454.3h0M78.9 461.8h0M96.6 454.0h0M85.7 454.5h0M96.8 458.1h0M97.0 454.0h0M95.0 460.5h0M106.2 463.5h0M88.0 454.9h0M111.6 460.2h0M110.2 450.0h0M113.6 450.9h0M108.6 456.5h0M94.2 447.5h0M94.1 450.6h0M102.6 454.2h0M102.8 455.1h0M89.6 466.4h0M99.5 457.8h0M109.5 463.4h0M120.2 453.6h0M113.3 456.4h0M103.7 461.9h0M86.2 453.3h0M97.0 463.8h0M81.6 446.9h0M90.4 460.8h0M104.8 465.0h0M93.1 452.6h0M104.8 451.4h0M103.9 454.8h0M86.7 463.4h0M114.7 455.4h0M88.7 463.6h0M80.7 460.0h0M102.3 451.8h0M92.2 461.1h0M92.5 465.0h0M105.1 463.0h0M107.7 458.3h0M124.9 457.9h0M129.1 457.4h0M102.4 451.1h0M98.2 458.6h0M85.1 453.8h0M90.6 456.0h0M90.1 461.1h0M101.8 451.9h0M96.9 454.0h0M104.1 458.4h0M103.1 458.7h0M93.2 461.3h0M92.7 457.1h0M110.7 454.7h0M93.2 454.1h0M99.7 450.6h0M108.4 463.8h0M87.6 461.1h0M111.6 455.2h0M97.8 454.0h0M105.7 461.0h0M99.0 467.6h0M102.6 451.4h0M95.2 458.8h0M91.4 451.7h0M89.0 459.3h0M95.0 457.7h0M119.5 455.0h0M97.0 470.5h0M87.2 452.6h0M101.1 454.0h0M118.2 455.3h0M97.6 444.6h0M98.0 457.6h0M96.9 457.0h0M104.0 454.2h0M109.7 456.1h0M122.6 450.0h0M92.1 450.9h0M99.6 449.3h0M93.4 449.1h0M95.5 457.8h0M132.8 452.3h0M94.5 454.9h0M94.8 458.3h0M108.6 455.9h0M99.7 456.9h0M117.3 471.4h0M112.9 454.8h0M117.5 455.9h0M101.4 461.6h0M111.5 462.7h0M100.7 454.0h0M96.4 455.7h0M99.5 463.3h0M89.7 443.5h0M100.3 450.3h0M96.3 469.3h0M107.2 449.6h0M91.9 468.1h0M118.8 460.2h0M107.2 460.4h0M127.9 450.6h0M103.7 456.6h0M93.6 454.1h0M106.7 452.4h0M92.8 445.6h0M110.8 463.1h0M97.1 454.4h0M98.0 447.0h0M91.8 456.5h0M105.0 453.1h0M93.4 459.2h0M110.6 446.7h0M96.6 458.0h0M106.8 449.1h0M109.4 453.7h0M109.5 456.9h0M101.6 452.2h0M116.2 454.3h0M101.0 452.8h0M125.3 455.4h0M92.5 451.6h0M93.5 457.4h0M85.5 453.6h0M111.0 461.2h0M100.5 451.7h0M89.7 456.9h0M105.1 451.3h0M92.6 453.8h0M100.1 461.0h0M123.0 459.1h0M114.3 469.8h0M78.1 460.8h0M110.1 449.0h0M98.2 455.1h0M106.1 457.6h0M85.2 454.6h0M88.5 465.3h0M95.5 454.3h0M121.5 451.7h0M105.6 453.3h0M95.7 464.6h0M113.6 454.7h0M104.7 447.7h0M112.8 456.3h0M110.1 456.2h0M102.8 455.4h0M109.0 451.9h0M102.2 456.1h0M93.3 458.1h0M92.1 451.9h0M103.8 459.3h0M98.0 461.5h0M80.3 457.9h0M100.2 458.1h0M96.7 456.0h0M108.6 453.3h0M90.6 459.3h0M100.1 457.0h0M90.1 462.8h0M101.6 460.7h0M102.3 455.5h0M107.6 462.6h0M114.7 457.5h0M94.7 461.6h0M112.8 461.4h0M104.5 460.0h0M96.1 452.8h0M109.9 456.9h0M75.0 462.3h0M96.3 460.7h0M100.6 461.4h0M89.6 449.2h0M99.6 451.9h0M114.8 454.9h0M86.2 448.5h0M98.2 449.0h0M113.0 457.6h0M103.1 460.5h0M96.1 459.7h0M101.3 459.8h0M100.4 462.2h0M99.4 454.6h0M110.1 451.6h0M103.5 464.5h0M91.7 456.0h0M93.9 452.9h0M107.7 452.3h0M113.7 455.5h0M103.9 461.1h0M107.5 467.2h0M97.4 464.2h0M96.0 464.4h0M104.8 451.6h0M109.9 459.4h0M104.2 461.1h0M114.4 459.5h0M98.1 448.0h0M90.8 452.1h0M108.3 452.3h0M105.0 449.8h0M115.3 461.0h0M111.0 452.6h0M85.1 463.4h0M69.3 461.6h0M108.2 455.6h0M111.3 448.9h0M103.8 450.4h0M117.5 460.4h0M86.7 457.8h0M85.3 462.9h0M110.1 459.1h0M79.6 459.9h0M103.6 453.7h0M92.7 452.1h0M100.5 451.9h0M106.1 463.2h0M111.5 450.9h0M104.6 452.8h0M120.7 458.3h0M99.4 453.4h0M99.7 452.1h0M107.0 460.9h0M100.7 451.8h0M106.8 461.7h0M96.1 462.9h0M101.1 455.1h0M100.2 460.7h0M84.6 447.6h0M102.9 460.5h0M89.7 445.4h0M99.0 457.4h0M100.3 453.6h0M103.0 447.1h0M95.3 457.1h0M101.4 458.0h0M118.5 450.6h0M97.0 457.1h0M90.6 451.8h0M102.7 454.6h0M100.5 464.2h0M93.2 463.4h0M99.4 450.8h0M98.7 454.4h0M112.9 458.1h0M85.6 461.9h0M102.2 457.8h0M97.0 449.6h0M98.3 453.5h0M104.6 453.0h0M87.1 452.9h0M109.6 462.5h0M121.7 453.8h0M100.3 448.3h0M99.1 449.9h0M86.0 457.0h0M105.3 449.9h0M97.4 454.0h0M83.8 456.9h0M99.8 461.9h0M84.7 450.6h0M97.8 455.1h0M109.8 452.4h0M97.3 462.2h0M98.1 452.0h0M111.3 452.9h0M101.5 447.0h0M94.8 459.2h0M103.3 455.9h0M90.9 456.4h0M98.3 451.8h0M95.9 454.5h0M97.8 456.0h0M108.7 449.6h0M107.6 457.6h0M108.3 458.5h0M102.9 452.7h0M111.2 454.3h0M94.4 456.9h0M88.9 458.6h0M96.9 455.6h0M109.0 461.1h0M104.2 459.2h0M104.4 454.4h0M107.0 451.4h0M96.6 455.7h0M101.9 454.4h0M106.7 461.2h0M89.4 464.4h0M104.8 456.2h0M110.3 455.4h0M100.7 448.7h0M101.4 465.2h0M88.9 449.8h0M91.8 460.1h0M101.7 458.8h0M104.5 457.0h0M108.6 461.7h0M109.5 461.6h0M106.1 458.3h0M92.5 453.8h0M95.0 450.5h0M88.6 463.5h0M104.4 452.1h0M94.7 465.7h0M97.8 465.3h0M86.2 445.3h0M115.6 458.2h0M100.5 453.2h0M105.8 458.9h0M107.1 457.7h0M101.1 461.6h0M83.9 456.2h0M95.4 458.7h0M99.1 452.9h0M100.0 455.5h0M98.4 458.7h0M106.3 452.6h0M107.0 454.6h0M109.4 452.0h0M93.2 457.6h0M119.0 453.1h0M90.7 456.2h0M99.7 447.9h0M93.1 453.6h0M109.0 464.5h0M97.6 449.8h0M95.4 454.1h0M96.3 456.5h0M110.5 450.8h0M92.1 458.1h0M106.6 453.9h0M109.7 467.9h0M79.8 455.6h0M93.7 456.6h0M107.8 459.0h0M112.1 460.9h0M114.0 450.7h0M95.2 459.9h0M99.0 459.0h0M100.8 457.5h0M83.0 453.1h0M117.1 440.2h0M112.9 451.6h0M97.8 448.7h0M119.3 452.3h0M91.3 449.8h0M121.2 455.0h0M87.4 451.5h0M93.0 453.8h0M108.3 448.5h0M107.6 454.2h0M83.0 458.1h0M103.5 450.6h0M109.1 449.1h0M114.0 462.9h0M106.5 458.9h0M101.2 448.6h0M101.4 457.8h0M91.5 453.0h0M113.1 458.0h0M102.6 460.3h0M100.8 460.6h0M99.4 455.7h0M84.1 444.6h0M103.9 455.7h0M107.9 453.2h0M119.8 452.5h0M92.6 465.6h0M102.2 453.0h0M106.4 455.5h0M92.3 460.4h0M115.8 458.7h0M99.5 450.3h0M97.8 453.1h0M90.6 452.0h0M98.5 459.0h0M115.9 456.7h0M107.4 455.4h0M93.5 456.2h0M89.2 459.2h0M78.4 461.4h0M100.4 456.9h0M111.9 456.6h0M106.4 452.1h0M96.3 468.8h0M104.4 451.5h0M111.4 453.1h0M92.3 455.5h0M94.3 456.1h0M117.7 456.7h0M94.4 458.3h0M110.9 454.4h0M108.3 450.8h0M122.1 458.6h0M109.2 462.9h0M93.0 459.5h0M107.9 457.8h0M127.5 450.8h0M93.1 452.8h0M94.8 456.6h0M88.0 454.8h0M96.5 458.7h0M90.9 454.8h0M94.0 458.8h0M87.4 449.0h0M111.7 448.8h0M116.2 458.1h0M113.7 451.7h0M112.2 454.1h0M102.3 452.1h0M109.1 457.8h0M104.0 461.1h0M89.9 464.4h0M104.8 453.9h0M97.5 462.6h0M89.4 459.1h0M114.7 457.0h0M80.5 453.5h0M111.7 460.7h0M98.5 455.2h0M89.8 449.7h0M98.0 459.9h0M122.9 457.2h0M103.8 453.3h0M96.4 464.0h0M84.5 456.9h0M95.8 455.2h0M110.8 455.7h0M83.4 451.6h0M108.2 453.1h0M102.5 461.0h0M103.6 454.4h0M108.6 457.0h0M99.5 455.9h0M98.9 452.7h0M105.0 450.3h0M108.4 448.1h0M99.3 455.9h0M111.2 453.6h0M86.6 459.0h0M113.9 463.5h0M105.8 457.6h0M90.9 452.8h0M94.4 459.5h0M108.9 453.8h0M109.6 458.0h0M100.6 462.5h0M112.4 459.5h0M102.1 454.5h0M86.3 457.0h0M102.0 442.9h0M93.7 448.5h0M100.4 457.4h0M89.9 461.7h0M116.3 455.1h0M90.8 456.3h0M104.5 460.1h0M113.0 455.6h0M94.5 457.3h0M113.0 452.5h0M110.5 463.3h0M101.3 453.2h0M111.2 443.2h0M111.0 456.7h0M112.5 456.4h0M91.0 462.2h0M89.8 456.3h0M132.8 461.5h0M81.7 450.7h0M106.7 452.8h0M98.6 460.8h0M105.9 451.7h0M90.8 452.6h0M96.5 464.7h0M106.4 456.7h0M99.9 454.7h0M102.3 456.8h0M116.6 448.3h0M121.4 464.6h0M112.5 452.1h0M89.1 455.5h0M113.6 451.1h0M88.3 455.5h0M89.1 458.0h0M104.4 456.9h0M110.7 449.2h0M128.8 462.2h0M95.1 458.7h0M112.4 451.5h0M108.6 457.7h0M117.3 457.4h0M100.3 470.9h0M77.3 463.4h0M116.6 458.5h0M98.5 445.0h0M99.3 454.9h0M103.6 460.2h0M89.2 454.8h0M91.6 451.5h0M103.6 448.5h0M81.5 449.6h0M94.8 459.5h0M104.6 455.4h0M126.6 455.3h0M105.2 455.2h0M120.4 452.8h0M104.8 458.8h0M98.2 454.1h0M89.8 450.9h0M100.8 453.0h0M110.5 457.7h0M104.7 457.5h0M95.9 456.1h0M119.6 451.1h0M100.9 453.6h0M107.1 450.2h0M87.9 458.4h0M94.8 453.3h0M107.7 455.0h0M109.4 462.8h0M102.3 455.1h0M98.8 466.4h0M114.0 454.4h0M86.0 458.2h0M126.2 453.4h0M99.4 450.8h0M104.1 457.1h0M101.4 449.4h0M92.2 451.1h0M93.6 450.6h0M111.0 456.4h0M99.2 459.8h0M86.8 459.4h0M101.3 461.4h0M103.1 461.9h0M93.5 459.7h0M98.2 459.5h0M104.3 462.3h0M93.0 458.4h0M104.2 467.1h0M100.4 444.7h0M109.7 453.2h0M123.6 462.4h0M110.7 459.5h0M104.4 461.1h0M118.1 459.9h0M94.9 445.9h0M101.1 454.2h0M78.1 458.5h0M114.2 461.3h0M117.8 465.0h0M95.1 457.1h0M86.2 458.8h0M102.5 458.8h0M96.4 469.1h0M87.0 444.0h0M97.3 464.8h0M92.0 451.3h0M106.2 457.9h0M109.7 453.8h0M108.3 461.5h0M93.0 454.7h0M82.5 448.9h0M91.8 463.6h0M94.4 455.7h0M91.5 445.8h0M99.8 457.1h0M93.7 455.8h0M81.3 454.7h0M95.1 451.6h0M91.5 449.4h0M102.8 460.2h0M93.4 450.5h0M70.5 452.1h0M124.7 456.7h0M109.5 454.2h0M110.4 453.8h0M88.8 460.1h0M97.0 457.7h0M105.2 465.7h0M107.5 452.3h0M106.9 455.9h0M102.2 452.5h0M106.6 450.7h0M88.7 454.1h0M95.0 456.6h0M88.4 440.7h0M88.4 448.2h0M97.6 449.0h0M116.7 448.2h0M99.7 457.0h0M120.3 461.1h0M106.7 457.5h0M71.1 453.7h0M89.4 447.6h0M94.0 448.7h0M78.5 460.1h0M87.0 448.8h0M99.8 458.3h0M89.2 458.2h0M89.9 457.9h0M100.4 461.6h0M86.0 450.7h0M95.9 461.6h0M84.2 451.1h0M102.0 461.9h0M104.5 450.0h0M102.7 452.9h0M114.0 452.7h0M97.1 458.9h0M72.4 456.9h0M96.5 453.5h0M96.8 460.9h0M108.2 454.2h0M94.1 453.3h0M108.8 461.3h0M97.6 459.2h0M105.3 453.7h0M88.1 462.0h0M118.1 452.3h0M98.2 453.7h0M103.3 458.7h0M98.9 453.2h0M114.1 454.5h0M110.0 457.2h0M86.6 446.6h0M100.6 462.2h0M101.0 451.9h0M117.4 453.5h0M94.8 462.5h0M91.5 459.1h0M99.6 453.8h0M92.5 457.5h0M105.5 457.1h0M95.3 454.0h0M89.1 447.6h0M92.2 446.0h0M101.4 448.7h0M106.2 443.8h0M112.1 453.3h0M105.9 455.2h0M112.1 453.4h0M118.2 457.4h0M112.3 455.5h0M100.2 459.9h0M98.6 446.1h0M106.9 461.5h0M111.3 452.9h0M96.1 454.1h0M97.7 455.7h0M95.8 457.4h0M108.9 455.7h0M107.4 449.3h0M106.0 459.1h0M95.5 450.6h0M115.6 448.7h0M106.0 460.3h0M95.4 450.9h0M112.8 460.6h0M105.7 452.5h0M95.3 454.5h0M103.4 451.6h0M99.7 457.6h0M89.0 463.9h0M117.2 461.7h0M108.7 453.3h0M85.7 465.2h0M104.2 455.3h0M98.8 461.2h0M100.2 455.1h0M94.1 455.7h0M112.6 452.7h0M106.4 448.8h0M93.7 449.3h0M113.8 460.1h0M127.2 463.9h0M87.0 461.0h0M91.9 452.6h0M109.5 460.1h0M80.1 448.7h0M88.9 456.2h0M100.9 454.7h0M97.7 450.3h0M100.9 454.6h0M104.3 452.8h0M94.5 459.2h0M97.0 456.5h0M98.1 461.4h0M83.0 451.0h0M87.3 453.5h0M90.2 443.8h0M100.2 455.7h0M110.2 447.0h0M89.5 464.7h0M105.6 445.1h0M104.7 448.4h0M104.7 448.2h0M105.1 441.7h0M106.0 443.1h0M105.8 441.8h0M106.5 438.3h0M105.1 447.3h0M104.4 447.8h0M106.7 440.5h0M106.4 436.8h0M104.5 444.6h0M105.9 447.2h0M105.9 442.0h0M105.2 448.1h0M105.7 437.8h0M105.6 438.8h0M104.0 449.7h0M105.5 445.5h0M106.1 440.4h0M104.1 450.9h0M105.3 439.9h0M105.5 441.6h0M106.0 441.3h0M104.0 447.2h0M105.2 446.0h0M106.0 439.1h0M106.4 448.8h0M106.1 450.3h0M103.7 441.4h0M108.9 458.3h0M111.2 455.4h0M107.4 457.1h0M106.8 458.7h0M108.0 457.9h0M108.9 457.6h0M106.6 459.5h0M112.4 454.7h0M111.4 454.4h0M106.9 457.8h0M110.6 455.2h0M109.9 456.1h0M110.5 456.1h0M110.3 456.4h0M111.2 454.7h0M112.3 455.7h0M105.0 460.9h0M113.8 452.5h0M107.2 458.1h0M108.8 456.2h0M110.9 456.0h0M105.6 459.1h0M112.7 453.8h0M111.7 455.8h0M108.6 456.3h0M110.1 455.0h0M108.0 457.4h0M109.1 456.7h0M108.4 457.6h0M108.2 459.3h0M94.2 457.2h0M101.2 455.2h0M97.9 458.0h0M93.3 459.1h0M98.0 458.0h0M92.6 459.1h0M95.6 458.0h0M98.3 457.4h0M96.3 457.2h0M99.5 457.1h0M94.6 458.2h0M95.9 458.4h0M95.1 457.9h0M99.9 456.6h0M100.4 456.0h0M97.2 457.8h0M98.5 456.0h0M97.4 458.9h0M94.7 459.3h0M92.9 458.9h0M93.2 460.1h0M100.1 456.6h0M98.6 457.9h0M93.8 459.1h0M93.9 458.9h0M95.0 458.5h0M97.2 458.9h0M98.7 456.3h0M94.7 459.1h0M92.0 459.6h0M90.1 461.3h0M91.3 458.5h0M92.1 455.7h0M89.0 463.1h0M89.5 461.8h0M89.6 462.4h0M89.6 464.5h0M90.0 456.6h0M91.3 459.1h0M90.0 462.0h0M90.5 461.0h0M89.9 460.4h0M91.8 454.0h0M90.2 457.0h0M89.8 456.2h0M90.1 463.8h0M91.3 456.2h0M89.1 463.8h0M90.9 454.6h0M88.7 459.5h0M89.6 455.8h0M90.5 455.4h0M89.9 456.3h0M90.4 457.8h0M90.1 453.4h0M90.6 457.6h0M88.8 463.7h0M90.8 462.0h0M90.3 454.0h0M91.2 456.2h0M113.8 453.1h0M108.1 452.9h0M111.1 453.8h0M114.4 455.2h0M109.5 453.3h0M113.7 453.7h0M110.9 454.3h0M112.4 454.1h0M108.6 452.3h0M116.2 453.9h0M105.3 452.0h0M110.5 452.0h0M106.0 452.4h0M109.6 453.4h0M112.4 455.5h0M107.2 453.1h0M111.5 452.3h0M106.3 452.9h0M106.9 452.7h0M109.5 454.2h0M112.1 454.2h0M113.6 454.6h0M115.7 454.3h0M114.1 453.0h0M114.7 453.1h0M113.0 452.7h0M109.6 453.0h0M113.0 453.1h0M107.6 452.0h0M111.7 452.9h0M88.2 451.6h0M75.2 446.4h0M71.7 445.1h0M77.3 447.1h0M84.1 450.3h0M76.9 448.5h0M80.0 447.7h0M78.8 446.9h0M73.9 446.0h0M71.9 444.9h0M71.4 443.8h0M72.1 444.3h0M76.5 446.5h0M76.2 446.3h0M85.4 451.2h0M76.1 446.4h0M77.3 447.5h0M76.3 445.6h0M82.0 450.0h0M75.6 445.5h0M80.6 448.8h0M75.4 446.3h0M86.5 452.2h0M85.6 451.1h0M78.4 448.3h0M84.2 451.5h0M69.6 443.5h0M76.0 446.9h0M87.2 452.7h0M77.9 447.8h0M98.0 452.5h0M92.6 445.3h0M93.9 446.9h0M98.0 451.2h0M93.2 443.0h0M91.7 441.4h0M94.9 448.4h0M97.5 450.8h0M91.5 441.1h0M98.7 453.2h0M98.1 453.2h0M96.1 450.3h0M98.3 455.5h0M95.3 448.8h0M93.4 445.3h0M94.2 448.7h0M97.2 449.8h0M96.0 449.4h0M93.3 445.0h0M91.9 442.5h0M98.5 454.3h0M97.6 452.9h0M97.6 449.6h0M91.8 445.5h0M93.7 446.9h0M93.1 446.2h0M92.9 444.4h0M96.7 448.8h0M94.9 448.7h0M93.3 444.8h0M126.6 456.3h0M126.8 457.1h0M105.6 453.8h0M125.0 457.2h0M127.1 457.3h0M106.2 453.7h0M128.6 457.2h0M106.1 454.0h0M112.8 455.2h0M108.0 453.2h0M123.0 455.3h0M129.2 458.1h0M127.2 456.5h0M113.6 453.5h0M129.6 456.7h0M125.0 456.1h0M111.2 453.3h0M106.6 453.9h0M129.7 458.0h0M122.8 457.0h0M129.0 458.6h0M129.4 457.4h0M119.7 454.9h0M125.8 456.6h0M123.9 456.8h0M115.7 455.1h0M126.7 456.4h0M128.5 458.6h0M108.6 452.9h0M124.4 457.4h0M90.4 452.5h0M82.7 452.2h0M79.4 452.4h0M79.1 452.0h0M87.9 451.6h0M83.5 454.6h0M79.0 452.1h0M79.4 452.1h0M87.1 452.8h0M81.9 452.4h0M89.6 452.9h0M94.8 453.0h0M89.6 454.4h0M79.3 452.5h0M82.1 451.9h0M85.6 451.9h0M86.9 452.3h0M82.7 452.4h0M95.7 453.0h0M87.0 451.2h0M83.1 451.9h0M87.8 453.0h0M90.4 451.5h0M96.6 453.7h0M85.7 452.6h0M94.2 452.2h0M79.0 452.0h0M94.6 452.9h0M82.4 452.6h0M80.0 451.5h0M91.3 452.8h0M89.2 453.3h0M81.8 451.4h0M79.5 450.8h0M79.5 452.5h0M86.4 452.6h0M83.5 452.8h0M82.1 453.0h0M79.4 452.5h0M94.3 453.6h0M85.9 453.3h0M79.1 451.8h0M79.1 451.0h0M79.9 453.2h0M93.1 452.5h0M80.6 451.0h0M81.8 452.5h0M88.7 452.9h0M79.7 450.5h0M88.2 453.6h0M86.9 453.3h0M90.3 451.8h0M83.8 451.9h0M82.8 452.6h0M87.3 452.5h0M84.2 453.1h0M94.5 454.3h0M80.0 451.3h0M85.2 451.0h0M79.3 451.6h0M103.1 442.3h0M95.6 448.2h0M102.4 442.6h0M104.1 440.8h0M100.1 445.9h0M89.3 452.7h0M96.1 448.2h0M96.0 447.6h0M100.7 446.1h0M99.2 445.1h0M92.0 450.2h0M103.4 443.5h0M89.5 452.8h0M91.9 448.1h0M99.3 445.3h0M99.0 444.8h0M89.6 451.4h0M96.6 446.4h0M98.7 445.2h0M103.4 442.5h0M99.5 445.0h0M97.9 445.1h0M101.5 442.9h0M96.8 447.1h0M102.7 443.6h0M99.5 445.7h0M93.2 447.9h0M100.6 445.1h0M100.5 444.2h0M101.0 443.1h0M80.2 459.5h0M77.4 458.8h0M94.4 461.8h0M88.4 459.7h0M94.0 461.5h0M73.2 458.6h0M92.5 461.4h0M81.8 461.5h0M75.2 459.7h0M94.7 461.1h0M97.0 461.9h0M74.5 459.1h0M73.8 459.8h0M81.3 458.8h0M78.2 458.6h0M87.5 461.6h0M85.5 460.0h0M95.2 461.4h0M79.3 458.6h0M86.5 459.5h0M77.6 459.8h0M80.5 461.0h0M88.5 461.9h0M77.4 459.1h0M95.2 461.6h0M85.9 460.5h0M77.4 458.6h0M78.7 460.5h0M73.9 459.4h0M88.6 460.3h0M93.1 448.1h0M102.2 451.4h0M86.1 443.6h0M91.2 446.5h0M100.6 453.0h0M97.1 451.2h0M101.4 453.1h0M89.6 447.0h0M87.6 445.1h0M97.5 451.2h0M92.0 448.5h0M91.9 447.4h0M86.3 445.3h0M87.9 446.1h0M93.0 448.2h0M87.4 444.7h0M102.2 453.5h0M84.8 444.1h0M87.7 444.9h0M96.5 450.8h0M90.8 446.8h0M94.1 449.2h0M97.5 449.2h0M99.5 452.8h0M91.5 445.4h0M93.1 448.3h0M102.1 455.1h0M87.3 444.4h0M84.7 444.0h0M96.3 450.3h0M104.8 452.0h0M102.1 452.2h0M103.5 451.5h0M106.1 452.0h0M105.7 451.3h0M113.0 449.2h0M100.6 452.6h0M113.6 449.9h0M114.4 448.7h0M121.0 447.4h0M102.6 451.9h0M117.1 448.8h0M98.8 453.1h0M105.4 451.4h0M103.5 453.2h0M116.2 449.1h0M103.8 453.7h0M112.2 448.5h0M120.8 447.8h0M115.3 450.6h0M106.3 450.7h0M101.4 453.7h0M118.0 448.4h0M119.2 448.1h0M106.6 452.7h0M120.1 448.4h0M116.5 449.4h0M116.6 448.8h0M111.2 450.1h0M121.7 445.7h0M109.8 469.2h0M102.7 462.4h0M112.3 470.0h0M112.2 469.4h0M99.9 460.4h0M104.8 464.2h0M98.0 458.2h0M100.5 460.1h0M112.2 470.7h0M102.2 461.3h0M101.9 461.6h0M111.7 468.5h0M112.4 468.7h0M98.1 458.7h0M103.5 462.9h0M109.6 469.2h0M103.5 462.3h0M105.3 465.9h0M109.0 467.9h0M107.0 465.9h0M108.4 468.2h0M106.0 465.4h0M101.8 463.1h0M101.8 461.4h0M98.4 459.4h0M98.5 459.0h0M111.1 469.3h0M111.3 469.1h0M104.2 464.2h0M105.0 464.2h0M105.9 458.0h0M106.0 458.9h0M109.3 458.4h0M109.9 457.4h0M106.3 459.0h0M101.9 460.1h0M106.6 458.3h0M104.2 459.1h0M104.5 458.7h0M111.2 457.0h0M104.6 458.7h0M102.5 458.1h0M108.0 457.8h0M101.9 458.0h0M111.1 457.0h0M107.8 456.3h0M106.2 459.5h0M112.3 456.5h0M103.2 458.4h0M102.0 459.6h0M106.5 458.3h0M110.4 457.3h0M104.9 457.4h0M100.9 459.2h0M103.3 458.9h0M103.5 458.7h0M106.2 458.5h0M110.7 457.4h0M103.7 458.6h0M112.5 457.4h0M104.6 460.5h0M104.7 459.5h0M104.8 463.4h0M103.0 458.6h0M103.8 459.0h0M105.1 462.2h0M104.8 459.8h0M106.3 461.7h0M105.5 461.9h0M105.8 459.2h0M105.6 461.9h0M107.3 463.5h0M105.2 458.8h0M107.5 462.5h0M104.5 458.7h0M105.3 458.5h0M105.0 459.0h0M104.1 458.8h0M107.2 463.5h0M106.3 464.4h0M106.7 460.4h0M106.0 464.0h0M103.6 456.5h0M104.9 461.8h0M104.3 456.6h0M106.7 463.0h0M105.4 463.5h0M105.6 462.3h0M106.0 464.0h0M105.9 462.6h0M121.4 455.6h0M118.3 455.0h0M126.2 456.0h0M125.4 454.7h0M126.3 455.4h0M116.4 455.6h0M130.8 457.2h0M128.9 454.7h0M120.0 454.4h0M118.8 456.8h0M114.4 454.8h0M130.8 455.0h0M114.8 455.4h0M126.2 454.8h0M114.2 453.2h0M121.0 454.2h0M129.2 455.0h0M126.9 455.7h0M121.5 455.8h0M124.7 454.6h0M112.0 454.8h0M117.9 455.1h0M128.9 453.8h0M118.3 455.3h0M115.0 454.5h0M127.9 455.6h0M126.5 455.1h0M117.8 454.0h0M127.2 455.5h0M130.5 454.3h0M112.7 452.9h0M106.3 452.9h0M113.3 453.0h0M120.6 452.7h0M101.9 453.3h0M113.6 452.8h0M108.6 452.5h0M114.7 453.3h0M110.9 453.5h0M114.1 454.2h0M113.9 454.2h0M114.2 453.6h0M120.1 452.4h0M115.5 452.9h0M120.0 455.0h0M105.0 453.5h0M117.3 454.7h0M114.3 452.6h0M119.3 452.3h0M116.1 452.3h0M104.0 454.0h0M107.7 453.0h0M108.8 452.8h0M102.5 452.4h0M112.8 453.5h0M111.3 452.8h0M107.2 453.4h0M109.9 453.1h0M116.1 453.1h0M112.7 454.0h0M130.2 465.9h0M121.1 458.8h0M122.3 458.7h0M122.0 459.8h0M128.3 465.6h0M130.6 465.3h0M120.4 456.5h0M126.1 463.6h0M121.4 459.5h0M129.2 465.4h0M127.6 463.9h0M117.4 455.9h0M120.8 459.4h0M124.0 460.9h0M126.5 461.8h0M126.0 462.3h0M122.4 458.3h0M118.6 458.0h0M118.4 457.7h0M126.0 461.8h0M123.5 461.0h0M121.0 458.2h0M121.5 460.3h0M121.7 459.6h0M124.7 461.7h0M120.1 458.2h0M129.5 466.3h0M120.0 456.8h0M119.3 458.5h0M121.8 459.0h0M100.7 454.5h0M104.1 458.9h0M96.5 453.1h0M105.4 456.8h0M96.6 451.9h0M100.6 456.7h0M105.2 458.4h0M100.0 454.8h0M95.2 453.5h0M100.3 455.6h0M98.3 453.0h0M97.1 453.6h0M96.7 454.2h0M102.4 455.5h0M104.3 457.4h0M105.9 459.0h0M104.2 456.5h0M94.3 451.9h0M101.5 455.6h0M95.9 452.5h0M96.3 453.7h0M103.1 458.1h0M101.3 457.6h0M99.0 453.9h0M99.1 454.5h0M105.1 457.5h0M96.2 452.0h0M103.5 457.5h0M106.9 458.2h0M102.2 456.3h0M110.1 459.6h0M109.9 458.5h0M110.9 459.8h0M108.5 459.7h0M110.0 460.3h0M106.0 453.9h0M109.3 458.9h0M110.1 459.8h0M109.2 458.9h0M110.4 460.2h0M108.4 457.6h0M107.7 452.2h0M108.6 460.2h0M110.5 462.9h0M109.0 458.8h0M109.5 458.9h0M108.0 455.4h0M107.8 454.8h0M107.8 461.1h0M110.1 459.3h0M108.2 453.5h0M111.4 463.7h0M109.6 462.0h0M108.6 455.9h0M107.5 455.2h0M109.4 457.8h0M108.9 458.5h0M110.6 461.7h0M109.7 462.2h0M106.8 455.4h0M93.1 457.4h0M93.8 460.4h0M95.1 460.1h0M92.3 460.8h0M96.7 459.3h0M93.6 461.7h0M92.9 459.0h0M95.7 459.1h0M98.6 457.1h0M93.1 460.9h0M96.2 460.2h0M91.3 461.9h0M96.6 459.9h0M95.2 459.7h0M98.2 458.7h0M95.7 459.1h0M98.7 457.7h0M94.1 461.1h0M94.9 460.1h0M95.8 459.6h0M92.0 461.6h0M93.7 460.6h0M98.9 457.6h0M95.0 460.2h0M96.4 460.3h0M95.8 459.6h0M95.1 460.2h0M93.4 461.0h0M92.5 462.0h0M97.5 459.6h0M95.6 447.1h0M94.3 447.9h0M100.6 444.6h0M92.6 449.4h0M94.8 447.4h0M98.5 445.6h0M94.1 447.2h0M90.4 449.3h0M93.5 448.5h0M90.2 448.9h0M96.7 447.8h0M91.2 449.4h0M86.8 451.0h0M95.6 446.2h0M94.6 448.6h0M89.1 449.4h0M96.9 447.2h0M98.1 447.5h0M100.5 445.2h0M85.8 452.0h0M93.8 449.1h0M94.3 448.8h0M94.8 448.2h0M87.4 450.9h0M96.1 448.1h0M90.8 448.7h0M92.8 450.0h0M102.7 445.7h0M93.9 448.9h0M93.4 449.5h0M92.9 454.0h0M98.3 462.8h0M97.8 461.9h0M95.0 456.2h0M92.9 453.5h0M94.6 456.6h0M95.2 457.3h0M92.3 453.1h0M91.4 451.0h0M99.0 462.3h0M98.0 461.2h0M92.5 451.7h0M92.9 450.2h0M93.1 453.9h0M95.2 454.1h0M94.7 456.7h0M96.8 458.0h0M98.9 462.9h0M93.6 455.0h0M96.3 456.4h0M95.6 455.6h0M92.4 453.2h0M93.5 453.4h0M95.9 458.3h0M95.9 457.1h0M99.1 461.2h0M93.8 455.6h0M99.6 464.4h0M94.7 457.8h0M96.8 459.6h0M99.3 452.3h0M94.2 452.9h0M101.9 453.0h0M105.6 451.3h0M100.8 452.9h0M100.0 451.3h0M93.7 453.5h0M106.2 452.2h0M103.1 452.6h0M92.2 454.0h0M99.9 453.1h0M97.7 454.1h0M95.0 454.3h0M101.2 452.2h0M98.1 452.1h0M93.3 455.2h0M103.5 452.1h0M97.8 453.7h0M92.7 455.0h0M94.1 454.5h0M98.8 453.8h0M103.2 452.8h0M102.4 451.9h0M104.8 451.1h0M102.3 452.0h0M102.9 452.3h0M101.5 451.8h0M105.6 452.3h0M105.8 452.0h0M103.6 451.9h0M61.7 472.4h0M61.8 473.6h0M64.8 473.5h0M62.0 468.8h0M61.6 475.6h0M65.3 471.8h0M57.2 465.6h0M61.1 473.3h0M58.9 475.1h0M59.9 473.2h0M58.0 464.6h0M55.0 468.5h0M53.8 470.3h0M61.4 469.3h0M63.6 472.5h0M66.4 471.3h0M55.7 469.4h0M55.8 472.8h0M64.4 473.1h0M60.2 474.7h0M53.4 473.2h0M64.2 467.5h0M60.9 467.2h0M66.1 475.5h0M55.1 470.4h0M58.4 468.1h0M65.7 476.0h0M61.5 470.7h0M55.1 469.8h0M57.0 470.5h0M56.6 468.4h0M57.3 468.0h0M59.4 472.7h0M61.8 476.1h0M61.6 470.7h0M57.4 472.4h0M56.2 472.2h0M58.9 468.7h0M56.9 469.6h0M64.7 470.2h0M59.3 468.0h0M55.2 471.0h0M63.7 468.4h0M61.3 470.8h0M56.6 469.5h0M58.3 475.0h0M60.6 475.7h0M63.1 466.8h0M63.4 469.3h0M59.2 472.7h0M57.0 471.1h0M63.6 468.6h0M59.5 471.9h0M60.9 468.5h0M54.6 473.6h0M59.5 471.6h0M61.7 471.7h0M57.1 468.4h0M58.4 468.4h0M55.7 471.5h0M59.0 473.8h0M62.1 474.1h0M59.0 471.0h0M68.7 468.2h0M60.1 472.6h0M55.8 470.3h0M61.9 474.0h0M62.2 472.8h0M63.3 472.9h0M64.0 471.1h0M59.6 472.2h0M63.1 468.1h0M58.4 469.2h0M54.8 475.8h0M62.0 473.7h0M56.8 469.7h0M59.5 475.7h0M58.5 471.8h0M62.4 471.9h0M59.3 471.4h0M56.3 474.5h0M61.4 462.8h0M57.9 468.2h0M64.1 472.7h0M62.8 468.5h0M61.6 473.8h0M62.5 468.5h0M55.9 475.7h0M56.5 475.3h0M57.7 471.6h0M59.2 466.0h0M61.8 473.5h0M61.8 470.7h0M59.2 472.7h0M61.7 470.3h0M53.9 477.9h0M60.5 473.4h0M60.1 473.7h0M60.0 467.0h0M51.0 473.3h0M58.4 471.4h0M59.7 475.7h0M59.7 466.0h0M68.8 476.1h0M62.2 469.5h0M57.2 471.7h0M57.9 468.7h0M56.4 474.5h0M60.1 473.1h0M66.2 466.8h0M35.9 438.1h0M44.2 439.7h0M43.9 436.4h0M51.5 437.8h0M51.2 438.2h0M34.8 437.7h0M38.5 438.1h0M53.4 439.0h0M46.1 439.2h0M49.2 438.3h0M43.1 437.6h0M52.3 438.8h0M36.6 438.7h0M49.7 439.0h0M42.6 439.4h0M50.0 439.2h0M54.3 439.2h0M48.2 438.3h0M37.5 437.5h0M42.0 438.2h0M38.7 438.2h0M52.6 438.7h0M51.7 438.5h0M39.5 437.6h0M50.0 439.4h0M54.0 440.0h0M48.2 438.4h0M32.9 439.2h0M40.6 437.8h0M43.1 437.2h0M52.9 439.9h0M50.5 438.2h0M41.8 438.0h0M43.5 438.2h0M35.1 438.9h0M50.4 439.0h0M46.1 438.3h0M34.0 437.4h0M39.5 438.4h0M52.9 438.9h0M38.9 438.5h0M43.0 438.0h0M53.0 439.0h0M38.0 438.7h0M37.5 438.0h0M49.3 440.2h0M40.5 438.3h0M41.7 438.1h0M39.3 438.8h0M50.4 439.0h0M39.9 438.0h0M36.9 437.6h0M37.7 437.4h0M51.9 439.4h0M53.2 439.0h0M47.7 460.7h0M52.8 457.1h0M41.6 459.5h0M53.8 457.7h0M43.5 460.0h0M41.4 459.6h0M44.0 459.8h0M45.6 458.9h0M50.9 458.5h0M46.5 459.5h0M54.8 458.0h0M46.0 459.3h0M49.7 459.0h0M43.5 459.3h0M52.7 458.7h0M57.6 457.9h0M56.3 458.4h0M52.1 459.1h0M53.6 458.5h0M43.1 459.7h0M50.5 459.4h0M46.8 459.1h0M41.2 459.6h0M55.9 458.9h0M50.8 459.5h0M54.2 458.7h0M49.5 458.7h0M40.4 459.4h0M39.4 459.7h0M50.7 458.3h0M46.1 459.5h0M49.4 457.9h0M45.4 459.1h0M52.8 458.2h0M49.7 458.5h0M39.6 460.7h0M49.0 458.6h0M40.9 459.7h0M40.0 459.1h0M39.9 459.1h0M54.6 458.5h0M40.9 458.6h0M53.0 458.2h0M48.7 458.9h0M43.3 459.6h0M43.1 459.2h0M49.0 459.3h0M44.4 459.4h0M47.9 457.9h0M43.3 459.1h0M56.3 456.5h0M48.0 457.7h0M39.6 459.0h0M49.2 458.1h0M48.2 458.8h0M68.3 427.3h0M57.3 422.8h0M62.8 424.3h0M68.1 426.7h0M71.8 427.9h0M66.1 425.2h0M64.5 425.4h0M64.8 424.8h0M59.7 423.7h0M66.3 425.0h0M65.2 426.2h0M53.9 420.9h0M55.4 421.6h0M56.0 421.5h0M59.7 423.4h0M71.2 427.2h0M58.8 423.7h0M66.7 425.4h0M68.1 425.5h0M66.7 424.9h0M51.4 420.1h0M54.7 421.6h0M60.8 424.2h0M66.6 425.2h0M51.0 419.8h0M70.2 426.7h0M63.5 425.7h0M70.6 427.7h0M58.4 422.2h0M54.2 421.5h0M65.0 426.6h0M72.0 426.8h0M61.9 424.1h0M51.4 421.1h0M54.8 420.2h0M57.5 423.4h0M71.2 428.1h0M54.3 421.1h0M52.8 418.8h0M66.3 425.3h0M53.9 421.5h0M54.4 421.0h0M60.0 424.6h0M64.0 425.7h0M68.5 426.3h0M70.4 426.3h0M55.7 422.0h0M67.6 426.5h0M71.7 426.9h0M66.2 425.2h0M63.8 425.0h0M58.0 421.0h0M59.5 424.3h0M68.2 426.5h0M54.5 420.9h0M71.6 427.8h0M50.8 421.2h0M66.8 424.5h0M65.6 426.0h0M65.2 424.8h0M136.4 445.1h0M147.0 441.2h0M134.0 446.0h0M130.2 446.5h0M129.9 446.2h0M146.6 442.5h0M129.8 446.0h0M145.6 442.2h0M141.7 443.8h0M146.2 441.9h0M131.0 445.6h0M139.6 443.9h0M132.4 445.0h0M130.1 445.4h0M140.2 443.4h0M147.4 441.7h0M133.6 445.0h0M141.6 442.9h0M145.4 443.2h0M135.8 444.3h0M150.5 442.7h0M147.7 441.7h0M138.8 442.7h0M147.4 442.0h0M133.9 444.5h0M150.8 441.6h0M139.3 443.3h0M140.4 444.6h0M129.4 446.0h0M145.1 442.3h0M139.1 444.2h0M140.1 444.2h0M151.2 439.9h0M150.7 441.2h0M139.9 444.8h0M137.7 444.3h0M133.9 444.2h0M128.7 446.6h0M152.0 441.5h0M139.3 443.1h0M141.4 443.7h0M150.9 442.2h0M148.1 443.0h0M139.1 444.1h0M152.7 441.2h0M129.8 445.7h0M130.7 445.7h0M142.7 443.7h0M139.3 444.3h0M142.3 442.4h0M139.2 443.3h0M142.4 441.8h0M141.2 442.6h0M136.3 443.9h0M138.9 443.6h0M149.2 441.6h0M129.5 445.8h0M138.5 443.4h0M150.9 442.5h0M131.8 446.4h0M73.8 392.4h0M69.5 389.7h0M73.9 392.9h0M73.3 392.0h0M71.3 390.9h0M67.2 387.0h0M70.9 390.9h0M65.3 385.7h0M66.6 386.3h0M67.6 387.7h0M76.1 395.4h0M65.2 385.3h0M75.5 393.7h0M75.6 395.3h0M72.6 391.6h0M65.3 385.5h0M67.9 389.3h0M65.1 385.4h0M72.6 392.2h0M73.8 393.3h0M71.2 389.7h0M76.0 394.3h0M74.8 394.2h0M67.5 388.2h0M72.1 391.4h0M73.1 393.0h0M71.0 391.6h0M66.0 385.8h0M68.1 389.7h0M67.8 389.1h0M75.1 394.9h0M73.1 393.3h0M66.5 386.1h0M70.7 389.6h0M66.1 386.6h0M68.5 389.3h0M66.3 386.0h0M66.2 386.6h0M67.3 388.6h0M70.5 389.9h0M113.6 389.3h0M114.9 384.1h0M115.0 384.1h0M115.3 379.2h0M113.3 390.8h0M113.7 375.6h0M107.9 372.3h0M113.8 379.0h0M115.1 377.9h0M113.5 389.6h0M109.1 371.5h0M114.7 386.0h0M112.9 390.8h0M114.3 376.7h0M112.7 394.5h0M114.7 381.7h0M112.3 373.0h0M115.0 380.2h0M114.4 384.8h0M112.7 373.8h0M114.0 388.5h0M109.7 372.3h0M115.6 375.3h0M114.6 385.5h0M114.3 385.8h0M115.0 379.0h0M114.2 378.5h0M114.5 388.8h0M113.7 390.2h0M113.9 387.8h0M114.3 385.8h0M114.7 380.9h0M113.9 381.6h0M109.9 372.2h0M114.5 387.4h0M111.9 374.5h0M115.2 377.5h0M114.3 377.8h0M107.3 371.7h0M114.0 386.7h0M112.5 391.3h0M111.7 372.5h0M114.9 382.5h0M112.5 394.3h0M116.1 376.5h0M113.8 374.5h0M114.2 389.7h0M109.8 372.7h0M112.8 394.2h0M114.6 388.5h0M113.7 393.4h0M112.6 392.5h0M109.1 372.4h0M113.0 391.8h0M113.0 374.7h0M114.4 376.0h0M114.1 389.4h0M113.4 390.2h0M113.3 392.3h0M114.8 386.2h0M114.9 379.2h0M115.1 380.6h0M111.9 373.2h0M113.2 375.2h0M112.9 390.0h0M114.8 387.4h0M110.4 373.2h0M114.5 383.5h0M114.3 380.3h0M113.0 392.5h0M111.7 411.4h0M109.7 422.4h0M111.3 418.0h0M112.2 411.3h0M113.8 407.3h0M114.4 403.9h0M114.1 398.4h0M114.6 403.1h0M112.5 414.4h0M111.6 416.7h0M111.4 417.7h0M112.4 413.2h0M114.5 400.7h0M115.7 398.4h0M114.8 405.4h0M114.3 405.1h0M112.4 410.8h0M110.7 422.4h0M113.1 415.2h0M113.6 409.7h0M114.1 405.4h0M111.6 415.0h0M108.8 422.4h0M113.4 412.0h0M114.3 404.3h0M113.7 406.3h0M113.9 406.6h0M113.1 407.4h0M109.4 422.8h0M112.4 410.4h0M111.7 416.0h0M115.0 403.4h0M109.4 422.1h0M110.5 417.7h0M114.0 405.5h0M113.8 411.2h0M114.8 398.1h0M111.8 416.1h0M111.5 418.9h0M114.9 400.0h0M113.3 414.5h0M111.7 419.5h0M109.0 422.6h0M114.5 403.0h0M111.5 419.1h0M111.9 413.3h0M112.6 411.9h0M113.7 406.9h0M111.9 413.1h0M114.0 405.4h0M109.1 423.3h0M109.3 423.7h0M109.3 422.0h0M112.1 417.3h0M114.3 400.2h0M114.3 401.1h0M111.8 417.5h0M113.0 407.9h0M114.1 403.8h0M114.2 398.5h0M114.4 403.0h0M113.0 413.6h0M113.1 412.5h0M113.9 414.5h0M114.2 405.0h0M111.1 418.6h0M111.2 415.8h0M110.1 419.5h0M114.1 408.9h0M114.1 406.4h0M138.6 398.9h0M139.4 399.6h0M138.2 397.7h0M138.2 397.5h0M140.4 399.2h0M139.5 398.2h0M138.6 397.9h0M143.0 401.4h0M142.7 400.8h0M138.1 397.5h0M142.2 400.4h0M140.4 400.0h0M138.5 397.4h0M138.4 397.9h0M140.7 400.4h0M138.9 398.3h0M140.7 399.5h0M142.4 401.4h0M138.8 398.9h0M140.4 398.4h0M139.8 398.2h0M141.5 400.6h0M141.4 400.3h0M140.3 399.4h0M142.3 401.7h0M142.3 399.6h0M140.3 399.7h0M141.8 400.5h0M140.6 399.0h0M140.8 399.8h0M127.2 409.2h0M126.9 409.0h0M127.1 409.1h0M127.2 409.7h0M126.4 408.0h0M127.5 408.7h0M126.9 409.1h0M125.9 411.7h0M127.5 409.7h0M126.4 410.4h0M127.3 409.4h0M125.0 408.9h0M128.0 407.7h0M125.8 407.6h0M125.1 410.2h0M128.3 388.8h0M127.3 390.0h0M127.6 387.9h0M128.3 389.9h0M128.1 389.7h0M128.1 389.2h0M128.8 390.1h0M126.1 389.4h0M144.1 424.1h0M147.6 421.9h0M139.3 424.6h0M151.4 420.1h0M146.2 422.6h0M141.8 423.9h0M152.5 420.1h0M151.1 420.4h0M147.3 421.4h0M143.3 424.7h0M148.1 421.1h0M152.0 420.3h0M142.9 424.0h0M145.1 422.7h0M145.0 424.3h0M144.6 423.2h0M150.5 420.6h0M145.3 423.3h0M150.2 421.8h0M140.3 423.7h0M150.5 420.0h0M149.7 420.3h0M149.0 421.2h0M146.6 422.6h0M139.8 425.1h0M146.4 463.4h0M146.0 463.4h0M149.9 469.7h0M148.5 467.7h0M146.3 463.5h0M149.0 468.5h0M149.8 470.1h0M148.9 468.4h0M146.2 464.0h0M147.0 465.8h0M148.7 467.7h0M145.5 463.6h0M146.2 463.7h0M148.7 468.0h0M146.3 464.0h0M149.3 466.1h0M145.5 463.5h0M147.1 466.9h0M155.6 479.2h0M152.4 476.7h0M155.0 478.4h0M153.2 476.2h0M154.8 479.2h0M156.6 479.5h0M153.4 477.9h0M155.7 478.2h0M156.8 479.7h0M153.2 476.2h0M152.7 475.7h0M154.5 477.0h0M153.4 477.2h0M153.6 475.5h0M152.9 475.1h0M166.7 477.3h0M171.5 481.3h0M173.1 481.4h0M172.0 480.7h0M174.7 480.5h0M167.5 477.7h0M169.4 479.8h0M171.5 479.4h0M175.2 481.3h0M171.2 480.4h0M165.9 478.2h0M175.6 482.3h0M168.1 479.1h0M174.9 481.6h0M173.2 480.4h0M167.0 476.9h0M167.8 479.2h0M166.2 477.4h0M121.2 489.5h0M117.5 484.0h0M118.9 488.2h0M118.5 486.3h0M119.2 487.8h0M119.5 487.2h0M118.5 485.4h0M120.8 487.9h0M118.0 485.0h0M121.7 490.0h0M120.7 487.5h0M118.2 485.9h0M120.4 487.6h0M121.8 489.1h0M163.0 457.0h0M165.6 456.7h0M161.3 455.1h0M167.6 458.6h0M168.5 458.5h0M166.5 457.4h0M160.6 456.7h0M171.9 460.5h0M171.6 460.4h0M168.2 458.5h0M165.6 457.1h0M167.6 457.8h0M163.3 456.4h0M161.4 455.4h0M165.8 457.3h0M166.0 457.4h0M166.8 458.0h0M164.0 457.1h0M167.4 458.1h0M167.1 458.5h0M175.8 395.7h0M170.6 393.5h0M173.9 397.7h0M175.8 403.3h0M177.9 387.4h0M175.8 398.1h0M175.5 401.2h0M173.4 394.2h0M174.9 394.9h0M174.3 391.4h0M176.6 399.0h0M174.8 394.5h0M179.5 398.2h0M175.9 396.5h0M172.4 403.0h0M173.5 394.7h0M174.8 393.2h0M170.1 394.3h0M176.0 396.5h0M172.8 400.3h0M175.2 395.6h0M172.2 397.5h0M173.3 394.9h0M172.5 396.1h0M174.3 395.9h0M173.8 397.7h0M169.2 397.5h0M172.1 396.7h0M176.1 395.4h0M177.3 396.1h0M173.7 393.1h0M174.1 392.5h0M178.9 396.1h0M180.0 393.5h0M174.6 397.7h0M175.8 395.7h0M177.0 398.8h0M173.4 396.9h0M177.4 391.9h0M174.9 390.3h0M174.4 399.5h0M177.5 396.1h0M181.5 393.9h0M172.8 396.5h0M171.3 393.3h0M173.4 394.4h0M176.9 390.2h0M176.0 396.9h0M178.5 394.6h0M176.7 395.4h0M176.0 390.8h0M172.5 397.4h0M176.2 398.3h0M171.2 396.2h0M175.1 397.1h0M173.1 396.3h0M171.6 398.4h0M173.5 397.4h0M173.0 400.7h0M173.9 398.5h0M172.6 389.9h0M175.5 399.0h0M171.7 399.1h0M174.0 395.3h0M176.0 398.2h0M176.4 401.3h0M170.8 395.1h0M171.8 403.4h0M173.8 392.9h0M175.6 402.1h0M167.1 397.2h0M169.9 400.9h0M172.1 394.1h0M173.7 400.3h0M175.9 399.6h0M176.0 394.7h0M175.3 388.1h0M180.4 392.3h0M181.5 400.3h0M170.2 397.4h0M171.9 394.1h0M173.9 395.1h0M172.4 395.4h0M175.7 396.4h0M172.7 393.5h0M176.0 398.3h0M177.1 395.4h0M172.6 386.7h0M175.1 392.7h0M175.7 391.1h0M175.5 390.9h0M176.7 396.3h0M174.5 391.8h0M174.4 389.4h0M176.9 391.9h0M172.6 393.9h0M172.8 396.3h0M178.2 394.7h0M174.1 394.8h0M173.4 391.9h0M174.6 395.2h0M172.2 392.6h0M177.3 391.9h0M173.0 391.8h0M170.5 393.7h0M168.8 392.4h0M173.6 389.2h0M170.8 397.8h0M175.6 398.2h0M174.5 398.6h0M173.4 396.2h0M171.6 401.2h0M176.5 399.4h0M177.7 392.3h0M172.7 396.9h0M174.2 392.7h0M175.7 397.2h0M174.8 402.7h0M171.5 401.3h0M171.7 399.8h0M172.1 402.6h0M172.3 394.0h0M174.7 396.7h0M176.2 392.5h0M176.5 392.0h0M174.3 399.8h0M175.1 393.9h0M173.2 396.7h0M178.3 401.7h0M170.2 391.1h0M174.1 400.2h0M171.8 397.7h0M174.4 395.8h0M175.4 396.0h0M173.4 395.5h0M174.3 395.7h0M176.7 399.6h0M171.8 399.0h0M177.8 395.2h0M177.1 392.4h0M177.0 392.2h0M171.3 390.3h0M176.4 398.0h0M172.8 392.8h0M177.6 397.2h0M175.6 395.0h0M176.9 396.6h0M176.1 395.8h0M170.7 395.0h0M178.7 391.6h0M173.6 388.8h0M175.0 394.0h0M179.0 391.5h0M181.5 394.1h0M171.9 399.7h0M176.6 397.4h0M177.4 397.7h0M173.3 393.6h0M176.7 393.2h0M172.0 393.6h0M174.0 395.6h0M170.0 393.5h0M171.3 391.8h0M177.6 395.6h0M175.3 394.1h0M175.3 400.0h0M172.3 395.5h0M173.5 394.8h0M174.4 395.8h0M174.1 396.6h0M174.7 393.7h0M173.4 394.4h0M170.5 397.2h0M174.8 400.0h0M173.8 396.3h0M177.4 399.3h0M173.2 397.0h0M171.0 394.5h0M174.7 393.1h0M172.4 393.6h0M176.0 394.8h0M171.1 396.2h0M175.2 395.6h0M176.0 393.6h0M174.2 397.2h0M175.3 398.9h0M175.9 400.6h0M176.7 399.7h0M172.4 394.7h0M172.3 394.5h0M173.9 390.6h0M176.1 394.2h0M176.9 397.9h0M172.6 399.0h0M176.9 398.3h0M179.2 398.3h0M169.8 398.4h0M174.2 389.1h0M173.7 395.2h0M176.1 394.5h0M173.0 392.3h0M175.0 396.9h0M170.2 399.8h0M170.7 396.0h0M172.5 390.8h0M172.5 393.1h0M172.0 397.3h0M175.9 398.3h0M175.1 395.9h0M171.4 392.7h0M174.5 392.9h0M174.9 395.3h0M174.1 392.6h0M174.3 396.5h0M175.9 396.0h0M174.1 394.2h0M174.4 393.0h0M169.1 390.7h0M173.4 396.8h0M174.1 395.0h0M164.7 407.3h0M162.4 407.1h0M166.0 404.3h0M166.3 405.7h0M171.7 400.7h0M165.1 406.1h0M169.6 407.6h0M170.7 401.1h0M166.6 406.1h0M167.1 408.7h0M165.9 401.5h0M169.4 408.3h0M166.3 406.5h0M169.7 403.0h0M173.6 400.2h0M171.1 404.0h0M166.4 405.8h0M171.8 403.2h0M174.5 403.5h0M164.2 406.9h0M168.3 400.9h0M166.8 407.1h0M169.8 403.0h0M168.2 403.4h0M168.9 403.5h0M164.6 410.5h0M173.8 401.1h0M174.5 400.5h0M165.8 405.9h0M167.9 403.6h0M167.9 404.8h0M167.2 404.8h0M168.7 402.6h0M166.4 405.2h0M171.5 402.5h0M163.6 405.7h0M169.1 405.6h0M164.9 409.6h0M170.8 404.1h0M165.6 405.5h0M172.8 400.1h0M172.8 402.1h0M164.8 407.2h0M167.5 407.3h0M168.5 403.9h0M164.6 404.7h0M169.1 405.0h0M174.3 401.1h0M167.8 403.5h0M164.9 413.6h0M169.0 403.7h0M171.8 401.2h0M168.8 404.2h0M168.6 407.2h0M169.8 401.7h0M162.2 411.2h0M164.4 407.4h0M173.6 404.2h0M172.6 405.1h0M169.1 404.3h0M169.4 403.7h0M163.7 407.5h0M171.8 404.5h0M172.5 401.0h0M169.0 406.4h0M172.3 400.9h0M165.3 402.8h0M168.7 401.1h0M171.4 405.9h0M163.5 403.1h0M168.3 403.8h0M171.7 405.7h0M165.2 406.2h0M172.5 399.6h0M175.4 404.9h0M166.5 406.9h0M168.7 403.4h0M161.7 406.5h0M172.9 401.4h0M163.5 409.8h0M169.4 405.1h0M169.8 405.0h0M165.4 405.5h0M170.2 404.2h0M168.1 403.8h0M161.4 408.1h0M163.9 407.7h0M165.1 406.1h0M170.3 404.1h0M171.6 401.1h0M167.2 406.3h0M170.3 400.8h0M167.2 404.4h0M165.8 407.8h0M167.6 406.7h0M168.9 406.6h0M169.8 404.1h0M165.1 407.6h0M167.3 406.1h0M170.6 402.3h0M174.1 399.7h0M165.9 403.8h0M173.0 403.8h0M170.9 403.5h0M165.3 408.0h0M171.8 405.0h0M168.5 403.8h0M172.5 403.3h0M164.9 410.1h0M165.8 402.9h0M168.3 400.1h0M163.1 405.9h0M169.1 400.7h0M168.7 407.2h0M165.4 405.1h0M164.7 406.9h0M172.7 400.1h0M169.8 401.7h0M167.2 404.9h0M169.5 399.4h0M172.7 401.0h0M166.5 405.6h0M164.6 407.4h0M172.1 407.5h0M169.3 403.7h0M166.6 406.1h0M172.3 400.9h0M171.1 404.0h0M162.9 407.4h0M171.1 406.1h0M165.6 405.8h0M164.0 406.1h0M169.6 403.9h0M173.7 402.8h0M171.4 405.5h0M171.5 401.5h0M165.3 406.4h0M166.9 405.2h0M163.1 407.5h0M169.3 405.7h0M172.9 402.1h0M164.5 409.5h0M170.3 402.7h0M164.5 405.3h0M161.1 406.3h0M170.9 405.0h0M164.9 409.0h0M170.6 407.8h0M166.0 409.9h0M168.3 402.3h0M171.9 402.1h0M171.9 402.2h0M170.6 399.3h0M163.8 402.6h0M166.1 405.4h0M172.9 402.8h0M164.7 409.1h0M165.9 409.0h0M161.1 409.0h0M169.5 405.3h0M167.0 404.8h0M171.1 404.3h0M162.8 409.5h0M166.1 404.8h0M166.2 404.6h0M169.1 403.7h0M173.7 403.9h0M167.0 403.7h0M162.8 405.9h0M169.5 401.8h0M166.2 404.8h0M170.8 406.6h0M165.2 406.6h0M161.9 408.5h0M166.4 404.9h0M167.7 406.6h0M161.8 411.1h0M164.0 404.7h0M166.7 409.0h0M166.1 405.7h0M166.2 403.6h0M167.1 407.1h0M170.4 405.9h0M165.2 408.2h0M169.9 400.4h0M168.7 402.6h0M167.7 404.4h0M166.7 406.3h0M163.7 406.5h0M168.8 407.8h0M171.3 402.5h0M171.5 402.0h0M168.7 401.3h0M173.0 404.9h0M164.8 404.8h0M164.3 405.5h0M164.9 409.4h0M170.7 400.7h0M167.7 400.6h0M171.1 404.7h0M168.1 406.7h0M166.4 403.2h0M163.8 405.8h0M174.5 400.0h0M168.1 404.7h0M172.0 402.8h0M174.9 398.3h0M166.4 407.0h0M170.8 402.4h0M171.1 403.2h0M172.9 404.1h0M171.0 401.4h0M162.5 408.1h0M163.5 407.6h0M171.5 407.9h0M163.8 407.8h0M167.6 399.1h0M167.8 403.0h0M162.4 408.7h0M164.0 408.9h0M189.9 407.5h0M193.8 409.2h0M186.1 406.1h0M184.8 410.0h0M194.7 406.8h0M180.8 406.8h0M197.3 407.6h0M195.5 412.8h0M196.2 414.7h0M183.5 404.3h0M180.2 403.7h0M196.4 406.4h0M191.1 407.8h0M186.0 405.7h0M193.6 410.0h0M185.9 406.7h0M183.3 406.9h0M193.8 408.1h0M180.1 401.7h0M190.2 406.0h0M194.3 405.6h0M195.4 406.8h0M188.3 407.0h0M194.3 408.2h0M182.3 405.0h0M188.6 406.5h0M186.5 409.8h0M188.8 406.9h0M191.2 409.7h0M183.7 404.7h0M189.2 405.3h0M196.1 411.1h0M194.4 408.8h0M183.8 405.2h0M184.0 407.1h0M183.9 406.5h0M195.5 408.7h0M187.2 405.4h0M195.9 409.7h0M189.0 411.1h0M191.0 408.0h0M189.8 407.4h0M183.7 406.8h0M191.8 410.3h0M196.7 409.2h0M186.6 407.0h0M188.5 409.2h0M178.0 402.0h0M190.4 405.5h0M192.1 408.5h0M193.1 408.4h0M192.9 406.3h0M182.4 406.1h0M187.7 408.3h0M196.2 412.8h0M182.8 403.7h0M184.9 405.2h0M186.2 407.1h0M189.2 407.1h0M180.7 403.2h0M195.2 410.6h0M193.9 407.6h0M186.8 406.2h0M187.2 408.6h0M182.3 404.9h0M192.1 408.0h0M179.3 403.0h0M181.3 404.4h0M190.7 408.8h0M177.8 403.9h0M192.5 409.0h0M180.1 407.2h0M195.3 411.2h0M178.0 402.8h0M192.7 407.2h0M186.4 403.7h0M196.0 409.0h0M178.8 404.6h0M194.9 408.2h0M184.6 404.9h0M195.2 410.4h0M192.5 405.8h0M192.2 410.8h0M185.0 407.2h0M193.0 411.6h0M188.2 410.9h0M184.3 408.0h0M191.1 409.4h0M183.8 407.3h0M185.4 404.8h0M193.1 409.8h0M188.3 404.4h0M184.0 406.8h0M185.6 406.2h0M192.0 406.7h0M195.8 412.3h0M184.6 410.1h0M186.6 407.1h0M196.3 410.4h0M195.0 412.0h0M192.5 410.7h0M189.0 409.0h0M185.9 405.7h0M186.2 409.0h0M180.0 400.6h0M176.5 405.9h0M194.8 406.1h0M187.6 404.2h0M195.0 407.9h0M176.1 405.1h0M186.4 406.0h0M192.5 407.9h0M187.2 406.9h0M181.8 404.3h0M197.9 412.0h0M179.4 406.0h0M195.9 408.6h0M180.3 403.6h0M198.3 408.1h0M188.8 409.6h0M183.7 407.2h0M193.0 409.1h0M185.1 406.0h0M194.9 411.9h0M182.9 402.9h0M181.4 404.7h0M188.0 408.9h0M188.9 410.9h0M186.7 408.0h0M183.4 406.7h0M187.4 403.5h0M183.0 406.6h0M183.9 403.9h0M198.3 410.2h0M191.2 408.9h0M185.5 407.9h0M184.7 408.6h0M195.2 409.6h0M188.3 408.9h0M184.9 403.1h0M179.0 405.8h0M178.1 405.5h0M193.6 409.9h0M186.2 406.4h0M189.9 410.5h0M193.7 414.5h0M177.9 403.1h0M179.4 404.0h0M181.8 406.5h0M188.5 406.5h0M182.9 404.3h0M187.9 413.3h0M186.0 407.2h0M186.7 405.3h0M184.6 404.4h0M195.3 408.8h0M188.7 404.7h0M189.3 409.4h0M191.0 411.3h0M181.5 404.8h0M183.1 404.4h0M190.4 408.4h0M178.7 401.4h0M189.0 410.6h0M190.6 407.3h0M187.0 408.7h0M195.4 411.8h0M184.3 406.6h0M188.8 407.8h0M194.1 409.0h0M196.7 410.3h0M178.8 401.8h0M184.9 407.8h0M182.9 402.5h0M186.5 409.1h0M189.7 407.3h0M191.1 409.5h0M192.6 407.5h0M194.3 411.1h0M185.0 406.5h0M193.4 408.3h0M180.2 404.9h0M186.1 405.1h0M192.2 412.0h0M183.4 408.3h0M192.6 408.3h0M196.6 408.6h0M178.7 408.3h0M192.6 407.8h0M181.7 403.0h0M183.9 405.5h0M194.6 412.4h0M181.1 409.1h0M196.0 409.2h0M179.2 406.7h0M181.6 406.0h0M188.3 408.7h0M193.2 408.4h0M190.4 412.5h0M191.4 408.4h0M182.5 403.4h0M184.4 405.8h0M189.0 408.3h0M187.6 403.7h0M182.5 410.1h0M195.2 408.9h0M178.6 407.0h0M186.5 409.8h0M188.0 410.5h0M191.0 408.7h0M190.0 407.3h0M190.8 406.1h0M188.5 407.6h0M194.6 410.3h0M190.7 407.5h0M187.3 408.3h0M188.6 406.0h0M180.7 405.2h0M182.3 407.2h0M188.5 404.5h0M193.3 406.1h0M186.8 408.7h0M183.9 402.8h0M180.6 406.8h0M189.3 411.9h0M191.0 410.7h0M183.4 409.2h0M184.5 405.8h0M191.2 406.8h0M191.3 408.6h0M182.9 407.9h0M185.9 404.9h0M187.8 409.7h0M182.8 405.6h0M192.0 410.7h0M190.0 404.7h0M179.8 407.7h0M176.2 404.8h0M185.4 405.3h0M182.8 408.3h0M182.3 405.0h0M184.3 408.3h0M190.0 407.8h0M187.9 407.2h0M191.1 411.6h0M182.9 404.6h0M187.6 406.5h0M185.0 406.2h0M188.3 405.9h0M184.3 404.3h0M189.8 408.2h0M195.9 411.2h0M187.0 408.2h0M188.4 407.9h0M190.8 408.3h0M184.8 408.9h0M186.1 409.7h0M179.7 405.8h0M196.6 407.0h0M194.6 409.3h0M153.0 434.8h0M154.0 433.5h0M155.5 433.8h0M155.2 432.3h0M152.4 434.1h0M153.2 434.0h0M156.6 433.4h0M149.2 435.9h0M156.9 432.0h0M152.7 435.8h0M151.2 435.5h0M155.4 433.0h0M155.8 432.9h0M154.2 433.9h0M151.8 435.3h0M157.1 432.4h0M152.2 436.2h0M154.1 434.0h0M156.0 432.7h0M156.4 432.8h0M151.7 435.8h0M156.5 432.5h0M153.5 434.3h0M151.8 435.4h0M157.7 432.8h0M165.6 425.6h0M168.7 424.9h0M165.8 424.4h0M169.2 425.3h0M169.2 424.0h0M170.2 425.1h0M164.7 425.4h0M168.5 425.1h0M171.2 425.6h0M165.1 425.0h0M167.4 424.6h0M166.7 425.0h0M167.6 424.5h0M168.7 426.0h0M168.3 424.8h0M171.3 425.6h0M164.3 425.3h0M172.2 424.8h0M166.3 424.0h0M169.1 425.1h0M182.8 433.4h0M183.7 433.0h0M185.0 434.1h0M182.0 433.3h0M183.4 432.9h0M179.6 431.8h0M179.6 432.2h0M181.5 431.8h0M180.9 431.7h0M181.4 432.1h0M183.4 433.1h0M182.7 432.8h0M184.2 433.1h0M184.5 433.0h0M180.6 432.3h0M179.7 431.8h0M179.9 432.0h0M181.5 432.2h0M185.6 433.6h0M182.7 433.7h0M194.6 422.4h0M193.1 422.4h0M194.4 421.0h0M195.1 421.9h0M193.5 421.3h0M197.1 420.5h0M194.1 421.4h0M192.7 423.1h0M194.4 421.4h0M195.6 421.1h0M196.9 420.2h0M190.4 423.5h0M235.5 413.9h0M213.4 432.0h0M215.9 431.0h0M220.2 429.5h0M211.4 432.0h0M239.4 404.2h0M235.8 422.7h0M238.3 420.7h0M224.1 426.0h0M238.9 416.8h0M238.4 414.0h0M222.0 429.4h0M235.2 417.9h0M237.5 402.7h0M236.7 416.7h0M240.1 410.6h0M216.1 431.7h0M211.9 431.9h0M236.7 407.4h0M233.7 423.3h0M238.7 417.5h0M234.1 424.8h0M238.1 407.9h0M234.4 422.8h0M228.5 424.2h0M213.5 431.7h0M226.5 423.0h0M238.8 403.3h0M229.2 421.9h0M240.4 410.1h0M231.0 425.5h0M233.9 418.5h0M227.4 423.4h0M216.8 431.4h0M235.5 413.2h0M236.1 416.5h0M239.7 408.0h0M216.4 430.6h0M210.2 432.4h0M238.7 417.6h0M238.6 404.3h0M230.5 425.6h0M228.0 428.2h0M215.4 431.9h0M237.8 404.9h0M236.7 408.5h0M234.1 417.7h0M230.2 418.7h0M210.8 432.6h0M231.7 417.2h0M230.9 419.6h0M225.2 423.6h0M222.1 429.2h0M234.0 422.3h0M240.8 410.9h0M238.3 417.6h0M226.1 425.0h0M213.9 431.2h0M220.7 430.5h0M231.2 419.8h0M238.6 403.8h0M212.9 432.0h0M240.5 415.3h0M213.8 431.5h0M219.3 427.9h0M218.8 431.2h0M226.5 424.8h0M221.4 426.1h0M211.5 432.3h0M233.8 414.3h0M211.3 432.5h0M233.6 415.2h0M226.4 427.3h0M218.8 431.4h0M234.5 421.9h0M239.0 407.0h0M238.6 405.2h0M213.3 431.2h0M212.5 431.5h0M215.8 429.7h0M219.5 430.3h0M224.7 426.3h0M230.0 420.4h0M240.6 410.3h0M239.7 412.5h0M236.1 412.5h0M216.9 431.5h0M214.0 431.4h0M225.1 429.0h0M237.2 409.5h0M219.8 427.4h0M238.3 404.5h0M222.4 429.5h0M229.3 425.7h0M227.5 428.2h0M235.8 414.4h0M232.1 419.5h0M210.7 432.2h0M227.0 425.8h0M220.0 428.8h0M238.2 418.5h0M233.3 413.8h0M232.7 424.6h0M226.1 426.1h0M236.9 413.8h0M225.4 423.9h0M240.1 407.0h0M228.2 420.9h0M211.0 432.1h0M228.8 427.2h0M218.5 429.4h0M239.0 407.2h0M213.1 431.8h0M229.0 426.5h0M219.7 430.0h0M222.9 427.8h0M215.4 431.8h0M210.0 432.8h0M223.9 426.8h0M238.1 408.4h0M239.6 406.9h0M215.3 431.9h0M224.0 429.0h0M222.9 427.0h0M223.1 429.5h0M231.1 420.4h0M216.4 430.2h0M236.0 422.0h0M224.0 428.9h0M224.8 424.5h0M220.7 430.1h0M236.6 416.6h0M210.8 432.4h0M237.6 402.5h0M235.8 421.0h0M235.8 411.3h0M235.9 412.4h0M216.9 431.3h0M239.8 406.9h0M239.1 407.0h0M239.2 413.7h0M233.0 418.1h0M237.5 421.0h0M226.3 424.3h0M216.5 431.7h0M237.8 403.4h0M218.6 431.0h0M237.5 404.0h0M215.1 430.3h0M214.0 431.3h0M232.8 421.3h0M237.4 405.4h0M235.0 411.6h0M215.3 430.9h0M234.7 413.3h0M238.8 410.8h0M239.4 407.3h0M239.4 411.1h0M221.8 426.1h0M221.8 426.0h0M216.9 431.7h0M224.6 429.2h0M240.3 411.2h0M236.6 413.1h0M228.9 420.7h0M239.6 415.9h0M237.9 419.8h0M237.8 408.7h0M228.6 420.2h0M238.9 414.3h0M233.7 413.1h0M217.0 431.4h0M223.8 428.9h0M212.5 431.6h0M239.2 408.4h0M230.1 427.8h0M238.0 405.5h0M216.0 429.9h0M236.5 409.0h0M214.9 431.9h0M235.2 420.4h0M225.1 424.0h0M227.3 423.7h0M238.0 406.5h0M217.8 429.0h0M237.7 404.0h0M228.8 424.7h0M218.5 430.1h0M234.9 424.0h0M232.5 416.3h0M240.7 409.8h0M233.0 420.1h0M212.5 431.6h0M239.3 413.2h0M236.8 402.1h0M240.1 407.9h0M221.7 431.0h0M220.4 427.2h0M238.5 404.3h0M227.4 427.6h0M214.0 430.6h0M232.1 424.8h0M237.0 404.3h0M226.7 429.3h0M240.4 411.4h0M237.7 402.9h0M238.5 407.0h0M239.2 410.8h0M210.8 431.8h0M237.7 408.6h0M239.6 409.7h0M232.6 415.1h0M232.6 420.6h0M222.8 428.5h0M227.2 425.1h0M220.3 430.7h0M237.1 415.0h0M236.7 401.3h0M225.0 428.3h0M236.5 405.9h0M218.4 431.3h0M230.1 425.8h0M238.4 404.1h0M222.7 426.5h0M234.5 412.0h0M231.3 426.0h0M229.1 420.5h0M237.6 417.6h0M241.3 412.2h0M223.8 428.2h0M238.2 403.0h0M218.1 429.4h0M236.8 415.5h0M240.2 412.6h0M234.2 417.7h0M236.9 406.6h0M225.2 427.8h0M215.9 430.0h0M218.0 429.7h0M218.4 430.4h0M238.1 411.0h0M235.0 416.1h0M227.6 425.0h0M238.1 404.3h0M221.6 430.1h0M209.6 432.2h0M213.4 430.8h0M230.6 425.0h0M214.6 431.7h0M222.7 430.2h0M233.4 416.9h0M240.4 409.3h0M236.9 408.0h0M239.1 413.9h0M213.1 432.0h0M236.5 407.8h0M210.2 432.7h0M227.1 425.7h0M213.4 431.3h0M230.6 421.6h0M241.2 411.4h0M234.9 417.6h0M238.2 419.0h0M240.3 411.1h0M220.0 430.9h0M237.8 402.9h0M213.2 431.6h0M232.5 417.6h0M225.3 427.9h0M236.7 410.7h0M230.8 420.0h0M215.3 430.8h0M238.9 403.8h0M239.3 409.2h0M214.1 431.7h0M215.5 432.0h0M235.6 415.1h0M209.7 432.1h0M235.5 419.2h0M239.9 407.3h0M219.5 427.6h0M210.9 432.1h0M233.7 416.4h0M221.5 429.7h0M221.4 427.1h0M241.0 411.5h0M228.6 420.2h0M231.5 423.0h0M217.0 431.6h0M236.1 416.6h0M222.0 428.1h0M213.4 431.9h0M236.6 404.6h0M220.8 430.7h0M238.5 409.2h0M239.0 406.7h0M239.4 411.2h0M235.2 416.5h0M224.5 427.4h0M239.6 405.4h0M238.3 404.7h0M237.6 411.8h0M216.8 431.6h0M236.0 411.9h0M228.1 425.5h0M213.0 431.5h0M236.7 412.1h0M239.5 412.0h0M238.2 402.9h0M210.6 432.4h0M230.4 427.1h0M214.4 431.8h0M238.8 406.4h0M217.2 431.2h0M238.7 416.0h0M228.7 422.0h0M214.9 430.8h0M240.8 414.4h0M227.6 426.3h0M240.1 410.3h0M239.9 412.1h0M237.6 407.9h0M227.3 423.7h0M238.3 405.2h0M233.3 418.9h0M238.4 406.3h0M235.0 423.9h0M222.0 430.6h0M239.0 409.4h0M225.7 425.4h0M239.3 416.9h0M222.5 427.6h0M216.7 429.6h0M224.2 424.8h0M220.8 428.6h0M217.9 431.5h0M228.5 424.1h0M234.4 419.8h0M211.9 432.0h0M238.6 417.9h0M239.8 407.8h0M235.5 419.3h0M209.2 432.2h0M228.5 420.7h0M221.8 426.7h0M237.0 405.2h0M237.9 416.8h0M215.3 431.4h0M238.9 417.6h0M232.3 417.9h0M241.0 411.2h0M237.4 411.2h0M214.9 430.5h0M239.9 410.8h0M217.3 430.9h0M237.6 405.4h0M210.7 431.8h0M235.6 419.7h0M239.0 407.9h0M211.4 432.2h0M211.5 432.1h0M239.1 407.3h0M234.0 418.9h0M211.5 432.1h0M233.2 425.0h0M237.1 403.5h0M232.8 417.7h0M236.9 404.0h0M229.1 426.8h0M231.2 417.9h0M211.0 432.0h0M225.7 427.6h0M220.8 429.4h0M217.9 428.5h0M211.4 432.2h0M220.7 430.4h0M234.4 419.3h0M233.9 412.7h0M237.8 403.7h0M236.1 421.1h0M235.2 417.7h0M229.3 421.2h0M228.1 426.0h0M226.4 424.8h0M218.6 429.7h0M237.5 406.9h0M228.3 422.1h0M219.8 428.1h0M234.0 416.0h0M213.4 431.6h0M239.2 404.1h0M229.6 424.0h0M212.6 431.8h0M226.9 423.0h0M233.4 419.6h0M232.3 421.1h0M237.8 420.1h0M234.4 424.3h0M214.7 431.0h0M238.6 406.7h0M210.2 432.4h0M213.4 431.8h0M221.3 430.2h0M239.7 406.7h0M241.1 410.6h0M216.6 430.3h0M240.5 411.7h0M234.6 421.8h0M237.1 406.5h0M239.6 408.0h0M216.1 431.3h0M230.3 417.7h0M221.3 427.7h0M214.9 431.3h0M211.6 431.6h0M234.8 410.7h0M209.8 432.5h0M230.6 418.4h0M238.3 404.9h0M237.0 404.6h0M217.2 430.1h0M234.0 412.2h0M219.4 429.3h0M213.2 431.7h0M223.5 426.3h0M237.0 405.8h0M229.9 423.9h0M238.3 413.5h0M222.0 430.2h0M233.3 416.0h0M235.6 415.4h0M233.3 416.9h0M213.9 430.9h0M218.2 428.4h0M235.1 411.5h0M220.5 430.9h0M214.5 431.0h0M223.6 428.6h0M236.5 405.2h0M239.3 416.2h0M239.3 405.1h0M239.1 416.0h0M227.2 423.8h0M214.8 430.7h0M226.0 422.8h0M210.0 432.7h0M236.2 410.1h0M216.6 431.9h0M223.6 426.5h0M234.8 412.7h0M218.0 430.8h0M238.8 412.2h0M215.9 429.9h0M240.0 409.0h0M217.4 430.5h0M227.1 428.7h0M239.5 409.4h0M230.5 417.4h0M234.9 419.5h0M211.7 432.4h0M238.8 411.9h0M229.6 419.5h0M216.1 430.9h0M225.3 426.1h0M234.3 413.6h0M213.9 431.9h0M237.2 417.1h0M217.9 430.3h0M234.8 419.3h0M228.6 424.8h0M239.0 407.1h0M236.0 416.3h0M225.5 428.2h0M236.8 417.4h0M236.6 406.7h0M237.3 403.9h0M228.4 420.5h0M238.3 407.4h0M234.4 412.8h0M234.1 424.7h0M230.8 418.3h0M230.4 425.6h0M229.7 426.1h0M237.5 403.6h0M237.7 406.1h0M220.9 428.6h0M227.2 423.9h0M218.9 430.1h0M214.6 431.0h0M215.4 430.9h0M239.5 415.3h0M236.6 414.5h0M240.0 408.9h0M226.5 424.1h0M216.1 430.1h0M218.2 431.6h0M216.0 430.4h0M235.5 421.3h0M237.2 404.0h0M223.6 427.6h0M218.9 429.1h0M237.1 417.7h0M231.2 424.7h0M224.1 425.1h0M233.1 416.5h0M219.4 429.0h0M227.3 428.1h0M210.8 432.4h0M225.6 427.6h0M224.8 427.1h0M214.7 431.2h0M224.9 429.3h0M238.4 416.7h0M230.0 424.6h0M232.3 422.3h0M227.1 422.9h0M234.7 418.3h0M235.8 409.0h0M223.5 427.3h0M231.5 427.0h0M238.8 413.3h0M234.3 424.4h0M213.6 431.9h0M220.1 430.8h0M232.2 416.1h0M236.9 404.0h0M230.5 421.2h0M224.0 428.1h0M237.2 415.6h0M236.7 401.7h0M214.1 431.6h0M231.2 426.0h0M237.7 407.2h0M231.5 424.0h0M231.2 423.2h0M222.0 429.9h0M238.6 410.6h0M224.2 424.6h0M237.6 406.6h0M232.9 418.1h0M211.6 432.1h0M221.2 427.8h0M216.1 431.3h0M212.8 432.0h0M215.1 430.2h0M221.8 430.3h0M235.2 420.5h0M234.0 414.0h0M238.5 415.6h0M236.4 412.4h0M234.7 412.7h0M232.8 417.8h0M235.7 417.4h0M239.3 406.7h0M239.2 408.4h0M227.2 427.1h0M218.7 431.3h0M229.9 419.9h0M227.6 428.0h0M225.9 427.4h0M223.5 429.0h0M225.6 428.4h0M218.7 431.3h0M229.2 420.7h0M211.2 432.1h0M238.2 409.0h0M219.1 427.9h0M237.7 402.6h0M211.6 432.4h0M231.9 426.4h0M230.1 422.2h0M236.6 402.7h0M216.4 430.8h0M211.2 432.2h0M236.8 404.5h0M213.4 431.3h0M228.7 421.7h0M231.0 426.2h0M236.7 401.4h0M223.1 425.7h0M219.1 430.6h0M224.9 427.4h0M211.6 432.4h0M213.8 431.9h0M237.1 405.3h0M223.7 427.3h0M226.9 423.7h0M239.7 405.4h0M236.8 404.0h0M220.4 429.2h0M213.5 432.0h0M239.1 418.6h0M227.3 429.0h0M228.5 424.3h0M237.2 418.3h0M215.1 430.5h0M225.4 423.5h0M229.6 426.1h0M221.6 427.6h0M238.7 405.3h0M220.3 431.0h0M222.8 426.3h0M237.1 411.3h0M239.7 416.1h0M238.5 413.6h0M234.4 420.6h0M236.0 421.8h0M237.7 406.2h0M232.6 418.5h0M238.4 420.3h0M218.9 428.0h0M209.8 432.7h0M236.5 412.7h0M234.6 413.1h0M230.2 427.5h0M221.7 427.5h0M211.1 431.9h0M212.4 431.7h0M239.0 412.7h0M238.9 419.8h0M211.0 432.3h0M239.5 405.6h0M216.3 431.3h0M236.8 412.8h0M229.1 427.6h0M228.5 424.4h0M228.7 427.3h0M238.3 404.9h0M228.0 422.6h0M224.1 425.4h0M241.0 413.1h0M240.7 410.8h0M216.6 431.8h0M237.8 402.8h0M226.0 428.2h0M238.8 408.2h0M216.5 429.8h0M212.0 431.9h0M231.3 422.6h0M230.4 417.8h0M238.3 407.8h0M217.2 431.1h0M232.5 420.6h0M236.2 412.4h0M209.9 432.0h0M238.3 406.0h0M233.9 416.7h0M221.9 427.6h0M240.2 415.3h0M237.8 413.4h0M197.8 460.9h0M195.9 461.1h0M197.2 462.0h0M195.6 459.4h0M202.5 463.9h0M203.6 462.3h0M197.5 462.5h0M201.1 459.9h0M200.4 461.1h0M197.8 463.4h0M206.4 462.6h0M193.7 459.8h0M199.7 462.8h0M205.0 462.0h0M192.9 458.5h0M192.9 459.8h0M196.6 459.2h0M197.5 461.7h0M204.3 459.2h0M201.0 463.6h0M200.3 461.2h0M200.7 461.9h0M199.7 461.2h0M199.2 460.6h0M202.6 456.0h0M196.9 462.1h0M202.8 462.2h0M201.4 460.9h0M196.4 462.8h0M195.7 459.7h0M200.6 458.9h0M198.5 459.4h0M198.6 455.8h0M187.4 462.7h0M199.6 461.3h0M198.5 463.7h0M196.6 459.8h0M192.2 458.2h0M199.4 458.8h0M200.4 460.7h0M196.6 461.1h0M198.5 463.0h0M202.7 458.6h0M200.0 459.5h0M205.1 458.5h0M203.5 459.3h0M195.3 462.9h0M198.9 458.7h0M198.5 462.6h0M200.1 462.3h0M197.1 461.3h0M200.4 455.8h0M202.6 465.0h0M198.1 460.9h0M198.8 458.9h0M199.9 459.5h0M198.7 458.9h0M196.9 462.8h0M199.2 460.7h0M196.5 460.0h0M199.5 462.9h0M202.5 463.1h0M198.1 457.1h0M199.7 460.6h0M197.1 465.1h0M201.0 461.2h0M200.0 455.1h0M203.4 459.0h0M191.6 463.4h0M197.5 455.4h0M199.4 459.5h0M200.4 461.2h0M198.9 458.3h0M201.3 460.5h0M189.4 461.1h0M196.1 461.2h0M196.0 460.3h0M200.1 466.3h0M199.0 456.1h0M202.6 461.7h0M202.5 458.8h0M197.9 458.0h0M199.0 461.6h0M194.3 460.3h0M197.3 461.9h0M198.5 462.2h0M196.6 458.9h0M198.8 461.2h0M200.7 459.0h0M200.4 461.8h0M195.1 461.4h0M203.2 461.7h0M196.6 461.6h0M204.9 464.1h0M196.8 463.9h0M201.7 461.4h0M203.3 458.1h0M204.6 461.9h0M197.2 458.6h0M189.8 461.7h0M198.0 463.1h0M190.1 457.7h0M190.7 462.0h0M200.1 464.2h0M198.7 460.5h0M205.4 460.7h0M200.5 461.6h0M195.8 459.3h0M194.1 459.5h0M199.0 460.1h0M193.9 458.6h0M203.6 459.8h0M201.9 465.3h0M202.6 457.7h0M194.3 458.6h0M197.6 464.0h0M196.2 458.2h0M194.0 459.3h0M207.5 458.2h0M201.5 458.1h0M207.1 458.8h0M201.5 462.7h0M198.1 457.6h0M194.4 463.5h0M197.4 462.2h0M196.9 461.6h0M206.1 462.1h0M200.4 458.3h0M201.2 460.8h0M197.9 457.3h0M205.0 459.9h0M196.9 457.4h0M197.0 459.9h0M202.2 463.6h0M203.7 462.1h0M198.3 462.0h0M203.9 461.9h0M203.4 463.9h0M195.6 464.5h0M201.6 463.5h0M204.4 470.2h0M208.9 456.5h0M198.5 464.8h0M197.4 455.7h0M194.4 463.5h0M195.4 463.4h0M200.9 451.7h0M201.8 452.8h0M197.2 462.4h0M191.3 465.6h0M203.0 461.5h0M201.6 458.1h0M198.4 463.1h0M197.0 460.1h0M197.7 459.7h0M197.7 463.2h0M197.2 460.5h0M200.4 462.8h0M198.6 461.1h0M202.0 462.1h0M205.4 463.1h0M195.8 463.0h0M199.3 462.4h0M190.1 460.1h0M198.7 462.8h0M200.0 464.2h0M201.3 460.3h0M196.3 457.3h0M198.1 464.1h0M199.9 459.3h0M197.9 462.4h0M204.0 460.3h0M197.4 459.9h0M198.5 461.0h0M199.2 461.9h0M199.6 461.1h0M197.8 459.4h0M197.5 460.8h0M205.4 457.5h0M196.3 459.1h0M190.9 458.8h0M198.2 461.4h0M204.3 464.3h0M201.9 458.2h0M195.2 460.4h0M203.1 460.9h0M202.8 458.7h0M196.3 460.2h0M203.3 458.9h0M199.6 462.4h0M202.4 460.9h0M200.4 459.6h0M191.5 457.7h0M201.1 463.0h0M195.2 462.1h0M198.1 459.6h0M197.6 459.6h0M197.6 459.4h0M199.5 461.5h0M199.2 461.7h0M197.7 465.9h0M206.1 461.8h0M201.0 453.6h0M198.6 463.3h0M197.6 462.6h0M199.6 460.8h0M196.1 462.2h0M195.4 459.8h0M204.8 461.1h0M201.5 464.2h0M201.7 459.1h0M199.2 464.5h0M203.7 462.1h0M196.9 460.9h0M202.6 463.2h0M202.3 460.7h0M194.6 460.0h0M201.5 459.6h0M201.1 461.6h0M195.2 461.0h0M235.3 460.0h0M234.8 460.8h0M232.4 461.9h0M234.4 460.6h0M232.7 461.4h0M231.8 460.7h0M234.8 460.8h0M237.8 459.5h0M236.6 459.8h0M232.1 462.4h0M235.5 461.0h0M234.2 460.4h0M233.2 461.6h0M231.6 462.1h0M234.4 461.6h0M231.7 461.4h0M231.8 461.7h0M232.4 461.4h0M99.5 420.8h0M71.3 410.2h0M56.9 375.9h0M43.9 395.2h0M224.0 429.3h0M169.7 424.8h0M133.6 383.3h0M133.4 407.2h0M88.8 456.1h0M40.8 468.8h0M142.5 377.4h0M123.0 453.2h0M131.0 469.2h0M144.2 398.6h0M131.0 418.0h0" stroke="#4234a2" stroke-width="1.1" stroke-linecap="round"/>
<path d="M71.6 457.0h0M99.9 453.0h0M110.4 453.6h0M123.5 457.4h0M109.6 454.6h0M102.7 453.4h0M118.0 452.6h0M101.7 453.3h0M133.1 456.8h0M129.8 457.6h0M121.2 448.9h0M87.5 467.2h0M77.0 456.1h0M100.8 455.7h0M106.0 452.7h0M97.6 447.8h0M88.9 454.0h0M117.7 450.1h0M90.0 458.3h0M104.7 455.9h0M114.3 452.1h0M95.8 453.2h0M97.0 451.0h0M108.0 441.8h0M88.9 458.2h0M110.0 445.9h0M96.3 445.1h0M81.2 460.2h0M110.3 453.4h0M75.7 452.6h0M118.4 457.8h0M113.2 457.9h0M86.9 447.4h0M89.2 454.6h0M111.0 461.5h0M94.3 453.0h0M84.6 463.6h0M91.6 444.8h0M93.4 454.2h0M100.1 450.1h0M92.8 462.1h0M99.0 453.6h0M74.6 451.6h0M115.4 448.6h0M69.5 455.4h0M111.6 452.7h0M83.2 454.7h0M96.2 449.8h0M121.0 452.5h0M103.2 451.7h0M112.4 443.8h0M99.0 459.8h0M137.9 456.5h0M81.2 451.9h0M104.2 451.0h0M113.9 450.2h0M99.8 453.5h0M95.8 449.2h0M102.5 442.3h0M83.2 451.8h0M97.7 455.1h0M109.3 457.2h0M107.1 454.1h0M106.7 464.6h0M131.6 449.1h0M118.2 456.6h0M112.9 458.2h0M91.3 456.2h0M93.8 451.6h0M123.8 438.4h0M122.3 460.8h0M90.2 459.2h0M111.2 447.1h0M84.0 457.2h0M125.1 446.5h0M109.4 447.7h0M107.9 451.3h0M115.3 459.4h0M87.0 451.5h0M88.2 466.6h0M82.9 447.9h0M95.2 450.3h0M108.6 462.9h0M111.1 453.8h0M109.3 450.7h0M93.9 450.7h0M89.6 453.6h0M85.4 449.1h0M106.9 461.8h0M106.0 454.0h0M123.2 457.6h0M125.2 463.1h0M113.8 440.9h0M96.6 452.2h0M129.0 451.3h0M97.6 457.4h0M102.1 450.5h0M125.6 453.2h0M96.0 450.5h0M82.5 455.6h0M90.1 448.2h0M109.8 444.5h0M100.4 460.6h0M83.3 443.4h0M102.8 454.6h0M126.3 456.0h0M66.6 450.1h0M111.6 459.2h0M97.2 457.3h0M94.5 456.2h0M89.0 451.9h0M111.7 442.2h0M58.0 455.7h0M119.9 442.1h0M100.8 458.5h0M103.0 448.2h0M108.7 453.5h0M87.3 448.5h0M91.3 452.1h0M102.8 457.2h0M97.8 460.7h0M81.4 452.8h0M126.2 455.8h0M128.9 446.0h0M113.6 456.2h0M108.2 453.7h0M118.7 449.5h0M115.7 443.8h0M78.6 449.1h0M79.0 457.1h0M99.9 455.8h0M103.2 453.6h0M116.8 450.2h0M70.9 451.3h0M121.5 458.0h0M76.7 452.9h0M110.1 451.7h0M107.8 442.7h0M104.3 456.2h0M103.1 455.4h0M79.5 451.7h0M114.5 450.0h0M97.2 453.1h0M100.3 448.3h0M91.8 453.0h0M73.7 445.8h0M101.2 446.1h0M118.7 468.2h0M101.4 457.0h0M97.5 452.7h0M104.5 452.4h0M107.0 457.3h0M78.6 453.7h0M93.5 458.4h0M85.6 455.3h0M77.6 451.9h0M105.6 458.8h0M92.5 461.3h0M127.4 458.3h0M102.4 459.7h0M109.0 460.1h0M95.7 444.3h0M98.2 447.4h0M102.4 449.5h0M68.0 442.2h0M102.6 465.2h0M109.1 448.2h0M99.3 444.2h0M136.5 450.1h0M81.2 460.3h0M106.9 448.8h0M109.0 449.0h0M108.3 459.9h0M125.1 449.4h0M144.4 452.8h0M95.7 454.3h0M129.0 453.1h0M138.0 449.2h0M114.5 444.3h0M102.9 445.9h0M100.4 450.1h0M92.7 448.0h0M89.3 448.7h0M78.0 456.5h0M93.2 452.6h0M72.0 457.0h0M103.8 458.6h0M98.4 455.9h0M84.4 442.2h0M103.2 454.3h0M88.0 457.0h0M98.6 453.1h0M71.0 458.6h0M90.9 453.6h0M85.8 462.2h0M119.1 447.3h0M115.7 459.6h0M84.3 461.2h0M86.7 461.5h0M108.7 461.7h0M101.4 453.3h0M113.1 452.5h0M103.2 452.3h0M113.3 460.0h0M81.8 446.0h0M79.7 455.1h0M100.2 456.8h0M105.0 451.6h0M108.3 445.7h0M85.6 452.8h0M95.0 452.9h0M102.3 443.1h0M74.3 456.6h0M89.7 452.5h0M103.4 448.3h0M108.6 455.7h0M102.7 461.2h0M101.8 443.6h0M89.0 456.6h0M104.8 456.2h0M116.7 456.9h0M87.0 455.8h0M74.9 446.6h0M104.9 445.0h0M127.2 453.0h0M100.9 444.4h0M106.2 454.8h0M78.9 441.8h0M134.3 456.0h0M93.7 451.5h0M111.1 439.9h0M102.5 457.2h0M89.6 454.9h0M96.6 458.1h0M88.9 452.6h0M96.8 453.5h0M108.4 450.5h0M120.9 446.9h0M105.0 455.4h0M88.9 453.5h0M108.2 466.6h0M115.1 463.6h0M95.4 459.4h0M96.6 462.7h0M78.9 456.5h0M97.6 450.6h0M87.0 456.8h0M99.2 459.3h0M73.7 444.8h0M108.4 448.2h0" stroke="#8a7ad8" stroke-width="0.8" stroke-linecap="round"/>
<text x="261.7" y="376.4" font-size="6.6" textLength="32.6" lengthAdjust="spacingAndGlyphs" fill="#333">Kynurenine</text>
<text x="261.7" y="384.2" font-size="6.6" textLength="19.2" lengthAdjust="spacingAndGlyphs" fill="#333">Levels</text>
<circle cx="263.8" cy="392.0" r="2.5" fill="#2d2b78"/>
<text x="268.8" y="394.3" font-size="6.6" textLength="3.7" lengthAdjust="spacingAndGlyphs" fill="#333">1</text>
<circle cx="263.8" cy="402.2" r="2.5" fill="#8d82bb"/>
<text x="268.8" y="404.5" font-size="6.6" textLength="3.7" lengthAdjust="spacingAndGlyphs" fill="#333">2</text>
<circle cx="263.8" cy="412.4" r="2.5" fill="#dcc5c3"/>
<text x="268.8" y="414.7" font-size="6.6" textLength="3.7" lengthAdjust="spacingAndGlyphs" fill="#333">3</text>
<circle cx="263.8" cy="422.6" r="2.5" fill="#e27d7b"/>
<text x="268.8" y="424.9" font-size="6.6" textLength="3.7" lengthAdjust="spacingAndGlyphs" fill="#333">4</text>
<circle cx="263.8" cy="432.8" r="2.5" fill="#e0644f"/>
<text x="268.8" y="435.1" font-size="6.6" textLength="3.7" lengthAdjust="spacingAndGlyphs" fill="#333">5</text>
<circle cx="263.8" cy="443.0" r="2.5" fill="#f9cfa4"/>
<text x="268.8" y="445.3" font-size="6.6" textLength="3.7" lengthAdjust="spacingAndGlyphs" fill="#333">6</text>
<text x="261.7" y="462.2" font-size="6.6" textLength="30.8" lengthAdjust="spacingAndGlyphs" fill="#333">SNP Allele</text>
<circle cx="263.8" cy="469.8" r="2.5" fill="#b4d6e8"/><circle cx="263.8" cy="479.4" r="2.5" fill="#8c3a3e"/>
<text x="268.8" y="472.1" font-size="6.6" textLength="9.0" lengthAdjust="spacingAndGlyphs" fill="#333">–/–</text>
<text x="268.8" y="481.7" font-size="6.6" textLength="9.5" lengthAdjust="spacingAndGlyphs" fill="#333">+/+</text>
<text x="335.4" y="352.8" font-size="9.2" textLength="177.3" lengthAdjust="spacingAndGlyphs" fill="#222">Significant metabolites by SLC7A5 rs8052118</text>
<text x="362.9" y="364.0" font-size="7.0" textLength="10.2" lengthAdjust="spacingAndGlyphs" fill="#333">HD</text>
<text x="460.6" y="364.0" font-size="7.0" textLength="9.6" lengthAdjust="spacingAndGlyphs" fill="#333">HR</text>
<line x1="346.0" y1="368.8" x2="393.5" y2="368.8" stroke="#4ab0d6" stroke-width="1.1"/>
<path d="M342.5 368.8 l4.5 -2.1 v4.2z" fill="#4ab0d6"/>
<line x1="421.9" y1="368.8" x2="508.5" y2="368.8" stroke="#2a3470" stroke-width="1.1"/>
<path d="M512 368.8 l-4.5 -2.1 v4.2z" fill="#2a3470"/>
<line x1="337.6" y1="371.2" x2="337.6" y2="489.8" stroke="#222" stroke-width="1"/>
<line x1="337.1" y1="489.3" x2="508.5" y2="489.3" stroke="#222" stroke-width="1"/>
<line x1="335.1" y1="483.8" x2="337.6" y2="483.8" stroke="#222" stroke-width="0.8"/>
<text x="331.3" y="486.3" font-size="7" textLength="3.2" lengthAdjust="spacingAndGlyphs" text-anchor="end" fill="#333">0</text>
<line x1="335.1" y1="455.5" x2="337.6" y2="455.5" stroke="#222" stroke-width="0.8"/>
<text x="331.3" y="458.0" font-size="7" textLength="6.4" lengthAdjust="spacingAndGlyphs" text-anchor="end" fill="#333">50</text>
<line x1="335.1" y1="427.3" x2="337.6" y2="427.3" stroke="#222" stroke-width="0.8"/>
<text x="331.3" y="429.8" font-size="7" textLength="9.6" lengthAdjust="spacingAndGlyphs" text-anchor="end" fill="#333">100</text>
<line x1="335.1" y1="399.0" x2="337.6" y2="399.0" stroke="#222" stroke-width="0.8"/>
<text x="331.3" y="401.5" font-size="7" textLength="9.6" lengthAdjust="spacingAndGlyphs" text-anchor="end" fill="#333">150</text>
<line x1="364.5" y1="489.3" x2="364.5" y2="491.8" stroke="#222" stroke-width="0.8"/>
<text x="364.5" y="501.5" font-size="6.6" text-anchor="middle" fill="#333">−1</text>
<line x1="403.8" y1="489.3" x2="403.8" y2="491.8" stroke="#222" stroke-width="0.8"/>
<text x="403.8" y="501.5" font-size="6.6" text-anchor="middle" fill="#333">0</text>
<line x1="443.1" y1="489.3" x2="443.1" y2="491.8" stroke="#222" stroke-width="0.8"/>
<text x="443.1" y="501.5" font-size="6.6" text-anchor="middle" fill="#333">1</text>
<line x1="482.4" y1="489.3" x2="482.4" y2="491.8" stroke="#222" stroke-width="0.8"/>
<text x="482.4" y="501.5" font-size="6.6" text-anchor="middle" fill="#333">2</text>
<text transform="translate(314,443.3) rotate(-90)" font-size="8.4" fill="#333">-log<tspan font-size="5.6" dy="2">10</tspan><tspan dy="-2" font-style="italic"> P</tspan></text>
<text x="398.2" y="512.6" font-size="8.6" textLength="51" lengthAdjust="spacingAndGlyphs" fill="#333">Log<tspan font-size="5.8" dy="1.9">2</tspan><tspan dy="-1.9"> fold change</tspan></text>
<path d="M398.8 371.2V489 M409.4 371.2V489" stroke="#333" stroke-width="0.8" stroke-dasharray="4.2 2.4"/>
<path d="M338 483.2H508" stroke="#333" stroke-width="0.8" stroke-dasharray="4.5 2.6"/>
<path d="M409.5 484 V471 Q413 468 418 470 Q422 473 421 478 L421 484Z" fill="#e0443c"/>
<path d="M445.5 390.3h0M432.3 403.0h0M422.6 408.0h0M445.5 417.3h0M425.4 422.0h0M422.2 426.5h0M423.0 431.8h0M436.9 431.2h0M428.8 434.2h0M433.0 435.1h0M442.0 433.5h0M450.8 434.6h0M425.4 437.4h0M429.3 442.7h0M418.5 444.5h0M436.5 449.2h0M423.0 452.0h0M430.0 453.0h0M441.0 453.5h0M444.3 457.7h0M413.8 450.8h0M477.8 458.8h0M418.0 446.0h0M421.0 447.0h0M426.0 448.0h0M414.0 455.0h0M418.0 459.0h0M418.5 443.5h0M420.0 444.5h0M421.5 450.5h0M423.5 451.0h0M425.0 450.0h0M426.5 462.0h0M428.0 463.5h0M427.0 461.0h0M430.0 467.0h0M432.0 468.0h0M431.0 474.0h0M433.0 477.0h0M425.5 470.0h0M422.0 466.0h0M435.0 466.0h0M416.0 452.0h0M419.0 462.0h0M415.0 466.0h0M412.6 479.5h0M414.6 476.4h0M418.2 467.3h0M410.8 484.0h0M419.6 474.1h0M417.4 480.2h0M410.3 480.2h0M416.2 477.8h0M433.2 483.2h0M421.2 480.4h0M414.9 482.4h0M416.9 457.9h0M417.8 477.1h0M418.8 482.6h0M427.2 466.0h0M423.3 470.0h0M410.0 464.8h0M425.0 476.8h0M420.6 481.2h0M424.8 461.0h0M429.3 463.5h0M413.0 461.5h0M416.3 477.5h0M412.9 478.7h0M411.3 483.4h0M417.5 472.6h0M423.6 461.4h0M413.3 475.0h0M412.4 474.3h0M418.5 476.8h0M410.0 479.2h0M414.2 473.4h0M418.9 479.0h0M431.1 481.0h0M412.3 476.5h0M432.2 478.6h0M413.3 480.7h0M417.9 469.2h0M422.1 470.6h0M413.4 477.6h0M415.7 483.5h0M411.7 470.5h0M425.4 483.7h0M417.0 471.5h0M423.0 479.8h0M414.4 480.0h0M411.7 458.9h0M420.3 465.7h0M419.8 463.0h0M411.7 476.1h0M419.0 483.4h0M419.0 468.5h0M421.0 475.7h0M413.5 482.0h0M410.9 482.2h0M410.5 474.6h0M417.9 484.2h0M425.7 482.6h0M486.3 481.9h0M451.8 483.7h0M429.0 484.2h0M466.6 482.7h0M475.4 483.2h0M420.9 480.9h0M418.7 482.8h0M428.6 481.8h0M489.3 482.6h0M493.7 481.5h0M456.1 483.4h0M457.3 480.7h0M427.6 482.4h0M429.8 480.8h0M425.3 482.0h0M464.0 482.9h0M436.9 483.0h0M447.5 481.1h0M488.0 480.8h0M421.4 484.2h0M439.9 480.8h0M492.4 480.5h0M433.4 481.1h0M469.0 481.8h0M434.5 481.8h0M436.8 484.4h0M489.7 483.5h0M435.5 481.8h0M469.8 483.8h0M445.9 483.4h0M423.2 482.2h0M440.8 482.9h0M432.7 482.0h0M462.1 484.0h0M432.0 482.9h0M453.5 483.2h0M420.1 482.0h0M453.7 481.2h0M450.6 481.5h0M435.4 484.5h0M457.8 483.9h0M469.6 480.7h0M451.5 482.8h0" stroke="#e0443c" stroke-width="3.0" stroke-linecap="round"/>
<path d="M412.7 482.7h0M409.4 483.6h0M415.7 481.8h0M412.6 475.3h0M414.7 478.1h0M412.9 478.5h0M410.8 483.0h0M412.4 479.1h0M411.6 481.0h0M413.3 474.4h0M410.4 476.6h0M411.6 474.1h0M409.3 482.7h0M413.0 483.6h0M410.4 474.6h0M415.9 474.8h0M410.7 475.8h0M411.7 476.3h0M411.6 475.5h0M414.9 476.6h0M411.3 482.9h0M411.3 480.3h0M413.9 482.2h0M411.8 477.8h0M411.1 482.0h0M499.3 482.4h0M480.7 483.4h0M476.6 483.0h0M427.6 482.6h0M487.3 484.0h0M431.2 483.9h0M437.0 483.8h0M496.7 483.7h0M498.0 483.6h0M488.8 482.5h0M491.9 482.3h0M450.9 483.2h0M438.9 483.2h0M458.4 482.8h0M481.8 484.1h0M462.3 483.1h0M476.9 484.0h0M474.0 482.9h0M502.6 482.9h0M406.5 483.2h0M469.3 482.8h0M446.5 483.4h0M410.3 483.9h0M461.7 484.4h0M452.8 484.0h0M423.7 483.5h0M411.1 484.4h0M451.0 484.5h0M433.5 482.9h0M408.4 483.6h0M473.4 482.7h0M432.7 482.8h0M444.3 484.4h0M422.6 484.5h0M415.4 483.1h0M498.8 483.9h0M494.9 484.0h0M446.1 483.2h0M492.0 482.3h0M445.7 483.1h0M503.3 483.2h0M444.5 482.9h0M483.2 484.6h0M467.5 482.8h0M494.9 482.5h0M498.0 483.3h0M419.6 484.1h0M420.9 483.6h0M474.3 482.7h0M448.4 482.5h0M427.0 484.4h0M502.4 484.0h0M467.4 484.5h0M453.2 483.6h0M468.8 483.1h0M431.4 484.0h0M457.5 484.1h0M417.9 483.3h0M472.3 484.6h0M431.8 484.1h0M425.3 483.6h0M428.7 482.5h0M439.4 483.2h0M480.1 483.0h0M416.1 482.4h0M418.1 483.1h0M423.3 484.1h0M460.5 484.6h0M498.2 483.8h0M474.3 483.3h0M418.4 483.4h0M437.1 483.4h0M422.4 483.6h0M462.6 483.0h0M424.2 483.9h0M438.1 482.3h0M473.1 483.1h0M490.4 484.4h0M473.5 484.1h0M415.7 482.6h0M419.8 482.3h0M490.0 483.5h0M460.8 484.2h0M420.7 482.7h0M501.9 483.8h0M432.1 483.9h0M411.3 484.2h0M492.2 483.1h0M432.8 482.7h0M420.5 482.5h0M402.8 483.4h0M401.7 484.1h0M409.0 483.0h0M405.7 483.1h0M406.6 481.7h0M407.3 482.6h0M398.3 482.9h0M401.4 483.1h0M399.2 482.6h0M401.7 482.2h0M399.7 481.2h0M404.0 484.3h0M401.2 483.3h0M409.0 484.0h0M400.3 481.7h0" stroke="#111" stroke-width="2.0" stroke-linecap="round"/>
<path d="M384.7 439.2h0M369.2 474.5h0M383.5 473.8h0M366.0 483.0h0" stroke="#4a4aa8" stroke-width="2.0" stroke-linecap="round"/>
<line x1="460.5" y1="379.6" x2="476.0" y2="379.6" stroke="#c43030" stroke-width="0.8"/>
<line x1="476.0" y1="379.6" x2="481.0" y2="384.5" stroke="#222" stroke-width="0.7"/>
<path d="M474.0 379.6h0M478.0 379.6h0" stroke="#e0443c" stroke-width="2.2" stroke-linecap="round"/>
<rect x="389.5" y="374.6" width="71" height="10" rx="1.8" fill="#fff" stroke="#555" stroke-width="0.6"/>
<text x="392.8" y="382.2" font-size="7.3" textLength="64.5" lengthAdjust="spacingAndGlyphs" fill="#222">Hydroxyindoleacetate</text>
<rect x="465.8" y="384.5" width="40.8" height="10.2" rx="1.8" fill="#fff" stroke="#555" stroke-width="0.6"/>
<text x="469.2" y="392.2" font-size="7.3" textLength="34.0" lengthAdjust="spacingAndGlyphs" fill="#222">Kynurenine</text>
<rect x="379" y="458.8" width="44.8" height="10.4" rx="1.8" fill="#fff" stroke="#555" stroke-width="0.6"/>
<text x="382.1" y="466.6" font-size="7.3" textLength="38.5" lengthAdjust="spacingAndGlyphs" fill="#222">Nicotinamide</text>
<rect x="362.8" y="476" width="43.4" height="10.5" rx="1.8" fill="#fff" stroke="#555" stroke-width="0.6"/>
<text x="366.0" y="483.9" font-size="7.3" textLength="37.0" lengthAdjust="spacingAndGlyphs" fill="#222">L.tryptophan</text>
<rect x="438" y="468" width="30.5" height="10.5" rx="1.8" fill="#fff" stroke="#555" stroke-width="0.6"/>
<text x="441.0" y="475.9" font-size="7.3" textLength="24.5" lengthAdjust="spacingAndGlyphs" fill="#222">Cotinine</text>
<rect x="476" y="468.8" width="30" height="10.2" rx="1.8" fill="#fff" stroke="#555" stroke-width="0.6"/>
<text x="479.0" y="476.5" font-size="7.3" textLength="24.0" lengthAdjust="spacingAndGlyphs" fill="#222">Nicotine</text>
<text x="55.4" y="538.6" font-size="8.9" textLength="107.3" lengthAdjust="spacingAndGlyphs" fill="#222">Correlates to SLC7A5 SNP</text>
<line x1="37.4" y1="542.7" x2="37.4" y2="673.0" stroke="#222" stroke-width="1"/>
<line x1="36.9" y1="672.5" x2="173.0" y2="672.5" stroke="#222" stroke-width="1"/>
<line x1="34.9" y1="666.6" x2="37.4" y2="666.6" stroke="#222" stroke-width="0.8"/>
<text x="33.6" y="669.1" font-size="7" textLength="3.0" lengthAdjust="spacingAndGlyphs" text-anchor="end" fill="#333">0</text>
<line x1="34.9" y1="642.6" x2="37.4" y2="642.6" stroke="#222" stroke-width="0.8"/>
<text x="33.6" y="645.1" font-size="7" textLength="3.0" lengthAdjust="spacingAndGlyphs" text-anchor="end" fill="#333">5</text>
<line x1="34.9" y1="618.7" x2="37.4" y2="618.7" stroke="#222" stroke-width="0.8"/>
<text x="33.6" y="621.2" font-size="7" textLength="6.0" lengthAdjust="spacingAndGlyphs" text-anchor="end" fill="#333">10</text>
<line x1="34.9" y1="594.8" x2="37.4" y2="594.8" stroke="#222" stroke-width="0.8"/>
<text x="33.6" y="597.2" font-size="7" textLength="6.0" lengthAdjust="spacingAndGlyphs" text-anchor="end" fill="#333">15</text>
<line x1="34.9" y1="570.8" x2="37.4" y2="570.8" stroke="#222" stroke-width="0.8"/>
<text x="33.6" y="573.3" font-size="7" textLength="6.0" lengthAdjust="spacingAndGlyphs" text-anchor="end" fill="#333">20</text>
<line x1="34.9" y1="546.9" x2="37.4" y2="546.9" stroke="#222" stroke-width="0.8"/>
<text x="33.6" y="549.4" font-size="7" textLength="6.0" lengthAdjust="spacingAndGlyphs" text-anchor="end" fill="#333">25</text>
<line x1="80.7" y1="672.5" x2="80.7" y2="675.0" stroke="#222" stroke-width="0.8"/>
<text x="80.7" y="684.5" font-size="6.6" textLength="14.5" lengthAdjust="spacingAndGlyphs" text-anchor="middle" fill="#333">0.00</text>
<line x1="124.3" y1="672.5" x2="124.3" y2="675.0" stroke="#222" stroke-width="0.8"/>
<text x="124.3" y="684.5" font-size="6.6" textLength="14.5" lengthAdjust="spacingAndGlyphs" text-anchor="middle" fill="#333">0.05</text>
<line x1="167.9" y1="672.5" x2="167.9" y2="675.0" stroke="#222" stroke-width="0.8"/>
<text x="167.9" y="684.5" font-size="6.6" textLength="14.5" lengthAdjust="spacingAndGlyphs" text-anchor="middle" fill="#333">0.10</text>
<text x="74.6" y="695.9" font-size="8.2" textLength="65.5" lengthAdjust="spacingAndGlyphs" fill="#333">Spearman correlation</text>
<text transform="translate(18.1,630.9) rotate(-90)" font-size="8.2" textLength="46.6" lengthAdjust="spacingAndGlyphs" fill="#333">-log10(Pvalue)</text>
<path d="M51.5 648.6 L52.4 649.5 L53.4 650.3 L54.3 651.1 L55.3 651.9 L56.2 652.7 L57.2 653.5 L58.1 654.2 L59.0 655.0 L60.0 655.7 L60.9 656.4 L61.9 657.1 L62.8 657.8 L63.8 658.5 L64.7 659.1 L65.7 659.7 L66.6 660.4 L67.5 661.0 L68.5 661.5 L69.4 662.1 L70.4 662.6 L71.3 663.1 L72.3 663.6 L73.2 664.1 L74.2 664.5 L75.1 665.0 L76.0 665.3 L77.0 665.7 L77.9 666.0 L78.9 666.3 L79.8 666.5 L80.8 666.6 L81.7 666.5 L82.7 666.2 L83.6 666.0 L84.6 665.7 L85.5 665.3 L86.4 664.9 L87.4 664.5 L88.3 664.1 L89.3 663.6 L90.2 663.1 L91.2 662.6 L92.1 662.0 L93.1 661.5 L94.0 660.9 L94.9 660.3 L95.9 659.7 L96.8 659.1 L97.8 658.4 L98.7 657.8 L99.7 657.1 L100.6 656.4 L101.6 655.7 L102.5 655.0 L103.4 654.2 L104.4 653.5 L105.3 652.7 L106.3 651.9 L107.2 651.1 L108.2 650.3" stroke="#3d1c6e" stroke-width="4" stroke-linecap="round" stroke-linejoin="round" fill="none"/>
<path d="M44.5 641.2h0" stroke="#3a4a88" stroke-width="4.4" stroke-linecap="round"/>
<path d="M114.2 645.2h0M116.7 641.8h0" stroke="#3a4a88" stroke-width="4.2" stroke-linecap="round"/>
<path d="M162.7 547.9h0M160.0 555.8h0" stroke="#e2e234" stroke-width="3.8" stroke-linecap="round"/>
<text x="85.8" y="549.4" font-size="6.4" textLength="74.2" lengthAdjust="spacingAndGlyphs" fill="#222">X5.Hydroxyindoleacetate</text>
<text x="124.6" y="558.2" font-size="6.4" textLength="32.9" lengthAdjust="spacingAndGlyphs" fill="#222">Kynurenine</text>
<text x="119.4" y="643.6" font-size="6.4" textLength="24.2" lengthAdjust="spacingAndGlyphs" fill="#222">FA.22.5.</text>
<text x="238.7" y="538.6" font-size="8.9" textLength="93.9" lengthAdjust="spacingAndGlyphs" fill="#222">Correlates to ATXN2 SNP</text>
<line x1="217.5" y1="542.4" x2="217.5" y2="673.3" stroke="#222" stroke-width="1"/>
<line x1="217.0" y1="672.8" x2="358.0" y2="672.8" stroke="#222" stroke-width="1"/>
<line x1="215.0" y1="667.0" x2="217.5" y2="667.0" stroke="#222" stroke-width="0.8"/>
<text x="213.0" y="669.4" font-size="6.6" textLength="3.6" lengthAdjust="spacingAndGlyphs" text-anchor="end" fill="#333">0</text>
<line x1="215.0" y1="634.1" x2="217.5" y2="634.1" stroke="#222" stroke-width="0.8"/>
<text x="213.0" y="636.5" font-size="6.6" textLength="7.2" lengthAdjust="spacingAndGlyphs" text-anchor="end" fill="#333">20</text>
<line x1="215.0" y1="601.2" x2="217.5" y2="601.2" stroke="#222" stroke-width="0.8"/>
<text x="213.0" y="603.6" font-size="6.6" textLength="7.2" lengthAdjust="spacingAndGlyphs" text-anchor="end" fill="#333">40</text>
<line x1="215.0" y1="568.3" x2="217.5" y2="568.3" stroke="#222" stroke-width="0.8"/>
<text x="213.0" y="570.7" font-size="6.6" textLength="7.2" lengthAdjust="spacingAndGlyphs" text-anchor="end" fill="#333">60</text>
<line x1="250.4" y1="672.8" x2="250.4" y2="675.3" stroke="#222" stroke-width="0.8"/>
<text x="250.4" y="684.8" font-size="6.6" text-anchor="middle" fill="#333">−0.1</text>
<line x1="290.6" y1="672.8" x2="290.6" y2="675.3" stroke="#222" stroke-width="0.8"/>
<text x="290.6" y="684.8" font-size="6.6" text-anchor="middle" fill="#333">0.0</text>
<line x1="330.8" y1="672.8" x2="330.8" y2="675.3" stroke="#222" stroke-width="0.8"/>
<text x="330.8" y="684.8" font-size="6.6" text-anchor="middle" fill="#333">0.1</text>
<text x="255.9" y="695.9" font-size="8.2" textLength="65.7" lengthAdjust="spacingAndGlyphs" fill="#333">Spearman correlation</text>
<text transform="translate(198.1,630.6) rotate(-90)" font-size="8.2" textLength="46.4" lengthAdjust="spacingAndGlyphs" fill="#333">-log10(Pvalue)</text>
<circle cx="290.8" cy="666.6" r="2.15" fill="#430254"/>
<circle cx="290.3" cy="666.5" r="2.15" fill="#430254"/>
<circle cx="291.2" cy="666.5" r="2.15" fill="#430254"/>
<circle cx="289.7" cy="666.4" r="2.15" fill="#430255"/>
<circle cx="291.8" cy="666.4" r="2.15" fill="#430255"/>
<circle cx="292.1" cy="666.3" r="2.15" fill="#430255"/>
<circle cx="289.3" cy="666.3" r="2.15" fill="#430255"/>
<circle cx="292.7" cy="666.2" r="2.15" fill="#430355"/>
<circle cx="293.1" cy="666.1" r="2.15" fill="#430355"/>
<circle cx="288.9" cy="666.1" r="2.15" fill="#430355"/>
<circle cx="293.6" cy="666.1" r="2.15" fill="#430355"/>
<circle cx="288.4" cy="666.0" r="2.15" fill="#430355"/>
<circle cx="294.1" cy="666.0" r="2.15" fill="#430355"/>
<circle cx="288.0" cy="665.9" r="2.15" fill="#430356"/>
<circle cx="294.7" cy="665.8" r="2.15" fill="#430456"/>
<circle cx="287.6" cy="665.8" r="2.15" fill="#430456"/>
<circle cx="295.2" cy="665.8" r="2.15" fill="#430456"/>
<circle cx="295.7" cy="665.7" r="2.15" fill="#430456"/>
<circle cx="287.1" cy="665.6" r="2.15" fill="#430456"/>
<circle cx="296.1" cy="665.6" r="2.15" fill="#430456"/>
<circle cx="296.5" cy="665.5" r="2.15" fill="#430456"/>
<circle cx="286.7" cy="665.5" r="2.15" fill="#430456"/>
<circle cx="297.0" cy="665.4" r="2.15" fill="#430556"/>
<circle cx="286.2" cy="665.4" r="2.15" fill="#430556"/>
<circle cx="297.6" cy="665.3" r="2.15" fill="#430556"/>
<circle cx="298.0" cy="665.3" r="2.15" fill="#430557"/>
<circle cx="285.7" cy="665.2" r="2.15" fill="#430557"/>
<circle cx="298.3" cy="665.2" r="2.15" fill="#430557"/>
<circle cx="298.7" cy="665.1" r="2.15" fill="#430557"/>
<circle cx="285.2" cy="665.1" r="2.15" fill="#430657"/>
<circle cx="299.3" cy="665.0" r="2.15" fill="#430657"/>
<circle cx="299.8" cy="664.9" r="2.15" fill="#430657"/>
<circle cx="284.7" cy="664.9" r="2.15" fill="#430657"/>
<circle cx="300.2" cy="664.9" r="2.15" fill="#430657"/>
<circle cx="300.6" cy="664.8" r="2.15" fill="#430657"/>
<circle cx="284.3" cy="664.8" r="2.15" fill="#430657"/>
<circle cx="301.0" cy="664.7" r="2.15" fill="#430658"/>
<circle cx="283.8" cy="664.7" r="2.15" fill="#430758"/>
<circle cx="301.4" cy="664.7" r="2.15" fill="#430758"/>
<circle cx="301.9" cy="664.6" r="2.15" fill="#430758"/>
<circle cx="283.4" cy="664.6" r="2.15" fill="#430758"/>
<circle cx="302.4" cy="664.5" r="2.15" fill="#430758"/>
<circle cx="283.0" cy="664.4" r="2.15" fill="#430758"/>
<circle cx="302.8" cy="664.4" r="2.15" fill="#430758"/>
<circle cx="282.6" cy="664.3" r="2.15" fill="#430858"/>
<circle cx="303.4" cy="664.3" r="2.15" fill="#430858"/>
<circle cx="303.9" cy="664.2" r="2.15" fill="#430858"/>
<circle cx="282.1" cy="664.2" r="2.15" fill="#430859"/>
<circle cx="304.3" cy="664.1" r="2.15" fill="#430859"/>
<circle cx="304.7" cy="664.1" r="2.15" fill="#430859"/>
<circle cx="281.5" cy="664.0" r="2.15" fill="#430859"/>
<circle cx="305.3" cy="664.0" r="2.15" fill="#430859"/>
<circle cx="281.1" cy="663.9" r="2.15" fill="#430959"/>
<circle cx="305.8" cy="663.9" r="2.15" fill="#430959"/>
<circle cx="306.3" cy="663.7" r="2.15" fill="#430959"/>
<circle cx="280.7" cy="663.7" r="2.15" fill="#430959"/>
<circle cx="306.6" cy="663.5" r="2.15" fill="#420a5a"/>
<circle cx="280.2" cy="663.5" r="2.15" fill="#420a5a"/>
<circle cx="279.8" cy="663.2" r="2.15" fill="#420b5a"/>
<circle cx="307.0" cy="663.1" r="2.15" fill="#420b5a"/>
<circle cx="279.3" cy="662.9" r="2.15" fill="#420b5b"/>
<circle cx="307.4" cy="662.9" r="2.15" fill="#420b5b"/>
<circle cx="278.9" cy="662.7" r="2.15" fill="#420c5b"/>
<circle cx="307.9" cy="662.5" r="2.15" fill="#420c5c"/>
<circle cx="278.5" cy="662.4" r="2.15" fill="#420d5c"/>
<circle cx="278.1" cy="662.2" r="2.15" fill="#420d5c"/>
<circle cx="308.3" cy="662.1" r="2.15" fill="#420d5c"/>
<circle cx="277.7" cy="662.0" r="2.15" fill="#420e5d"/>
<circle cx="308.7" cy="661.8" r="2.15" fill="#420e5d"/>
<circle cx="277.3" cy="661.7" r="2.15" fill="#420e5d"/>
<circle cx="277.0" cy="661.5" r="2.15" fill="#420f5d"/>
<circle cx="309.2" cy="661.4" r="2.15" fill="#420f5e"/>
<circle cx="276.4" cy="661.2" r="2.15" fill="#42105e"/>
<circle cx="309.6" cy="661.1" r="2.15" fill="#42105e"/>
<circle cx="276.0" cy="661.0" r="2.15" fill="#42105e"/>
<circle cx="310.0" cy="660.8" r="2.15" fill="#42115f"/>
<circle cx="275.6" cy="660.7" r="2.15" fill="#42115f"/>
<circle cx="310.3" cy="660.5" r="2.15" fill="#42125f"/>
<circle cx="275.1" cy="660.4" r="2.15" fill="#42125f"/>
<circle cx="274.8" cy="660.2" r="2.15" fill="#421260"/>
<circle cx="310.7" cy="660.2" r="2.15" fill="#421260"/>
<circle cx="274.4" cy="660.0" r="2.15" fill="#411360"/>
<circle cx="311.2" cy="659.8" r="2.15" fill="#411360"/>
<circle cx="274.1" cy="659.8" r="2.15" fill="#411360"/>
<circle cx="273.7" cy="659.6" r="2.15" fill="#411461"/>
<circle cx="311.5" cy="659.6" r="2.15" fill="#411461"/>
<circle cx="273.3" cy="659.3" r="2.15" fill="#411561"/>
<circle cx="311.8" cy="659.3" r="2.15" fill="#411561"/>
<circle cx="272.8" cy="659.0" r="2.15" fill="#411562"/>
<circle cx="312.3" cy="658.9" r="2.15" fill="#411662"/>
<circle cx="272.4" cy="658.8" r="2.15" fill="#411662"/>
<circle cx="312.7" cy="658.6" r="2.15" fill="#411662"/>
<circle cx="272.0" cy="658.6" r="2.15" fill="#411762"/>
<circle cx="313.0" cy="658.4" r="2.15" fill="#411763"/>
<circle cx="271.5" cy="658.3" r="2.15" fill="#411763"/>
<circle cx="271.2" cy="658.1" r="2.15" fill="#411863"/>
<circle cx="313.4" cy="658.0" r="2.15" fill="#411864"/>
<circle cx="270.8" cy="657.9" r="2.15" fill="#411864"/>
<circle cx="270.4" cy="657.6" r="2.15" fill="#411964"/>
<circle cx="313.9" cy="657.6" r="2.15" fill="#411964"/>
<circle cx="314.2" cy="657.4" r="2.15" fill="#411a65"/>
<circle cx="269.9" cy="657.3" r="2.15" fill="#411a65"/>
<circle cx="269.5" cy="657.1" r="2.15" fill="#411b65"/>
<circle cx="314.6" cy="657.1" r="2.15" fill="#411b65"/>
<circle cx="269.1" cy="656.8" r="2.15" fill="#411b66"/>
<circle cx="315.0" cy="656.7" r="2.15" fill="#411b66"/>
<circle cx="315.4" cy="656.5" r="2.15" fill="#401c66"/>
<circle cx="268.8" cy="656.4" r="2.15" fill="#401c66"/>
<circle cx="315.8" cy="656.2" r="2.15" fill="#401d67"/>
<circle cx="268.5" cy="656.1" r="2.15" fill="#401d67"/>
<circle cx="316.1" cy="655.9" r="2.15" fill="#401e67"/>
<circle cx="268.3" cy="655.8" r="2.15" fill="#401e67"/>
<circle cx="316.4" cy="655.6" r="2.15" fill="#401e68"/>
<circle cx="268.0" cy="655.4" r="2.15" fill="#401f68"/>
<circle cx="316.9" cy="655.2" r="2.15" fill="#401f68"/>
<circle cx="317.2" cy="655.0" r="2.15" fill="#402069"/>
<circle cx="267.5" cy="654.7" r="2.15" fill="#402169"/>
<circle cx="317.7" cy="654.6" r="2.15" fill="#40216a"/>
<circle cx="266.7" cy="653.7" r="2.15" fill="#40236b"/>
<circle cx="318.2" cy="653.7" r="2.15" fill="#40246b"/>
<circle cx="318.6" cy="652.8" r="2.15" fill="#3f266d"/>
<circle cx="265.9" cy="652.8" r="2.15" fill="#3f266d"/>
<circle cx="265.3" cy="652.1" r="2.15" fill="#3f286e"/>
<circle cx="319.0" cy="651.9" r="2.15" fill="#3f286e"/>
<circle cx="264.8" cy="651.4" r="2.15" fill="#3f296f"/>
<circle cx="319.5" cy="650.9" r="2.15" fill="#3f2b70"/>
<circle cx="264.1" cy="650.5" r="2.15" fill="#3f2c71"/>
<circle cx="319.9" cy="650.1" r="2.15" fill="#3f2d72"/>
<circle cx="263.4" cy="649.7" r="2.15" fill="#3e2e72"/>
<circle cx="320.4" cy="649.3" r="2.15" fill="#3e2f73"/>
<circle cx="262.9" cy="649.0" r="2.15" fill="#3e3074"/>
<circle cx="320.7" cy="648.7" r="2.15" fill="#3e3174"/>
<circle cx="262.3" cy="648.3" r="2.15" fill="#3e3275"/>
<circle cx="321.0" cy="648.0" r="2.15" fill="#3e3275"/>
<circle cx="261.7" cy="647.6" r="2.15" fill="#3e3476"/>
<circle cx="321.4" cy="647.1" r="2.15" fill="#3e3577"/>
<circle cx="261.2" cy="646.9" r="2.15" fill="#3e3577"/>
<circle cx="321.8" cy="646.3" r="2.15" fill="#3d3778"/>
<circle cx="260.5" cy="646.0" r="2.15" fill="#3d3879"/>
<circle cx="322.2" cy="645.7" r="2.15" fill="#3d397a"/>
<circle cx="259.8" cy="645.0" r="2.15" fill="#3d3a7b"/>
<circle cx="322.5" cy="644.9" r="2.15" fill="#3d3b7b"/>
<circle cx="259.5" cy="644.2" r="2.15" fill="#3d3c7c"/>
<circle cx="323.0" cy="643.9" r="2.15" fill="#3d3d7d"/>
<circle cx="259.0" cy="643.2" r="2.15" fill="#3d3f7e"/>
<circle cx="323.6" cy="642.8" r="2.15" fill="#3c407f"/>
<circle cx="258.6" cy="642.4" r="2.15" fill="#3c417f"/>
<circle cx="324.1" cy="641.8" r="2.15" fill="#3c4380"/>
<circle cx="258.3" cy="641.7" r="2.15" fill="#3c4381"/>
<circle cx="324.7" cy="640.7" r="2.15" fill="#3c4682"/>
<circle cx="257.8" cy="640.6" r="2.15" fill="#3c4683"/>
<circle cx="325.0" cy="640.0" r="2.15" fill="#3c4784"/>
<circle cx="257.0" cy="638.8" r="2.15" fill="#3b4b86"/>
<circle cx="325.9" cy="638.2" r="2.15" fill="#3b4c87"/>
<circle cx="256.2" cy="637.1" r="2.15" fill="#3b4f89"/>
<circle cx="326.7" cy="636.6" r="2.15" fill="#3b508a"/>
<circle cx="255.3" cy="635.3" r="2.15" fill="#3a538b"/>
<circle cx="327.5" cy="634.9" r="2.15" fill="#39548b"/>
<circle cx="254.5" cy="633.5" r="2.15" fill="#38578b"/>
<circle cx="328.1" cy="633.4" r="2.15" fill="#38578b"/>
<circle cx="253.7" cy="631.7" r="2.15" fill="#375b8b"/>
<circle cx="328.9" cy="631.6" r="2.15" fill="#375b8b"/>
<circle cx="253.0" cy="630.1" r="2.15" fill="#355e8b"/>
<circle cx="329.5" cy="630.1" r="2.15" fill="#355e8b"/>
<circle cx="252.3" cy="628.7" r="2.15" fill="#34618b"/>
<circle cx="330.1" cy="628.6" r="2.15" fill="#34618b"/>
<circle cx="251.2" cy="626.5" r="2.15" fill="#32658b"/>
<circle cx="331.1" cy="626.4" r="2.15" fill="#32658b"/>
<circle cx="250.4" cy="624.6" r="2.15" fill="#31698b"/>
<circle cx="331.9" cy="624.5" r="2.15" fill="#31698b"/>
<circle cx="249.6" cy="623.1" r="2.15" fill="#2f6c8b"/>
<circle cx="332.7" cy="622.5" r="2.15" fill="#2f6d8b"/>
<circle cx="248.7" cy="621.1" r="2.15" fill="#2e708b"/>
<circle cx="333.4" cy="621.0" r="2.15" fill="#2e708b"/>
<circle cx="334.1" cy="619.4" r="2.15" fill="#2c748b"/>
<circle cx="247.2" cy="618.0" r="2.15" fill="#2b778b"/>
<circle cx="335.2" cy="616.7" r="2.15" fill="#2a798b"/>
<circle cx="246.3" cy="615.4" r="2.15" fill="#297c8b"/>
<circle cx="336.4" cy="613.9" r="2.15" fill="#287f8b"/>
<circle cx="244.9" cy="611.7" r="2.15" fill="#26848b"/>
<circle cx="337.6" cy="610.9" r="2.15" fill="#25858b"/>
<circle cx="243.7" cy="608.3" r="2.15" fill="#238a8b"/>
<circle cx="338.9" cy="607.9" r="2.15" fill="#238b8b"/>
<circle cx="242.8" cy="605.9" r="2.15" fill="#218f8b"/>
<circle cx="340.2" cy="604.2" r="2.15" fill="#23938a"/>
<circle cx="241.6" cy="602.8" r="2.15" fill="#259588"/>
<circle cx="341.0" cy="601.4" r="2.15" fill="#289886"/>
<circle cx="240.6" cy="600.1" r="2.15" fill="#2b9a84"/>
<circle cx="341.7" cy="599.0" r="2.15" fill="#2d9c83"/>
<circle cx="239.3" cy="596.7" r="2.15" fill="#32a080"/>
<circle cx="342.6" cy="595.8" r="2.15" fill="#32a17f"/>
<circle cx="342.5" cy="596.2" r="2.15" fill="#33a17f"/>
<circle cx="238.1" cy="593.5" r="2.15" fill="#38a67b"/>
<circle cx="238.1" cy="593.5" r="2.15" fill="#39a77b"/>
<circle cx="224" cy="549.7" r="2.1" fill="#e3e22e"/>
<circle cx="225.5" cy="553.4" r="2.1" fill="#d2df35"/>
<circle cx="229.2" cy="568.3" r="2.1" fill="#7dcf55"/>
<circle cx="346.2" cy="584.8" r="2.1" fill="#49b670"/>
<text x="226.0" y="550.4" font-size="6.4" textLength="33.5" lengthAdjust="spacingAndGlyphs" fill="#222">Kynurenine</text>
<text x="227.7" y="560.0" font-size="6.4" textLength="74.6" lengthAdjust="spacingAndGlyphs" fill="#222">X5.Hydroxyindoleacetate</text>
<text x="232.0" y="571.0" font-size="6.4" textLength="55.0" lengthAdjust="spacingAndGlyphs" fill="#222">N6.Methyl.L.lysine</text>
<text x="240.0" y="592.0" font-size="6.4" textLength="56.0" lengthAdjust="spacingAndGlyphs" fill="#222">X1.Methylxanthine</text>
<text x="326.3" y="582.4" font-size="6.6" textLength="27.7" lengthAdjust="spacingAndGlyphs" fill="#222">Curcumin</text>
<text x="321.7" y="593.9" font-size="6.6" textLength="28.5" lengthAdjust="spacingAndGlyphs" fill="#222">AC.5.OH.</text>
<text x="411.5" y="534.5" font-size="9" textLength="79.7" lengthAdjust="spacingAndGlyphs" fill="#222">Kynurenine levels by</text>
<text x="390.9" y="544.5" font-size="9" textLength="122.6" lengthAdjust="spacingAndGlyphs" fill="#222">SLC7A5 status in Recall Donors</text>
<line x1="395.1" y1="568.7" x2="395.1" y2="672.9" stroke="#222" stroke-width="1"/>
<line x1="394.6" y1="672.4" x2="503.6" y2="672.4" stroke="#222" stroke-width="1"/>
<line x1="392.6" y1="667.8" x2="395.1" y2="667.8" stroke="#222" stroke-width="0.8"/>
<text x="389.4" y="670.3" font-size="7" text-anchor="end" fill="#333">0</text>
<line x1="392.6" y1="645.9" x2="395.1" y2="645.9" stroke="#222" stroke-width="0.8"/>
<text x="389.4" y="648.4" font-size="7" text-anchor="end" fill="#333">1</text>
<line x1="392.6" y1="624.0" x2="395.1" y2="624.0" stroke="#222" stroke-width="0.8"/>
<text x="389.4" y="626.5" font-size="7" text-anchor="end" fill="#333">2</text>
<line x1="392.6" y1="602.1" x2="395.1" y2="602.1" stroke="#222" stroke-width="0.8"/>
<text x="389.4" y="604.6" font-size="7" text-anchor="end" fill="#333">3</text>
<line x1="392.6" y1="580.2" x2="395.1" y2="580.2" stroke="#222" stroke-width="0.8"/>
<text x="389.4" y="582.7" font-size="7" text-anchor="end" fill="#333">4</text>
<line x1="425.8" y1="672.4" x2="425.8" y2="674.9" stroke="#222" stroke-width="0.8"/>
<line x1="476.8" y1="672.4" x2="476.8" y2="674.9" stroke="#222" stroke-width="0.8"/>
<text x="411.6" y="684.8" font-size="7.4" textLength="28.6" lengthAdjust="spacingAndGlyphs" fill="#222">ATXN HD</text>
<text x="409.5" y="693.3" font-size="7.4" textLength="33.9" lengthAdjust="spacingAndGlyphs" fill="#222">SLC7A5 HR</text>
<text x="463.0" y="684.8" font-size="7.4" textLength="28.0" lengthAdjust="spacingAndGlyphs" fill="#222">ATXN HR</text>
<text x="459.7" y="693.3" font-size="7.4" textLength="34.4" lengthAdjust="spacingAndGlyphs" fill="#222">SLC7A5 HD</text>
<text transform="translate(380.3,638.1) rotate(-90)" font-size="7.8" textLength="35.4" lengthAdjust="spacingAndGlyphs" fill="#333">Kynurenine</text>
<path d="M425.8 576 V573.6 H476.8 V576" stroke="#222" stroke-width="0.7" fill="none"/>
<text x="445.5" y="572.6" font-size="6.4" textLength="11.7" lengthAdjust="spacingAndGlyphs" fill="#222">****</text>
<path d="M457 639.5 Q477 636 498 639.5 Q500.5 644 499.5 648 Q501 652 499 657 Q477 662 456 657 Q454 652 455.5 648 Q454 644 457 639.5Z" fill="#1f3d82"/>
<path d="M471.7 642.6h0M485.7 653.4h0M493.2 647.4h0M457.1 649.2h0M470.7 641.8h0M497.6 646.9h0M483.5 646.2h0M494.6 647.9h0M470.3 654.1h0M464.9 647.5h0M498.2 645.9h0M480.0 644.3h0M479.5 641.2h0M484.6 654.6h0M475.3 650.3h0M474.9 643.1h0M481.3 648.6h0M498.5 648.8h0M498.0 652.7h0M471.0 640.3h0M460.1 647.7h0M475.3 652.5h0M477.8 646.9h0M468.3 649.0h0M482.9 650.2h0M479.1 652.5h0M484.9 643.1h0M490.7 655.5h0M477.3 644.3h0M462.4 652.2h0M465.6 648.2h0M458.1 647.4h0M480.2 647.8h0M493.0 652.0h0M458.9 654.3h0M478.6 649.8h0M472.1 652.5h0M462.0 649.3h0M457.2 639.1h0M455.9 645.7h0M489.0 651.3h0M465.2 645.1h0M485.0 648.3h0M492.7 648.4h0M482.3 649.4h0M488.7 644.5h0M469.4 646.2h0M489.5 644.9h0M470.8 647.5h0M480.5 646.6h0M478.8 649.3h0M487.3 646.4h0M472.8 641.1h0M461.1 644.7h0M457.2 643.0h0M480.3 644.0h0M459.3 652.0h0M474.5 654.2h0M457.3 644.7h0M460.9 647.2h0M491.7 652.2h0M473.9 644.0h0M497.3 642.1h0M455.3 652.8h0M496.8 644.5h0M463.4 646.1h0M465.6 657.9h0M474.8 646.1h0M479.0 641.1h0M466.1 645.5h0M490.4 647.4h0M457.2 651.9h0M497.3 642.3h0M498.5 656.1h0M479.8 647.6h0M464.6 645.7h0M477.2 648.8h0M466.2 644.2h0M471.4 644.3h0M473.5 644.8h0M455.1 650.7h0M487.3 653.4h0M474.5 637.6h0M471.2 643.6h0M457.1 648.2h0M486.5 651.5h0M460.3 650.8h0M458.3 651.7h0M496.7 655.1h0M481.7 650.1h0M471.8 646.0h0M482.7 642.6h0M493.3 645.9h0M475.6 645.5h0M466.1 644.2h0M465.5 651.2h0M486.0 649.4h0M469.2 649.8h0M486.4 647.2h0M472.0 644.9h0M476.5 645.3h0M490.7 643.4h0M495.1 647.5h0M479.6 646.3h0M457.3 651.3h0M495.0 639.6h0M471.2 647.6h0M495.2 649.3h0M478.2 646.1h0M462.2 645.0h0M492.7 648.7h0M495.3 648.0h0M492.3 640.8h0M487.9 634.8h0M489.8 645.7h0M472.6 644.4h0M476.3 640.8h0M467.5 642.3h0M496.9 655.5h0M464.0 643.2h0M458.3 644.7h0M489.6 653.1h0M496.3 645.9h0M487.6 643.8h0M495.7 645.8h0M460.0 646.0h0M481.7 655.1h0M473.4 647.6h0M492.4 645.6h0M487.7 650.9h0M463.3 647.7h0M468.7 643.1h0M487.6 641.3h0M486.7 640.6h0M476.2 651.7h0M495.4 645.4h0M477.6 646.2h0M487.3 651.6h0M460.4 645.7h0M459.4 650.0h0M461.7 642.5h0M468.1 656.1h0M490.1 653.5h0M470.5 654.0h0M488.3 646.0h0M460.0 648.6h0M466.4 639.4h0M486.3 648.2h0M475.2 650.9h0M475.6 649.8h0M471.6 647.4h0M470.3 653.5h0M455.2 642.2h0M465.8 649.9h0M493.4 649.6h0M458.8 642.4h0M460.1 650.2h0M456.0 642.6h0M469.4 643.6h0M484.7 648.0h0M465.8 648.7h0M473.2 649.8h0M470.4 639.4h0M464.6 648.0h0M471.4 644.8h0M461.1 645.9h0M474.5 646.1h0M477.4 654.1h0M482.3 652.2h0M494.5 653.1h0M468.7 650.6h0M457.7 652.3h0M476.0 644.1h0M493.4 645.5h0M471.9 645.4h0M463.5 644.3h0M478.0 650.7h0M479.4 655.0h0M457.0 647.7h0M482.4 641.5h0M478.2 650.1h0M458.3 647.5h0M491.7 642.6h0M492.5 642.7h0M464.9 644.7h0M472.7 645.2h0M455.6 645.4h0M491.8 648.5h0M459.8 642.3h0M473.7 643.8h0M465.6 645.3h0M476.1 643.7h0M483.7 643.7h0M459.8 648.8h0M496.7 658.9h0M474.9 644.4h0M459.5 641.3h0M490.3 649.8h0M467.3 638.3h0M464.0 642.5h0M472.0 647.8h0M469.4 647.1h0M492.4 646.2h0M481.3 647.2h0M484.5 647.0h0M461.5 652.9h0M455.7 643.0h0M465.1 643.5h0M461.5 650.8h0M454.8 648.9h0M472.5 647.2h0M487.3 644.2h0M493.6 643.6h0M469.6 649.7h0M497.8 648.0h0M488.6 647.7h0M454.8 650.7h0M481.1 645.5h0M456.0 642.9h0M466.6 650.1h0M463.6 649.7h0M481.1 647.2h0M458.3 643.8h0M455.2 645.2h0M496.4 650.0h0M490.9 641.2h0M464.1 643.7h0M458.5 646.5h0M492.7 648.4h0M474.2 647.4h0M474.0 645.6h0M489.5 645.2h0M474.6 647.5h0M457.9 647.2h0M497.2 645.2h0M493.1 646.2h0M480.6 646.9h0M478.0 646.4h0M488.2 640.4h0M496.9 646.3h0M464.4 647.0h0M460.2 647.5h0M461.8 647.5h0M459.4 644.9h0M467.0 643.3h0M480.8 649.7h0M476.3 650.5h0M475.1 638.5h0M482.6 642.4h0M490.3 644.5h0M483.8 654.0h0M465.8 649.5h0M457.0 646.4h0M463.4 645.3h0M494.8 642.2h0M483.0 648.6h0M481.1 645.8h0M475.1 645.9h0M458.7 644.5h0M469.7 643.2h0M482.7 642.5h0M462.7 651.6h0M463.0 640.0h0M465.3 641.6h0M459.3 645.9h0M490.6 644.6h0M462.4 645.4h0M483.9 652.8h0M498.6 655.4h0M496.4 651.5h0M488.5 648.4h0M473.9 655.0h0M478.8 645.9h0M491.6 647.4h0M480.5 648.6h0M459.2 652.7h0M470.7 643.3h0M461.6 636.4h0M493.9 644.2h0M473.7 648.7h0M497.2 648.7h0M479.2 649.7h0M479.7 645.2h0M470.6 639.3h0M472.8 647.3h0M481.2 648.7h0M478.1 654.7h0M456.7 654.7h0M476.7 645.3h0M456.3 649.1h0M468.1 646.4h0M464.9 654.8h0M468.5 648.6h0M469.6 652.7h0M489.5 646.2h0M469.5 649.9h0M476.7 643.1h0M474.1 646.4h0M468.3 650.0h0M482.5 649.8h0M470.5 649.2h0M469.9 653.0h0M476.4 641.2h0M458.0 642.7h0M484.7 656.8h0M477.8 641.3h0M475.1 651.1h0M467.8 654.3h0M476.4 647.8h0M498.0 640.9h0M476.1 641.9h0M471.3 646.9h0M493.1 654.9h0M478.2 650.3h0M484.2 647.3h0M471.7 641.8h0M486.3 649.1h0M488.3 653.7h0M480.3 647.6h0M458.6 653.5h0M470.7 643.3h0M464.9 650.8h0M484.8 642.4h0M489.7 637.4h0M466.9 645.4h0M477.5 649.2h0M497.1 637.7h0M468.9 649.6h0M469.3 653.2h0M468.8 646.5h0M483.7 651.6h0M472.7 644.7h0M483.4 642.4h0M461.6 649.8h0M459.4 647.4h0M465.2 643.6h0M458.6 641.2h0M481.8 642.8h0M460.1 647.7h0M490.4 654.3h0M492.0 646.9h0M492.3 648.2h0M470.3 651.0h0M460.3 638.2h0M474.4 640.1h0M498.5 637.9h0M473.4 649.5h0M462.2 644.3h0M496.2 643.3h0M463.5 643.6h0M488.2 640.3h0M458.9 658.0h0M489.1 654.9h0M456.1 646.2h0M490.8 648.6h0M487.2 645.6h0M474.7 651.9h0M493.9 650.0h0M488.8 648.2h0M468.7 648.3h0M475.2 647.7h0M495.9 648.1h0M476.5 646.2h0M491.7 646.4h0M479.8 652.0h0M469.4 653.4h0M498.7 651.0h0M480.1 650.3h0M465.8 644.0h0M457.9 653.0h0M496.3 642.2h0M462.9 644.0h0M477.8 650.8h0M484.3 646.6h0M496.2 647.3h0M490.8 648.9h0M489.1 646.8h0M498.0 645.6h0M482.8 648.5h0M470.3 650.6h0M496.7 642.0h0M470.7 644.1h0M459.7 653.0h0M493.3 638.7h0M461.1 642.3h0M481.6 652.2h0M491.8 646.2h0M460.2 640.9h0M482.7 646.3h0M460.9 641.8h0M494.0 648.9h0M487.4 646.5h0M494.7 640.3h0M473.2 643.0h0M478.5 647.4h0M467.0 649.4h0M497.0 648.8h0M457.3 652.4h0M494.9 647.7h0M493.2 639.4h0M498.3 647.6h0M478.5 641.6h0M485.1 641.8h0M493.5 654.1h0M463.5 644.7h0M481.4 642.3h0M481.6 640.9h0M467.2 646.5h0M472.8 644.0h0M463.8 644.7h0M484.7 653.6h0M467.6 650.3h0M460.1 643.0h0M477.6 649.4h0M495.6 649.3h0M491.8 639.9h0M466.7 647.9h0M461.8 643.7h0M486.0 639.2h0M466.2 639.7h0M467.1 647.4h0M456.3 645.7h0M476.5 648.1h0M478.4 652.2h0M458.9 651.3h0M474.5 647.4h0M483.1 652.3h0M497.5 650.7h0M484.5 648.3h0M458.7 643.9h0M467.9 643.4h0M482.8 647.4h0M479.4 649.6h0M474.2 649.4h0M491.4 652.8h0M464.2 649.0h0M455.3 644.4h0M481.6 645.8h0M463.5 649.4h0M487.6 647.4h0M491.5 644.8h0M458.1 652.0h0M486.7 652.0h0M466.2 643.4h0M475.5 650.3h0M495.2 644.0h0M496.8 649.8h0M482.1 648.0h0M491.2 645.3h0M494.2 644.5h0M457.4 651.1h0M457.5 638.9h0M482.3 645.6h0M487.7 650.3h0M477.9 651.7h0M490.8 645.1h0M456.1 646.8h0M477.6 646.6h0M463.3 647.5h0M490.5 651.0h0M488.3 645.4h0M469.8 649.8h0M474.1 646.9h0M474.7 639.9h0M496.8 650.9h0M455.5 645.2h0M455.4 642.1h0M474.3 650.2h0M471.1 645.8h0M477.0 642.7h0M459.7 641.8h0M494.9 651.3h0M474.6 650.5h0M476.7 651.9h0M490.8 647.4h0M497.6 648.4h0M494.2 647.6h0M455.4 642.6h0M497.5 655.9h0M485.1 646.6h0M466.1 645.6h0M467.2 637.1h0M486.9 650.1h0M473.3 645.1h0M482.5 654.3h0M479.6 646.7h0M484.8 650.0h0M482.4 642.6h0M491.3 647.0h0M482.8 651.8h0M462.1 647.1h0M471.3 645.7h0M473.8 644.6h0M480.9 647.2h0M456.1 651.8h0M493.3 648.8h0M478.2 643.2h0M459.8 644.5h0M480.0 648.5h0M456.7 646.9h0M487.7 645.5h0M456.9 646.8h0M484.7 644.7h0M463.1 644.4h0M473.3 649.5h0M463.3 646.6h0M471.2 648.8h0M479.1 649.5h0M489.9 641.4h0M456.0 651.8h0M485.1 649.0h0M485.9 651.7h0M491.2 642.7h0M495.5 643.4h0M455.2 648.9h0M491.9 651.7h0M469.2 650.5h0M475.7 649.7h0M480.2 641.5h0M485.3 644.5h0M459.9 651.8h0M458.1 642.9h0M478.3 646.8h0M462.0 651.7h0M486.0 638.8h0M467.7 645.5h0M472.0 653.7h0M479.1 645.0h0M473.2 648.3h0M478.1 648.5h0M493.9 657.5h0M478.4 643.1h0M486.0 642.9h0M481.1 648.0h0M470.3 654.6h0M483.1 648.2h0M494.5 651.7h0M486.7 643.1h0M489.9 651.0h0M454.9 641.6h0M483.9 656.0h0M455.9 645.8h0M462.8 644.9h0M485.2 646.0h0M480.4 647.8h0M492.0 645.0h0M482.1 654.5h0M463.5 647.1h0M475.9 640.2h0M455.1 643.1h0M488.2 652.4h0M477.3 644.3h0M492.0 645.3h0M468.6 644.8h0M498.6 649.7h0M489.1 646.2h0M476.8 642.4h0M470.5 644.4h0M474.0 647.5h0M480.2 648.5h0M496.9 641.8h0M496.3 643.6h0M482.2 651.1h0M475.5 642.0h0M474.0 652.3h0M473.8 649.9h0M470.2 650.5h0M479.0 657.4h0M494.1 652.5h0M476.5 649.9h0M469.4 648.2h0M464.8 651.4h0M459.5 651.3h0M485.1 646.7h0M457.6 647.4h0M487.0 650.3h0M495.3 649.2h0M485.5 640.8h0M480.5 648.3h0M498.3 646.0h0M490.3 644.6h0M459.1 642.4h0M465.2 642.9h0M461.1 648.2h0M479.6 649.9h0M469.1 641.1h0M455.9 648.1h0M493.7 652.8h0M482.3 651.0h0M474.8 648.8h0M477.0 655.2h0M485.8 645.5h0M461.0 640.8h0M473.9 658.8h0M472.0 648.3h0M494.4 652.7h0M487.8 644.8h0M488.2 646.7h0M455.3 651.7h0M481.3 645.6h0M494.4 652.8h0M475.3 653.5h0M461.6 645.4h0M458.4 651.4h0M465.0 652.6h0M489.8 658.5h0M495.7 640.2h0M472.9 645.8h0M494.7 646.7h0M494.4 646.2h0M490.8 643.4h0M465.5 644.5h0M461.7 636.3h0M477.4 644.8h0M486.4 642.2h0M479.2 654.9h0M480.5 644.4h0M492.3 651.7h0M478.2 640.4h0M477.4 652.9h0M460.7 643.1h0M476.6 649.7h0M480.8 643.9h0M467.8 645.0h0M494.3 642.6h0M471.5 640.7h0M498.7 650.4h0M461.1 651.3h0M492.8 648.5h0M492.4 638.2h0M492.4 658.6h0M455.3 658.5h0M456.5 649.1h0M474.6 646.8h0M462.9 639.0h0M484.4 649.8h0M474.4 654.4h0M476.7 650.2h0M496.5 650.5h0M456.0 643.9h0M473.4 646.1h0M463.5 648.3h0M475.8 656.7h0M468.8 638.8h0M492.6 652.6h0M497.0 651.4h0M489.6 643.6h0M490.4 644.6h0M496.0 659.0h0M457.0 642.8h0M467.1 645.3h0M456.8 651.9h0M477.4 640.6h0M488.1 645.3h0M455.7 650.2h0M480.1 645.3h0M487.8 647.8h0M484.3 649.1h0M470.0 650.4h0M479.0 646.8h0M477.3 645.8h0M498.4 643.5h0M456.0 643.4h0M461.9 648.1h0M481.2 643.8h0M466.3 643.5h0M484.6 645.0h0M488.3 652.7h0M476.1 642.9h0M463.8 654.1h0M488.6 648.4h0M482.4 635.4h0M470.2 644.7h0M472.2 646.7h0M477.9 641.2h0M487.1 644.4h0M482.7 643.3h0M493.1 644.7h0M480.8 648.9h0M468.0 641.1h0M482.4 648.2h0M492.9 641.1h0M490.5 649.1h0M461.2 645.5h0M459.7 640.3h0M491.5 647.5h0M486.4 653.2h0M463.2 649.6h0M497.5 644.1h0M464.8 646.5h0M466.1 651.9h0M483.2 648.2h0M483.7 651.6h0M497.2 651.7h0M463.1 645.4h0M462.4 653.2h0M459.9 646.6h0M483.9 643.4h0M461.3 645.4h0M461.9 646.0h0M458.4 638.5h0M456.4 633.3h0M469.1 635.1h0M496.8 630.0h0M466.3 630.3h0M470.5 635.4h0M460.3 637.5h0M489.2 619.4h0M473.7 628.7h0M470.2 612.7h0M465.7 632.1h0M479.2 635.7h0M489.8 633.7h0M462.4 635.5h0M462.1 631.4h0M492.9 638.3h0M457.4 637.4h0M476.6 623.3h0M470.6 629.9h0M464.3 628.0h0M470.8 634.2h0M483.8 636.6h0M481.6 637.6h0M470.1 632.3h0M482.5 633.8h0M465.0 631.1h0M476.3 635.1h0M496.9 634.3h0M482.4 632.5h0M490.7 638.1h0M464.9 626.0h0M486.9 632.2h0M468.9 627.2h0M478.5 631.5h0M492.2 627.5h0M477.2 634.9h0M487.0 638.1h0M468.9 630.8h0M464.4 622.3h0M463.0 636.1h0M465.2 637.9h0M463.4 627.4h0M461.5 626.8h0M472.5 626.7h0M476.3 636.6h0M470.2 635.8h0M463.5 637.4h0M482.7 630.6h0M491.9 630.2h0M479.0 623.7h0M495.2 634.8h0M488.8 636.5h0M482.7 639.2h0M492.9 631.7h0M468.4 634.5h0M475.7 632.5h0M461.9 632.1h0M470.9 631.6h0M479.0 628.0h0M492.8 637.4h0M470.2 625.5h0M475.0 630.6h0M495.1 632.2h0M476.0 637.3h0M484.9 636.0h0M479.2 637.0h0M469.5 634.7h0M473.2 636.4h0M468.8 627.4h0M469.5 635.2h0M478.1 637.8h0M497.6 632.6h0M492.2 637.9h0M462.2 638.6h0M482.9 620.3h0M455.8 637.5h0M478.6 636.0h0M489.7 628.4h0M485.5 637.9h0M459.9 639.1h0M462.6 616.8h0M467.7 637.6h0M491.0 637.0h0M458.6 635.9h0M468.3 618.5h0M460.2 631.9h0M489.6 627.1h0M481.8 631.4h0M487.4 638.2h0M470.6 631.8h0M487.1 626.2h0M471.9 637.8h0M493.3 636.0h0M462.4 628.2h0M470.2 636.0h0M468.6 639.2h0M493.9 636.0h0M482.6 628.5h0M485.7 632.8h0M484.6 637.7h0M469.8 634.7h0M483.1 637.0h0M472.2 621.0h0M462.6 638.4h0M487.4 637.0h0M490.2 629.4h0M476.4 637.5h0M475.8 629.5h0M477.7 625.3h0M491.6 635.9h0M462.5 627.0h0M462.0 637.0h0M487.2 633.0h0M475.1 628.0h0M467.3 636.7h0M456.2 637.9h0M461.6 622.4h0M462.0 624.6h0M459.9 638.6h0M470.3 635.1h0M481.2 631.6h0M462.4 628.5h0M476.5 634.5h0M479.3 631.9h0M479.4 629.7h0M470.8 634.5h0M463.9 636.9h0M464.2 632.9h0M482.7 630.7h0M494.5 638.7h0M494.4 637.2h0M486.5 631.7h0M463.8 636.9h0M462.0 638.9h0M490.1 629.4h0M456.3 636.9h0M475.7 633.6h0M463.2 632.7h0M488.4 630.0h0M491.9 628.1h0M473.8 637.9h0M482.5 639.3h0M465.3 630.3h0M459.7 634.7h0M464.5 632.3h0M468.3 634.3h0M474.7 624.6h0M479.4 628.6h0M473.2 635.3h0M467.0 632.4h0M481.2 617.7h0M482.9 635.8h0M487.7 625.9h0M484.4 636.8h0M471.0 636.6h0M489.1 637.2h0M489.4 633.0h0M480.2 629.2h0M467.1 634.1h0M474.8 637.4h0M471.5 616.0h0M459.3 632.8h0M490.1 635.6h0M465.0 626.8h0M472.0 633.3h0M487.4 626.3h0M483.6 626.9h0M482.2 633.3h0M462.1 630.5h0M457.5 636.9h0M474.7 632.3h0M480.9 636.7h0M497.1 637.7h0M492.6 636.7h0M481.1 636.5h0M466.7 636.4h0M471.4 632.6h0M471.2 634.6h0M469.6 634.1h0M468.8 635.1h0M481.3 633.1h0M492.7 628.0h0M484.1 633.5h0M486.3 637.3h0M475.6 637.0h0M478.4 637.0h0M473.1 627.8h0M484.8 630.8h0M463.6 634.8h0M476.2 633.5h0M471.7 637.4h0M479.2 635.0h0M461.3 633.5h0M458.6 634.2h0M474.8 628.8h0M494.5 639.0h0M484.8 638.5h0M463.9 634.9h0M458.8 632.8h0M469.3 619.6h0M474.3 627.9h0M497.1 634.5h0M477.1 629.8h0M487.2 635.2h0M494.3 631.7h0M497.0 638.8h0M477.9 633.9h0M489.6 639.1h0M468.2 622.8h0M479.2 631.0h0M495.0 635.7h0M479.6 635.8h0M495.5 637.4h0M479.9 638.5h0M471.7 636.9h0M478.2 626.4h0M489.2 638.9h0M488.5 626.9h0M460.1 635.2h0M461.3 637.1h0M483.7 633.1h0M494.9 628.6h0M478.9 626.7h0M493.9 632.2h0M490.3 616.0h0M456.2 637.0h0M456.5 631.8h0M480.1 635.0h0M476.8 635.8h0M471.8 636.0h0M471.8 633.6h0M474.7 628.1h0M474.9 637.6h0M488.4 637.3h0M489.0 636.1h0M481.6 624.7h0M489.4 637.5h0M487.1 635.8h0M489.9 637.6h0M491.4 632.1h0M456.7 631.3h0M473.1 625.0h0M482.6 635.7h0M472.8 635.9h0M493.1 626.9h0M460.6 630.5h0M487.2 638.9h0M471.5 637.1h0M459.0 635.3h0M463.1 634.3h0M476.0 630.7h0M468.0 617.2h0M486.2 624.1h0M472.4 627.9h0M489.3 631.8h0M478.4 631.3h0M488.0 623.6h0M475.3 632.5h0M490.0 638.8h0M474.0 623.6h0M488.0 635.4h0M466.6 621.3h0M462.7 631.6h0M491.3 637.5h0M470.2 628.1h0M471.0 639.0h0M460.9 633.4h0M486.9 627.3h0M465.6 622.8h0M478.1 631.9h0M483.7 638.3h0M468.0 636.3h0M483.4 627.3h0M497.4 639.3h0M471.5 635.3h0M474.6 627.9h0M477.9 630.1h0M490.5 633.6h0M476.3 637.8h0M496.2 631.0h0M469.7 636.8h0M482.7 637.0h0M483.6 629.1h0M463.4 634.3h0M492.5 638.8h0M481.2 636.1h0M461.0 627.7h0M479.8 639.1h0M489.3 639.0h0M461.1 631.1h0M470.2 634.3h0M473.1 633.0h0M471.3 639.2h0M476.3 639.2h0M470.9 625.4h0M491.3 635.0h0M475.7 624.0h0M473.0 626.4h0M473.7 638.0h0M474.3 632.2h0M472.6 617.9h0M473.2 633.4h0M462.9 638.7h0M473.9 628.1h0M468.2 622.2h0M472.3 634.9h0M468.3 627.7h0M464.7 633.8h0M460.1 635.5h0M466.4 638.5h0M478.8 625.7h0M459.3 639.1h0M481.3 627.9h0M484.4 621.3h0M463.0 626.0h0M485.1 636.2h0M468.8 639.3h0M462.3 638.6h0M470.3 635.4h0M459.6 636.6h0M495.5 629.6h0M457.0 632.5h0M488.2 628.1h0M471.1 621.1h0M467.2 634.5h0M482.5 633.9h0M456.9 632.2h0M472.6 634.7h0M474.0 637.9h0M463.4 635.1h0M457.3 636.4h0M469.0 629.4h0M482.8 632.7h0M456.0 634.7h0M472.9 623.9h0M481.7 635.2h0M488.3 637.9h0M491.1 636.1h0M480.3 637.1h0M491.5 637.8h0M466.6 628.5h0M457.1 639.2h0M490.3 629.6h0M464.0 638.7h0M470.6 626.0h0M495.0 635.0h0M459.4 635.7h0M459.6 630.6h0M487.1 635.4h0M481.2 633.8h0M458.0 632.6h0M494.4 635.7h0M466.4 634.1h0M469.6 634.3h0M461.3 634.0h0M472.5 638.7h0M480.5 633.4h0M486.1 631.0h0M493.7 635.5h0M488.7 629.6h0M491.0 636.9h0M466.3 637.7h0M487.9 628.3h0M494.6 634.6h0M492.6 634.0h0M482.8 620.8h0M475.0 628.5h0M482.4 634.4h0M459.6 628.9h0M473.0 632.4h0M463.5 628.1h0M476.5 630.8h0M464.4 635.7h0M482.8 625.9h0M489.0 628.7h0M481.5 639.1h0M485.1 637.6h0M463.0 635.2h0M458.5 637.0h0M484.2 630.8h0M463.6 632.9h0M494.6 632.5h0M494.5 634.0h0M486.8 631.7h0M456.2 630.7h0M464.3 629.1h0M476.7 637.4h0M472.0 624.0h0M482.2 630.4h0M477.1 634.8h0M491.0 630.3h0M482.6 637.7h0M462.2 631.1h0M475.7 636.4h0M497.3 630.5h0M475.9 638.5h0M459.6 635.6h0M463.1 620.7h0M492.4 624.3h0M469.5 627.0h0M465.1 633.4h0M493.5 628.3h0M461.5 638.5h0M472.9 632.4h0M485.3 635.6h0M458.6 630.0h0M476.5 631.8h0M470.8 628.3h0M465.8 630.2h0M492.5 636.3h0M456.7 634.3h0M457.6 635.8h0M477.5 624.8h0M462.9 633.8h0M471.0 630.5h0M468.8 631.3h0M497.0 633.7h0M477.8 625.6h0M475.0 628.9h0M492.9 638.7h0M490.4 596.2h0M491.6 608.3h0M470.2 623.5h0M489.6 598.9h0M473.3 607.5h0M475.3 610.3h0M470.9 611.3h0M469.0 597.7h0M465.6 597.4h0M463.2 608.9h0M483.2 615.7h0M472.7 603.6h0M464.8 598.0h0M488.0 614.4h0" stroke="#24458a" stroke-width="1.8" stroke-linecap="round" stroke-opacity="0.62"/>
<path d="M461.5 641.1h0M472.7 640.8h0M473.8 654.4h0M459.4 652.7h0M466.7 643.4h0M483.1 639.7h0M459.9 652.9h0M494.1 643.9h0M461.8 649.4h0M486.5 646.8h0M475.0 642.2h0M470.9 639.5h0M491.6 653.4h0M495.1 644.8h0M465.0 642.1h0M488.9 651.7h0M484.1 646.4h0M457.9 648.0h0M484.8 647.0h0M483.2 645.1h0M489.0 651.6h0M467.2 643.3h0M493.9 654.2h0M477.6 639.4h0M487.6 640.7h0M492.9 643.8h0M476.2 642.8h0M487.5 651.5h0M472.3 649.5h0M474.6 641.8h0M460.5 652.6h0M482.1 652.6h0M476.9 641.0h0M479.9 651.6h0M495.5 639.8h0M486.0 642.4h0M460.3 644.8h0M463.5 640.7h0M471.3 650.2h0M481.2 645.6h0M471.6 643.3h0M485.6 643.7h0M478.0 644.1h0M494.2 647.8h0M462.5 648.0h0M496.0 644.6h0M479.8 640.6h0M484.0 646.7h0M463.1 643.2h0M487.9 648.9h0M494.6 645.7h0M458.8 654.1h0M490.0 643.1h0M480.0 654.4h0M460.2 647.5h0M460.1 645.4h0M458.6 642.9h0M472.9 642.7h0M490.4 650.8h0M467.8 646.8h0M479.0 651.8h0M485.4 642.7h0M465.9 643.1h0M460.3 649.0h0M470.1 646.3h0M480.4 639.4h0M476.6 654.0h0M472.9 653.1h0M493.9 642.5h0M477.7 650.7h0M463.2 650.1h0M476.0 640.3h0M489.4 639.4h0M476.4 645.6h0M488.9 649.8h0M462.6 639.9h0M459.6 654.3h0M470.8 643.0h0M475.5 653.0h0M482.5 650.7h0M481.1 644.7h0M486.6 646.1h0M495.2 644.4h0M494.3 651.6h0M489.0 643.6h0M485.7 648.9h0M494.7 650.1h0M471.3 640.6h0M481.9 640.0h0M457.1 648.3h0M471.9 644.1h0M476.4 649.6h0M484.4 639.8h0M484.0 649.8h0M474.5 650.9h0M491.9 647.1h0M481.8 641.4h0M490.8 645.7h0M474.7 639.6h0M468.1 646.8h0M473.5 640.3h0M487.0 652.7h0M464.0 652.5h0M481.7 650.4h0M496.4 651.6h0M468.6 648.4h0M461.6 650.2h0M461.3 646.3h0M468.1 651.3h0M475.7 649.3h0M492.2 640.0h0M479.2 651.2h0M461.1 645.4h0M465.7 639.4h0M476.9 643.5h0M464.7 645.8h0M493.8 652.5h0M485.1 643.6h0M488.6 648.1h0M494.9 647.9h0M459.6 650.1h0M481.9 649.5h0M460.3 648.2h0M486.5 641.7h0M476.9 651.5h0M462.8 650.3h0M467.2 650.3h0M484.3 647.5h0M478.3 652.1h0M457.6 647.3h0M471.6 643.7h0M494.4 641.7h0M461.3 653.5h0M478.6 643.3h0M483.9 639.6h0M474.1 651.2h0M490.1 646.0h0M457.7 646.4h0M468.4 648.6h0M472.9 645.3h0M489.4 647.4h0M495.7 647.7h0M469.0 647.4h0M468.0 641.2h0M487.9 642.0h0M470.1 653.4h0M467.2 654.2h0M478.9 651.2h0M471.0 647.4h0M488.4 653.2h0" stroke="#5a78b0" stroke-width="1.0" stroke-linecap="round" stroke-opacity="0.6"/>
<path d="M468.6 667.8h0M467.8 667.8h0M463.2 667.8h0M463.0 667.8h0M463.8 667.8h0M467.7 667.8h0M462.5 667.8h0M469.4 667.8h0M484.2 667.8h0M489.6 667.8h0M489.1 667.8h0M487.1 667.8h0" stroke="#8a9ac0" stroke-width="1.8" stroke-linecap="round"/>
<path d="M476.8 590.5 V639 M476.8 657 V668" stroke="#1a2a5a" stroke-width="1.3"/>
<path d="M476.8 618 q1 14 8 21 h-16 q7 -7 8 -21z" fill="#1f3d82"/>
<path d="M476.8 590.8h0M476.8 668.0h0" stroke="#1a2a5a" stroke-width="2.6" stroke-linecap="round"/>
<path d="M438.5 650.4h0M410.6 643.1h0M419.0 645.9h0M435.3 646.4h0M446.4 628.1h0M412.5 639.9h0M409.7 645.2h0M440.3 657.4h0M411.8 655.0h0M430.0 651.1h0M423.7 622.7h0M441.1 657.2h0M437.7 637.6h0M407.4 643.2h0M435.4 633.2h0M404.6 653.3h0M421.1 638.6h0M424.9 647.6h0M418.5 659.7h0M449.5 649.5h0M447.8 633.7h0M449.2 654.4h0M402.7 633.0h0M409.9 643.0h0M414.5 633.1h0M441.1 644.3h0M412.7 632.7h0M412.6 649.7h0M440.9 626.5h0M420.3 634.5h0M407.3 638.5h0M402.3 643.8h0M423.0 641.3h0M436.9 639.2h0M420.1 639.1h0M432.8 650.1h0M430.8 636.2h0M439.9 648.2h0M435.0 639.3h0M425.7 638.3h0M403.7 628.2h0M417.5 645.4h0M429.3 639.4h0M424.3 650.2h0M416.7 645.8h0M434.8 646.6h0M411.2 648.6h0M411.5 636.2h0M404.9 642.3h0M429.6 653.7h0M431.5 652.5h0M411.5 642.1h0M410.6 623.3h0M431.5 649.8h0M448.3 640.3h0M419.0 640.4h0M445.3 642.3h0M408.2 658.4h0M411.7 632.9h0M408.2 643.6h0M408.6 634.8h0M409.2 653.7h0M406.5 645.6h0M404.8 643.2h0M420.8 656.2h0M441.4 639.0h0M418.2 639.0h0M413.8 650.0h0M413.7 630.7h0M438.9 638.2h0M435.6 628.4h0M430.5 637.7h0M447.4 634.6h0M446.5 638.1h0M425.6 653.5h0M403.6 642.9h0M415.5 636.2h0M422.0 651.2h0M403.8 640.4h0M440.6 634.2h0M445.2 648.8h0M430.6 631.6h0M446.3 635.2h0M424.9 624.7h0M445.7 639.8h0M424.9 644.6h0M432.7 630.5h0M438.1 636.2h0M430.7 630.2h0M418.9 652.4h0" stroke="#c0d4ec" stroke-width="1.8" stroke-linecap="round" stroke-opacity="0.7"/>
<path d="M425.9 581.4 C426.5 600 426.8 612 428 618 C431 626 440 632 444.3 641 C445 646 440 650 435 653 C430 656 427 657 426.5 659 L426.3 667 L425.5 667 L425.3 659 C424.8 657 421.8 656 416.8 653 C411.8 650 406.8 646 407.5 641 C411.8 632 420.8 626 423.8 618 C425 612 425.3 600 425.9 581.4Z" fill="#d6e6f6" fill-opacity="0.75" stroke="#6a6a6a" stroke-width="0.6"/>
<rect x="406.3" y="636.3" width="39" height="11.7" fill="#b9d4ee" fill-opacity="0.5" stroke="#6a6a6a" stroke-width="0.6"/>
<line x1="406.3" y1="643.4" x2="445.3" y2="643.4" stroke="#6a6a6a" stroke-width="0.7"/>
<path d="M425.9 667.6h0" stroke="#777" stroke-width="2.6" stroke-linecap="round"/>
<path d="M425.9 581.6h0" stroke="#555" stroke-width="1.6" stroke-linecap="round"/>
</svg>
</body></html>
